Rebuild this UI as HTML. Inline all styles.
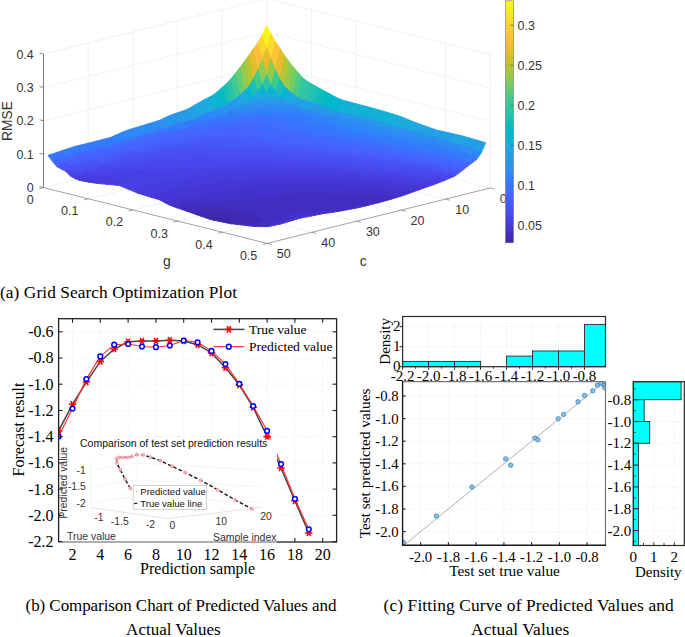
<!DOCTYPE html><html><head><meta charset="utf-8"><style>html,body{margin:0;padding:0;background:#fff;width:685px;height:637px;overflow:hidden}svg{display:block}.s{font-family:"Liberation Sans",sans-serif}.t{font-family:"Liberation Serif",serif}</style></head><body>
<svg width="685" height="637" viewBox="0 0 685 637">
<rect width="685" height="637" fill="#fff"/>
<line x1="43.5" y1="154.2" x2="266.6" y2="98.8" stroke="#e8e8e8" stroke-width="0.6"/>
<line x1="266.6" y1="98.8" x2="490.2" y2="154.6" stroke="#e8e8e8" stroke-width="0.6"/>
<line x1="43.5" y1="120.8" x2="266.6" y2="65.4" stroke="#e8e8e8" stroke-width="0.6"/>
<line x1="266.6" y1="65.4" x2="490.2" y2="121.2" stroke="#e8e8e8" stroke-width="0.6"/>
<line x1="43.5" y1="87.5" x2="266.6" y2="32.1" stroke="#e8e8e8" stroke-width="0.6"/>
<line x1="266.6" y1="32.1" x2="490.2" y2="87.9" stroke="#e8e8e8" stroke-width="0.6"/>
<line x1="43.5" y1="54.1" x2="266.6" y2="-1.3" stroke="#e8e8e8" stroke-width="0.6"/>
<line x1="266.6" y1="-1.3" x2="490.2" y2="54.5" stroke="#e8e8e8" stroke-width="0.6"/>
<line x1="88.1" y1="176.5" x2="88.1" y2="43.0" stroke="#e8e8e8" stroke-width="0.6"/>
<line x1="132.7" y1="165.4" x2="132.7" y2="31.9" stroke="#e8e8e8" stroke-width="0.6"/>
<line x1="177.4" y1="154.4" x2="177.4" y2="20.8" stroke="#e8e8e8" stroke-width="0.6"/>
<line x1="222.0" y1="143.3" x2="222.0" y2="9.8" stroke="#e8e8e8" stroke-width="0.6"/>
<line x1="266.6" y1="132.2" x2="266.6" y2="-1.3" stroke="#e8e8e8" stroke-width="0.6"/>
<line x1="490.2" y1="188.0" x2="490.2" y2="54.5" stroke="#e8e8e8" stroke-width="0.6"/>
<line x1="311.3" y1="143.4" x2="311.3" y2="9.8" stroke="#e8e8e8" stroke-width="0.6"/>
<line x1="356.0" y1="154.5" x2="356.0" y2="21.0" stroke="#e8e8e8" stroke-width="0.6"/>
<line x1="445.5" y1="176.8" x2="445.5" y2="43.3" stroke="#e8e8e8" stroke-width="0.6"/>
<line x1="88.1" y1="176.5" x2="311.7" y2="232.3" stroke="#e8e8e8" stroke-width="0.6"/>
<line x1="88.2" y1="198.8" x2="311.3" y2="143.4" stroke="#e8e8e8" stroke-width="0.6"/>
<line x1="132.7" y1="165.4" x2="356.3" y2="221.2" stroke="#e8e8e8" stroke-width="0.6"/>
<line x1="132.9" y1="209.9" x2="356.0" y2="154.5" stroke="#e8e8e8" stroke-width="0.6"/>
<line x1="177.4" y1="154.4" x2="401.0" y2="210.2" stroke="#e8e8e8" stroke-width="0.6"/>
<line x1="177.7" y1="221.1" x2="400.8" y2="165.7" stroke="#e8e8e8" stroke-width="0.6"/>
<line x1="222.0" y1="143.3" x2="445.6" y2="199.1" stroke="#e8e8e8" stroke-width="0.6"/>
<line x1="222.4" y1="232.2" x2="445.5" y2="176.8" stroke="#e8e8e8" stroke-width="0.6"/>
<line x1="43.5" y1="187.6" x2="266.6" y2="132.2" stroke="#e8e8e8" stroke-width="0.6"/>
<line x1="266.6" y1="132.2" x2="490.2" y2="188.0" stroke="#e8e8e8" stroke-width="0.6"/>
<path d="M266.6 25.9L271.1 34.1L266.6 47.8L262.1 35.1Z" fill="#f7f51b" stroke="#f7f51b" stroke-width="0.9" stroke-linejoin="round"/>
<path d="M262.1 35.1L266.6 47.8L262.2 59.5L257.7 42.7Z" fill="#fad62d" stroke="#fad62d" stroke-width="0.9" stroke-linejoin="round"/>
<path d="M271.1 34.1L275.6 41.7L271.1 59.3L266.6 47.8Z" fill="#f7dc2a" stroke="#f7dc2a" stroke-width="0.9" stroke-linejoin="round"/>
<path d="M257.7 42.7L262.2 59.5L257.7 70.2L253.2 49.1Z" fill="#febe3c" stroke="#febe3c" stroke-width="0.9" stroke-linejoin="round"/>
<path d="M275.6 41.7L280.0 48.5L275.6 70.1L271.1 59.3Z" fill="#fec338" stroke="#fec338" stroke-width="0.9" stroke-linejoin="round"/>
<path d="M253.2 49.1L257.7 70.2L253.2 79.3L248.8 55.4ZM266.6 47.8L271.1 59.3L266.6 74.8L262.2 59.5ZM280.0 48.5L284.5 55.4L280.0 79.5L275.6 70.1Z" fill="#e6bb2d" stroke="#e6bb2d" stroke-width="0.9" stroke-linejoin="round"/>
<path d="M248.8 55.4L253.2 79.3L248.8 86.5L244.3 61.6ZM284.5 55.4L289.0 61.7L284.5 86.7L280.0 79.5Z" fill="#b9c431" stroke="#b9c431" stroke-width="0.9" stroke-linejoin="round"/>
<path d="M244.3 61.6L248.8 86.5L244.3 91.2L239.8 67.8ZM262.2 59.5L266.6 74.8L262.2 85.5L257.7 70.2ZM271.1 59.3L275.6 70.1L271.1 85.5L266.6 74.8ZM289.0 61.7L293.4 67.0L289.0 90.8L284.5 86.7Z" fill="#8fcb4e" stroke="#8fcb4e" stroke-width="0.9" stroke-linejoin="round"/>
<path d="M239.8 67.8L244.3 91.2L239.8 94.9L235.4 73.3Z" fill="#64cd6f" stroke="#64cd6f" stroke-width="0.9" stroke-linejoin="round"/>
<path d="M293.4 67.0L297.9 72.4L293.5 94.2L289.0 90.8Z" fill="#72cd64" stroke="#72cd64" stroke-width="0.9" stroke-linejoin="round"/>
<path d="M235.4 73.3L239.8 94.9L235.4 99.0L230.9 78.9ZM257.7 70.2L262.2 85.5L257.7 91.4L253.2 79.3ZM275.6 70.1L280.0 79.5L275.6 91.4L271.1 85.5Z" fill="#3fca8e" stroke="#3fca8e" stroke-width="0.9" stroke-linejoin="round"/>
<path d="M297.9 72.4L302.4 77.6L297.9 97.8L293.5 94.2Z" fill="#4acb84" stroke="#4acb84" stroke-width="0.9" stroke-linejoin="round"/>
<path d="M230.9 78.9L235.4 99.0L230.9 101.7L226.5 83.5ZM266.6 74.8L271.1 85.5L266.6 92.6L262.2 85.5ZM306.9 81.1L311.3 83.7L306.9 100.5L302.4 99.7Z" fill="#2cc4a7" stroke="#2cc4a7" stroke-width="0.9" stroke-linejoin="round"/>
<path d="M302.4 77.6L306.9 81.1L302.4 99.7L297.9 97.8Z" fill="#31c69f" stroke="#31c69f" stroke-width="0.9" stroke-linejoin="round"/>
<path d="M226.5 83.5L230.9 101.7L226.5 103.7L222.0 87.6ZM253.2 79.3L257.7 91.4L253.2 96.9L248.8 86.5ZM280.0 79.5L284.5 86.7L280.0 97.0L275.6 91.4ZM315.8 86.3L320.3 88.8L315.8 103.8L311.3 102.2Z" fill="#19bfb6" stroke="#19bfb6" stroke-width="0.9" stroke-linejoin="round"/>
<path d="M222.0 87.6L226.5 103.7L222.0 106.5L217.5 91.7ZM324.7 91.2L329.2 93.6L324.8 106.7L320.3 105.2Z" fill="#02bac3" stroke="#02bac3" stroke-width="0.9" stroke-linejoin="round"/>
<path d="M311.3 83.7L315.8 86.3L311.3 102.2L306.9 100.5Z" fill="#24c1ae" stroke="#24c1ae" stroke-width="0.9" stroke-linejoin="round"/>
<path d="M217.5 91.7L222.0 106.5L217.5 108.8L213.1 95.1ZM248.8 86.5L253.2 96.9L248.8 100.2L244.3 91.2ZM262.2 85.5L266.6 92.6L262.2 98.4L257.7 91.4ZM271.1 85.5L275.6 91.4L271.1 98.4L266.6 92.6ZM284.5 86.7L289.0 90.8L284.5 99.9L280.0 97.0ZM338.2 98.4L342.6 100.0L338.2 112.5L333.7 110.2Z" fill="#08b5d0" stroke="#08b5d0" stroke-width="0.9" stroke-linejoin="round"/>
<path d="M213.1 95.1L217.5 108.8L213.1 110.5L208.6 97.4ZM342.6 100.0L347.1 101.3L342.6 113.0L338.2 112.5ZM347.1 101.3L351.6 102.5L347.1 113.7L342.6 113.0ZM351.6 102.5L356.1 103.7L351.6 114.5L347.1 113.7ZM356.1 103.7L360.5 104.9L356.1 115.3L351.6 114.5ZM360.5 104.9L365.0 106.1L360.5 116.7L356.1 115.3ZM365.0 106.1L369.5 107.3L365.0 117.9L360.5 116.7ZM369.5 107.3L373.9 108.5L369.5 119.1L365.0 117.9ZM373.9 108.5L378.4 109.7L373.9 120.1L369.5 119.1ZM378.4 109.7L382.9 111.0L378.4 121.3L373.9 120.1ZM382.9 111.0L387.4 112.4L382.9 122.5L378.4 121.3ZM387.4 112.4L391.8 113.7L387.4 123.8L382.9 122.5ZM391.8 113.7L396.3 115.1L391.8 125.0L387.4 123.8Z" fill="#12b1d6" stroke="#12b1d6" stroke-width="0.9" stroke-linejoin="round"/>
<path d="M320.3 88.8L324.7 91.2L320.3 105.2L315.8 103.8Z" fill="#0bbdbd" stroke="#0bbdbd" stroke-width="0.9" stroke-linejoin="round"/>
<path d="M208.6 97.4L213.1 110.5L208.6 112.1L204.1 99.7ZM244.3 91.2L248.8 100.2L244.3 103.5L239.8 94.9ZM289.0 90.8L293.5 94.2L289.0 102.7L284.5 99.9ZM396.3 115.1L400.8 116.6L396.3 126.4L391.8 125.0ZM400.8 116.6L405.2 118.4L400.8 127.8L396.3 126.4ZM405.2 118.4L409.7 120.2L405.3 129.2L400.8 127.8Z" fill="#18addb" stroke="#18addb" stroke-width="0.9" stroke-linejoin="round"/>
<path d="M204.1 99.7L208.6 112.1L204.2 113.8L199.7 102.2ZM199.7 102.2L204.2 113.8L199.7 116.3L195.2 104.8ZM257.7 91.4L262.2 98.4L257.7 102.1L253.2 96.9ZM275.6 91.4L280.0 97.0L275.6 102.2L271.1 98.4ZM293.5 94.2L297.9 97.8L293.5 104.9L289.0 102.7ZM409.7 120.2L414.2 122.0L409.7 130.3L405.3 129.2ZM414.2 122.0L418.7 123.7L414.2 131.5L409.7 130.3Z" fill="#1ca9df" stroke="#1ca9df" stroke-width="0.9" stroke-linejoin="round"/>
<path d="M329.2 93.6L333.7 96.0L329.2 108.0L324.8 106.7ZM333.7 96.0L338.2 98.4L333.7 110.2L329.2 108.0Z" fill="#01b8ca" stroke="#01b8ca" stroke-width="0.9" stroke-linejoin="round"/>
<path d="M195.2 104.8L199.7 116.3L195.2 119.2L190.8 107.4ZM239.8 94.9L244.3 103.5L239.9 106.1L235.4 99.0ZM266.6 92.6L271.1 98.4L266.7 103.0L262.2 98.4ZM418.7 123.7L423.1 125.3L418.7 132.6L414.2 131.5ZM423.1 125.3L427.6 126.9L423.1 134.0L418.7 132.6ZM427.6 126.9L432.1 128.5L427.6 135.6L423.1 134.0ZM454.4 134.1L458.9 135.1L454.4 143.0L450.0 141.9ZM458.9 135.1L463.4 136.2L458.9 144.2L454.4 143.0ZM463.4 136.2L467.9 137.5L463.4 145.4L458.9 144.2Z" fill="#20a5e3" stroke="#20a5e3" stroke-width="0.9" stroke-linejoin="round"/>
<path d="M190.8 107.4L195.2 119.2L190.8 120.4L186.3 109.7ZM297.9 97.8L302.4 99.7L297.9 106.0L293.5 104.9ZM302.4 99.7L306.9 100.5L302.4 107.2L297.9 106.0ZM306.9 100.5L311.3 102.2L306.9 110.1L302.4 107.2ZM311.3 102.2L315.8 103.8L311.3 110.6L306.9 110.1ZM432.1 128.5L436.5 130.1L432.1 137.1L427.6 135.6ZM436.5 130.1L441.0 131.1L436.6 138.3L432.1 137.1ZM441.0 131.1L445.5 132.1L441.0 139.5L436.6 138.3ZM445.5 132.1L450.0 133.1L445.5 140.7L441.0 139.5ZM450.0 133.1L454.4 134.1L450.0 141.9L445.5 140.7ZM467.9 137.5L472.3 138.8L467.9 146.7L463.4 145.4ZM472.3 138.8L476.8 140.1L472.3 148.2L467.9 146.7ZM476.8 140.1L481.3 141.4L476.8 150.0L472.3 148.2ZM481.3 141.4L485.7 142.7L481.3 152.8L476.8 150.0Z" fill="#23a0e5" stroke="#23a0e5" stroke-width="0.9" stroke-linejoin="round"/>
<path d="M186.3 109.7L190.8 120.4L186.3 121.6L181.8 111.3ZM181.8 111.3L186.3 121.6L181.8 122.7L177.4 112.8ZM235.4 99.0L239.9 106.1L235.4 108.0L230.9 101.7ZM253.2 96.9L257.7 102.1L253.3 105.0L248.8 100.2ZM280.0 97.0L284.5 99.9L280.1 104.7L275.6 102.2ZM315.8 103.8L320.3 105.2L315.8 111.4L311.3 110.6ZM320.3 105.2L324.8 106.7L320.3 112.6L315.8 111.4ZM324.8 106.7L329.2 108.0L324.8 114.5L320.3 112.6ZM329.2 108.0L333.7 110.2L329.2 116.0L324.8 114.5Z" fill="#259be8" stroke="#259be8" stroke-width="0.9" stroke-linejoin="round"/>
<path d="M177.4 112.8L181.8 122.7L177.4 123.8L172.9 114.3ZM172.9 114.3L177.4 123.8L172.9 125.7L168.4 116.1ZM168.4 116.1L172.9 125.7L168.5 127.5L164.0 118.2ZM230.9 101.7L235.4 108.0L230.9 110.1L226.5 103.7ZM226.5 103.7L230.9 110.1L226.5 113.9L222.0 106.5ZM248.8 100.2L253.3 105.0L248.8 107.2L244.3 103.5ZM262.2 98.4L266.7 103.0L262.2 105.5L257.7 102.1ZM271.1 98.4L275.6 102.2L271.1 105.6L266.7 103.0ZM284.5 99.9L289.0 102.7L284.5 106.5L280.1 104.7ZM333.7 110.2L338.2 112.5L333.7 116.8L329.2 116.0ZM342.6 113.0L347.1 113.7L342.7 118.4L338.2 117.5ZM347.1 113.7L351.6 114.5L347.1 119.4L342.7 118.4ZM351.6 114.5L356.1 115.3L351.6 120.4L347.1 119.4ZM356.1 115.3L360.5 116.7L356.1 121.2L351.6 120.4ZM360.5 116.7L365.0 117.9L360.5 122.0L356.1 121.2ZM365.0 117.9L369.5 119.1L365.0 122.8L360.5 122.0ZM369.5 119.1L373.9 120.1L369.5 123.9L365.0 122.8ZM373.9 120.1L378.4 121.3L374.0 125.1L369.5 123.9ZM378.4 121.3L382.9 122.5L378.4 126.5L374.0 125.1ZM382.9 122.5L387.4 123.8L382.9 127.8L378.4 126.5ZM387.4 123.8L391.8 125.0L387.4 129.1L382.9 127.8ZM391.8 125.0L396.3 126.4L391.8 130.4L387.4 129.1ZM396.3 126.4L400.8 127.8L396.3 131.9L391.8 130.4Z" fill="#2797eb" stroke="#2797eb" stroke-width="0.9" stroke-linejoin="round"/>
<path d="M164.0 118.2L168.5 127.5L164.0 129.4L159.5 120.3ZM222.0 106.5L226.5 113.9L222.0 115.1L217.5 108.8ZM244.3 103.5L248.8 107.2L244.3 111.5L239.9 106.1ZM257.7 102.1L262.2 105.5L257.7 109.5L253.3 105.0ZM275.6 102.2L280.1 104.7L275.6 109.2L271.1 105.6ZM289.0 102.7L293.5 104.9L289.0 110.3L284.5 106.5ZM338.2 112.5L342.6 113.0L338.2 117.5L333.7 116.8ZM400.8 127.8L405.3 129.2L400.8 133.3L396.3 131.9ZM405.3 129.2L409.7 130.3L405.3 134.6L400.8 133.3ZM409.7 130.3L414.2 131.5L409.7 135.8L405.3 134.6ZM414.2 131.5L418.7 132.6L414.2 137.0L409.7 135.8ZM418.7 132.6L423.1 134.0L418.7 138.5L414.2 137.0ZM423.1 134.0L427.6 135.6L423.1 140.0L418.7 138.5ZM427.6 135.6L432.1 137.1L427.6 141.5L423.1 140.0Z" fill="#2b91ef" stroke="#2b91ef" stroke-width="0.9" stroke-linejoin="round"/>
<path d="M159.5 120.3L164.0 129.4L159.5 130.6L155.1 121.7ZM155.1 121.7L159.5 130.6L155.1 131.8L150.6 123.1ZM150.6 123.1L155.1 131.8L150.6 133.0L146.1 124.4ZM146.1 124.4L150.6 133.0L146.1 134.2L141.7 125.8ZM141.7 125.8L146.1 134.2L141.7 135.4L137.2 127.2ZM137.2 127.2L141.7 135.4L137.2 136.6L132.8 128.5ZM217.5 108.8L222.0 115.1L217.5 116.3L213.1 110.5ZM213.1 110.5L217.5 116.3L213.1 117.8L208.6 112.1ZM239.9 106.1L244.3 111.5L239.9 112.7L235.4 108.0ZM253.3 105.0L257.7 109.5L253.3 111.6L248.8 107.2ZM266.7 103.0L271.1 105.6L266.7 110.5L262.2 105.5ZM280.1 104.7L284.5 106.5L280.1 110.9L275.6 109.2ZM293.5 104.9L297.9 106.0L293.5 110.9L289.0 110.3ZM297.9 106.0L302.4 107.2L297.9 111.2L293.5 110.9ZM302.4 107.2L306.9 110.1L302.4 112.9L297.9 111.2ZM311.3 110.6L315.8 111.4L311.4 115.1L306.9 114.2ZM315.8 111.4L320.3 112.6L315.8 116.1L311.4 115.1ZM320.3 112.6L324.8 114.5L320.3 117.1L315.8 116.1ZM342.7 118.4L347.1 119.4L342.7 121.8L338.2 120.8ZM347.1 119.4L351.6 120.4L347.1 122.9L342.7 121.8ZM351.6 120.4L356.1 121.2L351.6 123.8L347.1 122.9ZM356.1 121.2L360.5 122.0L356.1 124.7L351.6 123.8ZM360.5 122.0L365.0 122.8L360.6 125.7L356.1 124.7ZM365.0 122.8L369.5 123.9L365.0 126.8L360.6 125.7ZM369.5 123.9L374.0 125.1L369.5 128.1L365.0 126.8ZM374.0 125.1L378.4 126.5L374.0 129.4L369.5 128.1ZM378.4 126.5L382.9 127.8L378.4 130.8L374.0 129.4ZM382.9 127.8L387.4 129.1L382.9 132.1L378.4 130.8ZM387.4 129.1L391.8 130.4L387.4 133.5L382.9 132.1ZM391.8 130.4L396.3 131.9L391.9 134.9L387.4 133.5ZM396.3 131.9L400.8 133.3L396.3 136.4L391.9 134.9ZM432.1 137.1L436.6 138.3L432.1 142.8L427.6 141.5ZM436.6 138.3L441.0 139.5L436.6 144.1L432.1 142.8ZM441.0 139.5L445.5 140.7L441.0 145.4L436.6 144.1ZM445.5 140.7L450.0 141.9L445.5 146.7L441.0 145.4ZM450.0 141.9L454.4 143.0L450.0 148.0L445.5 146.7ZM454.4 143.0L458.9 144.2L454.5 149.3L450.0 148.0ZM458.9 144.2L463.4 145.4L458.9 150.7L454.5 149.3ZM463.4 145.4L467.9 146.7L463.4 152.2L458.9 150.7ZM467.9 146.7L472.3 148.2L467.9 154.0L463.4 152.2ZM472.3 148.2L476.8 150.0L472.3 156.2L467.9 154.0Z" fill="#2d8cf3" stroke="#2d8cf3" stroke-width="0.9" stroke-linejoin="round"/>
<path d="M164.0 129.4L168.5 132.2L164.0 133.5L159.5 130.6ZM159.5 130.6L164.0 133.5L159.5 134.8L155.1 131.8ZM155.1 131.8L159.5 134.8L155.1 136.1L150.6 133.0ZM150.6 133.0L155.1 136.1L150.6 137.3L146.1 134.2ZM146.1 134.2L150.6 137.3L146.2 138.6L141.7 135.4ZM141.7 135.4L146.2 138.6L141.7 139.9L137.2 136.6ZM137.2 136.6L141.7 139.9L137.2 141.1L132.8 137.8ZM132.8 137.8L137.2 141.1L132.8 142.4L128.3 139.1ZM128.3 139.1L132.8 142.4L128.3 143.6L123.8 140.3ZM123.8 140.3L128.3 143.6L123.8 144.8L119.4 141.5ZM119.4 141.5L123.8 144.8L119.4 146.1L114.9 142.7ZM114.9 142.7L119.4 146.1L114.9 147.3L110.5 143.9ZM110.5 143.9L114.9 147.3L110.5 148.5L106.0 145.1ZM106.0 145.1L110.5 148.5L106.0 149.8L101.5 146.3ZM204.2 121.9L208.6 123.7L204.2 125.0L199.7 123.2ZM199.7 123.2L204.2 125.0L199.7 126.4L195.2 124.5ZM195.2 124.5L199.7 126.4L195.2 127.7L190.8 125.8ZM190.8 125.8L195.2 127.7L190.8 129.1L186.3 127.1ZM186.3 127.1L190.8 129.1L186.3 130.4L181.9 128.4ZM181.9 128.4L186.3 130.4L181.9 131.7L177.4 129.7ZM226.5 118.3L231.0 120.1L226.5 121.5L222.0 119.7ZM222.0 119.7L226.5 121.5L222.0 122.8L217.6 121.0ZM217.6 121.0L222.0 122.8L217.6 124.2L213.1 122.3ZM213.1 122.3L217.6 124.2L213.1 125.6L208.6 123.7ZM208.6 123.7L213.1 125.6L208.6 127.0L204.2 125.0ZM204.2 125.0L208.6 127.0L204.2 128.4L199.7 126.4ZM244.3 116.0L248.8 117.9L244.4 119.3L239.9 117.4ZM239.9 117.4L244.4 119.3L239.9 120.7L235.4 118.7ZM235.4 118.7L239.9 120.7L235.4 122.1L231.0 120.1ZM231.0 120.1L235.4 122.1L231.0 123.6L226.5 121.5ZM226.5 121.5L231.0 123.6L226.5 125.0L222.0 122.8ZM222.0 122.8L226.5 125.0L222.0 126.5L217.6 124.2ZM253.3 116.4L257.7 117.8L253.3 119.3L248.8 117.9ZM248.8 117.9L253.3 119.3L248.8 120.7L244.4 119.3ZM244.4 119.3L248.8 120.7L244.4 122.2L239.9 120.7ZM239.9 120.7L244.4 122.2L239.9 123.7L235.4 122.1ZM262.2 116.3L266.7 117.5L262.2 119.1L257.7 117.8ZM257.7 117.8L262.2 119.1L257.8 120.6L253.3 119.3ZM253.3 119.3L257.8 120.6L253.3 122.1L248.8 120.7ZM248.8 120.7L253.3 122.1L248.8 123.7L244.4 122.2ZM271.1 115.9L275.6 117.0L271.2 118.7L266.7 117.5ZM266.7 117.5L271.2 118.7L266.7 120.2L262.2 119.1ZM262.2 119.1L266.7 120.2L262.2 121.8L257.8 120.6ZM257.8 120.6L262.2 121.8L257.8 123.4L253.3 122.1ZM271.2 118.7L275.6 119.7L271.2 121.3L266.7 120.2ZM266.7 120.2L271.2 121.3L266.7 123.0L262.2 121.8ZM262.2 121.8L266.7 123.0L262.2 124.5L257.8 123.4ZM275.6 119.7L280.1 120.6L275.6 122.3L271.2 121.3ZM271.2 121.3L275.6 122.3L271.2 123.9L266.7 123.0ZM266.7 123.0L271.2 123.9L266.7 125.6L262.2 124.5ZM280.1 120.6L284.6 121.5L280.1 123.2L275.6 122.3ZM275.6 122.3L280.1 123.2L275.6 124.9L271.2 123.9ZM271.2 123.9L275.6 124.9L271.2 126.6L266.7 125.6ZM284.6 121.5L289.0 122.4L284.6 124.2L280.1 123.2ZM280.1 123.2L284.6 124.2L280.1 125.9L275.6 124.9ZM275.6 124.9L280.1 125.9L275.7 127.7L271.2 126.6ZM284.6 124.2L289.1 125.3L284.6 127.1L280.1 125.9ZM280.1 125.9L284.6 127.1L280.1 128.9L275.7 127.7ZM289.1 125.3L293.5 126.5L289.1 128.3L284.6 127.1ZM284.6 127.1L289.1 128.3L284.6 130.2L280.1 128.9ZM293.5 126.5L298.0 127.6L293.5 129.5L289.1 128.3ZM289.1 128.3L293.5 129.5L289.1 131.4L284.6 130.2ZM298.0 127.6L302.5 128.7L298.0 130.7L293.5 129.5ZM293.5 129.5L298.0 130.7L293.5 132.6L289.1 131.4ZM302.5 128.7L306.9 130.0L302.5 132.0L298.0 130.7ZM298.0 130.7L302.5 132.0L298.0 134.0L293.5 132.6ZM306.9 130.0L311.4 131.3L306.9 133.4L302.5 132.0ZM311.4 131.3L315.9 132.7L311.4 134.9L306.9 133.4ZM320.3 130.5L324.8 131.9L320.4 134.1L315.9 132.7ZM315.9 132.7L320.4 134.1L315.9 136.2L311.4 134.9ZM324.8 131.9L329.3 133.2L324.8 135.5L320.4 134.1ZM320.4 134.1L324.8 135.5L320.4 137.4L315.9 136.2ZM329.3 133.2L333.8 134.4L329.3 136.7L324.8 135.5ZM333.8 134.4L338.2 135.6L333.8 137.8L329.3 136.7ZM338.2 135.6L342.7 136.9L338.2 139.0L333.8 137.8ZM342.7 136.9L347.2 138.2L342.7 140.3L338.2 139.0ZM347.2 138.2L351.6 139.6L347.2 141.8L342.7 140.3ZM351.6 139.6L356.1 141.1L351.7 143.3L347.2 141.8ZM360.6 138.6L365.1 140.0L360.6 142.5L356.1 141.1ZM365.1 140.0L369.5 141.4L365.1 143.9L360.6 142.5ZM369.5 141.4L374.0 142.8L369.5 145.3L365.1 143.9ZM374.0 142.8L378.5 144.2L374.0 146.8L369.5 145.3ZM387.4 142.9L391.9 144.3L387.4 147.1L382.9 145.7ZM391.9 144.3L396.3 145.7L391.9 148.5L387.4 147.1ZM396.3 145.7L400.8 147.0L396.4 149.9L391.9 148.5ZM400.8 147.0L405.3 148.6L400.8 151.5L396.4 149.9ZM405.3 148.6L409.8 150.1L405.3 153.0L400.8 151.5ZM418.7 148.5L423.2 149.9L418.7 152.9L414.2 151.5ZM423.2 149.9L427.6 151.3L423.2 154.4L418.7 152.9ZM427.6 151.3L432.1 152.7L427.7 155.8L423.2 154.4ZM432.1 152.7L436.6 154.1L432.1 157.3L427.7 155.8ZM436.6 154.1L441.1 155.5L436.6 158.8L432.1 157.3ZM458.9 156.5L463.4 158.4L458.9 162.1L454.5 160.3ZM463.4 158.4L467.9 160.4L463.4 164.1L458.9 162.1Z" fill="#3e6fff" stroke="#3e6fff" stroke-width="0.9" stroke-linejoin="round"/>
<path d="M132.8 128.5L137.2 136.6L132.8 137.8L128.3 129.9ZM128.3 129.9L132.8 137.8L128.3 139.1L123.8 131.5ZM123.8 131.5L128.3 139.1L123.8 140.3L119.4 133.5ZM208.6 112.1L213.1 117.8L208.6 120.0L204.2 113.8ZM204.2 113.8L208.6 120.0L204.2 121.9L199.7 116.3ZM235.4 108.0L239.9 112.7L235.4 113.9L230.9 110.1ZM248.8 107.2L253.3 111.6L248.8 113.1L244.3 111.5ZM262.2 105.5L266.7 110.5L262.2 111.8L257.7 109.5ZM271.1 105.6L275.6 109.2L271.1 111.4L266.7 110.5ZM284.5 106.5L289.0 110.3L284.5 112.0L280.1 110.9ZM306.9 110.1L311.3 110.6L306.9 114.2L302.4 112.9ZM324.8 114.5L329.2 116.0L324.8 118.0L320.3 117.1ZM329.2 116.0L333.7 116.8L329.2 118.9L324.8 118.0ZM333.7 116.8L338.2 117.5L333.7 119.7L329.2 118.9ZM329.2 118.9L333.7 119.7L329.3 122.2L324.8 121.2ZM338.2 117.5L342.7 118.4L338.2 120.8L333.7 119.7ZM333.7 119.7L338.2 120.8L333.7 123.3L329.3 122.2ZM338.2 120.8L342.7 121.8L338.2 124.4L333.7 123.3ZM342.7 121.8L347.1 122.9L342.7 125.5L338.2 124.4ZM347.1 122.9L351.6 123.8L347.1 126.5L342.7 125.5ZM351.6 123.8L356.1 124.7L351.6 127.5L347.1 126.5ZM356.1 124.7L360.6 125.7L356.1 128.5L351.6 127.5ZM360.6 125.7L365.0 126.8L360.6 129.7L356.1 128.5ZM365.0 126.8L369.5 128.1L365.0 131.1L360.6 129.7ZM369.5 128.1L374.0 129.4L369.5 132.5L365.0 131.1ZM374.0 129.4L378.4 130.8L374.0 133.9L369.5 132.5ZM378.4 130.8L382.9 132.1L378.4 135.3L374.0 133.9ZM382.9 132.1L387.4 133.5L382.9 136.7L378.4 135.3ZM400.8 133.3L405.3 134.6L400.8 137.7L396.3 136.4ZM405.3 134.6L409.7 135.8L405.3 139.0L400.8 137.7ZM409.7 135.8L414.2 137.0L409.7 140.3L405.3 139.0ZM414.2 137.0L418.7 138.5L414.2 141.8L409.7 140.3ZM418.7 138.5L423.1 140.0L418.7 143.4L414.2 141.8ZM423.1 140.0L427.6 141.5L423.2 144.9L418.7 143.4ZM476.8 150.0L481.3 152.8L476.8 159.3L472.3 156.2Z" fill="#2e87f7" stroke="#2e87f7" stroke-width="0.9" stroke-linejoin="round"/>
<path d="M119.4 133.5L123.8 140.3L119.4 141.5L114.9 135.5ZM114.9 135.5L119.4 141.5L114.9 142.7L110.4 137.5ZM199.7 116.3L204.2 121.9L199.7 123.2L195.2 119.2ZM230.9 110.1L235.4 113.9L230.9 116.4L226.5 113.9ZM275.6 109.2L280.1 110.9L275.6 113.6L271.1 111.4ZM289.0 110.3L293.5 110.9L289.0 114.3L284.5 112.0ZM293.5 110.9L297.9 111.2L293.5 114.9L289.0 114.3ZM297.9 111.2L302.4 112.9L298.0 115.5L293.5 114.9ZM302.4 112.9L306.9 114.2L302.4 116.3L298.0 115.5ZM306.9 114.2L311.4 115.1L306.9 117.3L302.4 116.3ZM311.4 115.1L315.8 116.1L311.4 118.3L306.9 117.3ZM315.8 116.1L320.3 117.1L315.8 119.2L311.4 118.3ZM311.4 118.3L315.8 119.2L311.4 121.5L306.9 120.4ZM320.3 117.1L324.8 118.0L320.3 120.2L315.8 119.2ZM315.8 119.2L320.3 120.2L315.9 122.5L311.4 121.5ZM324.8 118.0L329.2 118.9L324.8 121.2L320.3 120.2ZM320.3 120.2L324.8 121.2L320.3 123.5L315.9 122.5ZM324.8 121.2L329.3 122.2L324.8 124.5L320.3 123.5ZM329.3 122.2L333.7 123.3L329.3 125.7L324.8 124.5ZM333.7 123.3L338.2 124.4L333.7 126.9L329.3 125.7ZM338.2 124.4L342.7 125.5L338.2 128.1L333.7 126.9ZM342.7 125.5L347.1 126.5L342.7 129.2L338.2 128.1ZM347.1 126.5L351.6 127.5L347.2 130.3L342.7 129.2ZM351.6 127.5L356.1 128.5L351.6 131.4L347.2 130.3ZM356.1 128.5L360.6 129.7L356.1 132.6L351.6 131.4ZM360.6 129.7L365.0 131.1L360.6 134.1L356.1 132.6ZM365.0 131.1L369.5 132.5L365.0 135.6L360.6 134.1ZM369.5 132.5L374.0 133.9L369.5 137.0L365.0 135.6ZM374.0 133.9L378.4 135.3L374.0 138.4L369.5 137.0ZM387.4 133.5L391.9 134.9L387.4 138.2L382.9 136.7ZM391.9 134.9L396.3 136.4L391.9 139.6L387.4 138.2ZM396.3 136.4L400.8 137.7L396.3 141.0L391.9 139.6ZM400.8 137.7L405.3 139.0L400.8 142.4L396.3 141.0ZM405.3 139.0L409.7 140.3L405.3 143.8L400.8 142.4ZM409.7 140.3L414.2 141.8L409.8 145.4L405.3 143.8ZM427.6 141.5L432.1 142.8L427.6 146.2L423.2 144.9ZM432.1 142.8L436.6 144.1L432.1 147.6L427.6 146.2ZM436.6 144.1L441.0 145.4L436.6 149.0L432.1 147.6ZM441.0 145.4L445.5 146.7L441.0 150.4L436.6 149.0ZM445.5 146.7L450.0 148.0L445.5 151.8L441.0 150.4ZM450.0 148.0L454.5 149.3L450.0 153.3L445.5 151.8ZM454.5 149.3L458.9 150.7L454.5 154.8L450.0 153.3ZM458.9 150.7L463.4 152.2L458.9 156.5L454.5 154.8Z" fill="#2f81fa" stroke="#2f81fa" stroke-width="0.9" stroke-linejoin="round"/>
<path d="M110.4 137.5L114.9 142.7L110.5 143.9L106.0 138.7ZM106.0 138.7L110.5 143.9L106.0 145.1L101.5 139.8ZM101.5 139.8L106.0 145.1L101.5 146.3L97.1 140.9ZM97.1 140.9L101.5 146.3L97.1 147.5L92.6 142.1ZM92.6 142.1L97.1 147.5L92.6 148.7L88.1 143.2ZM88.1 143.2L92.6 148.7L88.1 150.0L83.7 144.3ZM83.7 144.3L88.1 150.0L83.7 151.2L79.2 145.4ZM79.2 145.4L83.7 151.2L79.2 152.5L74.7 146.5ZM74.7 146.5L79.2 152.5L74.8 153.8L70.3 148.0ZM70.3 148.0L74.8 153.8L70.3 155.2L65.8 149.5ZM65.8 149.5L70.3 155.2L65.8 156.6L61.4 150.9ZM195.2 119.2L199.7 123.2L195.2 124.5L190.8 120.4ZM190.8 120.4L195.2 124.5L190.8 125.8L186.3 121.6ZM186.3 121.6L190.8 125.8L186.3 127.1L181.8 122.7ZM181.8 122.7L186.3 127.1L181.9 128.4L177.4 123.8ZM177.4 123.8L181.9 128.4L177.4 129.7L172.9 125.7ZM226.5 113.9L230.9 116.4L226.5 118.3L222.0 115.1ZM222.0 115.1L226.5 118.3L222.0 119.7L217.5 116.3ZM217.5 116.3L222.0 119.7L217.6 121.0L213.1 117.8ZM244.3 111.5L248.8 113.1L244.3 116.0L239.9 112.7ZM239.9 112.7L244.3 116.0L239.9 117.4L235.4 113.9ZM235.4 113.9L239.9 117.4L235.4 118.7L230.9 116.4ZM257.7 109.5L262.2 111.8L257.7 114.4L253.3 111.6ZM253.3 111.6L257.7 114.4L253.3 116.4L248.8 113.1ZM248.8 113.1L253.3 116.4L248.8 117.9L244.3 116.0ZM266.7 110.5L271.1 111.4L266.7 114.4L262.2 111.8ZM262.2 111.8L266.7 114.4L262.2 116.3L257.7 114.4ZM271.1 111.4L275.6 113.6L271.1 115.9L266.7 114.4ZM280.1 110.9L284.5 112.0L280.1 115.2L275.6 113.6ZM284.5 112.0L289.0 114.3L284.5 116.1L280.1 115.2ZM289.0 114.3L293.5 114.9L289.0 116.8L284.5 116.1ZM293.5 114.9L298.0 115.5L293.5 117.5L289.0 116.8ZM298.0 115.5L302.4 116.3L298.0 118.4L293.5 117.5ZM293.5 117.5L298.0 118.4L293.5 120.4L289.0 119.5ZM302.4 116.3L306.9 117.3L302.4 119.4L298.0 118.4ZM298.0 118.4L302.4 119.4L298.0 121.5L293.5 120.4ZM306.9 117.3L311.4 118.3L306.9 120.4L302.4 119.4ZM302.4 119.4L306.9 120.4L302.4 122.6L298.0 121.5ZM306.9 120.4L311.4 121.5L306.9 123.6L302.4 122.6ZM311.4 121.5L315.9 122.5L311.4 124.6L306.9 123.6ZM315.9 122.5L320.3 123.5L315.9 125.8L311.4 124.6ZM320.3 123.5L324.8 124.5L320.3 126.9L315.9 125.8ZM324.8 124.5L329.3 125.7L324.8 128.2L320.3 126.9ZM329.3 125.7L333.7 126.9L329.3 129.4L324.8 128.2ZM333.7 126.9L338.2 128.1L333.8 130.7L329.3 129.4ZM338.2 128.1L342.7 129.2L338.2 131.9L333.8 130.7ZM342.7 129.2L347.2 130.3L342.7 133.0L338.2 131.9ZM347.2 130.3L351.6 131.4L347.2 134.2L342.7 133.0ZM351.6 131.4L356.1 132.6L351.6 135.5L347.2 134.2ZM356.1 132.6L360.6 134.1L356.1 137.0L351.6 135.5ZM360.6 134.1L365.0 135.6L360.6 138.6L356.1 137.0ZM378.4 135.3L382.9 136.7L378.5 139.9L374.0 138.4ZM382.9 136.7L387.4 138.2L382.9 141.4L378.5 139.9ZM387.4 138.2L391.9 139.6L387.4 142.9L382.9 141.4ZM391.9 139.6L396.3 141.0L391.9 144.3L387.4 142.9ZM396.3 141.0L400.8 142.4L396.3 145.7L391.9 144.3ZM414.2 141.8L418.7 143.4L414.2 146.9L409.8 145.4ZM418.7 143.4L423.2 144.9L418.7 148.5L414.2 146.9ZM423.2 144.9L427.6 146.2L423.2 149.9L418.7 148.5ZM427.6 146.2L432.1 147.6L427.6 151.3L423.2 149.9ZM432.1 147.6L436.6 149.0L432.1 152.7L427.6 151.3ZM463.4 152.2L467.9 154.0L463.4 158.4L458.9 156.5ZM467.9 154.0L472.3 156.2L467.9 160.4L463.4 158.4Z" fill="#327cfc" stroke="#327cfc" stroke-width="0.9" stroke-linejoin="round"/>
<path d="M101.5 146.3L106.0 149.8L101.5 151.0L97.1 147.5ZM97.1 147.5L101.5 151.0L97.1 152.3L92.6 148.7ZM92.6 148.7L97.1 152.3L92.6 153.6L88.1 150.0ZM88.1 150.0L92.6 153.6L88.2 155.0L83.7 151.2ZM83.7 151.2L88.2 155.0L83.7 156.4L79.2 152.5ZM79.2 152.5L83.7 156.4L79.2 157.8L74.8 153.8ZM74.8 153.8L79.2 157.8L74.8 159.2L70.3 155.2ZM70.3 155.2L74.8 159.2L70.3 160.8L65.8 156.6ZM65.8 156.6L70.3 160.8L65.8 162.4L61.4 158.0ZM177.4 129.7L181.9 131.7L177.4 133.1L172.9 131.0ZM172.9 131.0L177.4 133.1L172.9 134.4L168.5 132.2ZM168.5 132.2L172.9 134.4L168.5 135.7L164.0 133.5ZM164.0 133.5L168.5 135.7L164.0 137.0L159.5 134.8ZM159.5 134.8L164.0 137.0L159.6 138.3L155.1 136.1ZM155.1 136.1L159.6 138.3L155.1 139.6L150.6 137.3ZM150.6 137.3L155.1 139.6L150.6 140.9L146.2 138.6ZM146.2 138.6L150.6 140.9L146.2 142.1L141.7 139.9ZM141.7 139.9L146.2 142.1L141.7 143.4L137.2 141.1ZM137.2 141.1L141.7 143.4L137.2 144.7L132.8 142.4ZM199.7 126.4L204.2 128.4L199.7 129.9L195.2 127.7ZM195.2 127.7L199.7 129.9L195.3 131.2L190.8 129.1ZM190.8 129.1L195.3 131.2L190.8 132.6L186.3 130.4ZM186.3 130.4L190.8 132.6L186.3 133.9L181.9 131.7ZM181.9 131.7L186.3 133.9L181.9 135.3L177.4 133.1ZM177.4 133.1L181.9 135.3L177.4 136.6L172.9 134.4ZM172.9 134.4L177.4 136.6L172.9 138.0L168.5 135.7ZM217.6 124.2L222.0 126.5L217.6 127.9L213.1 125.6ZM213.1 125.6L217.6 127.9L213.1 129.3L208.6 127.0ZM208.6 127.0L213.1 129.3L208.7 130.8L204.2 128.4ZM204.2 128.4L208.7 130.8L204.2 132.2L199.7 129.9ZM199.7 129.9L204.2 132.2L199.7 133.7L195.3 131.2ZM235.4 122.1L239.9 123.7L235.4 125.2L231.0 123.6ZM231.0 123.6L235.4 125.2L231.0 126.7L226.5 125.0ZM226.5 125.0L231.0 126.7L226.5 128.2L222.0 126.5ZM222.0 126.5L226.5 128.2L222.0 129.6L217.6 127.9ZM244.4 122.2L248.8 123.7L244.4 125.2L239.9 123.7ZM239.9 123.7L244.4 125.2L239.9 126.7L235.4 125.2ZM235.4 125.2L239.9 126.7L235.4 128.2L231.0 126.7ZM231.0 126.7L235.4 128.2L231.0 129.7L226.5 128.2ZM253.3 122.1L257.8 123.4L253.3 125.0L248.8 123.7ZM248.8 123.7L253.3 125.0L248.8 126.5L244.4 125.2ZM244.4 125.2L248.8 126.5L244.4 128.0L239.9 126.7ZM239.9 126.7L244.4 128.0L239.9 129.6L235.4 128.2ZM257.8 123.4L262.2 124.5L257.8 126.1L253.3 125.0ZM253.3 125.0L257.8 126.1L253.3 127.7L248.8 126.5ZM248.8 126.5L253.3 127.7L248.9 129.3L244.4 128.0ZM262.2 124.5L266.7 125.6L262.2 127.2L257.8 126.1ZM257.8 126.1L262.2 127.2L257.8 128.9L253.3 127.7ZM253.3 127.7L257.8 128.9L253.3 130.5L248.9 129.3ZM266.7 125.6L271.2 126.6L266.7 128.3L262.2 127.2ZM262.2 127.2L266.7 128.3L262.3 130.0L257.8 128.9ZM257.8 128.9L262.3 130.0L257.8 131.7L253.3 130.5ZM271.2 126.6L275.7 127.7L271.2 129.4L266.7 128.3ZM266.7 128.3L271.2 129.4L266.7 131.2L262.3 130.0ZM262.3 130.0L266.7 131.2L262.3 133.0L257.8 131.7ZM275.7 127.7L280.1 128.9L275.7 130.7L271.2 129.4ZM271.2 129.4L275.7 130.7L271.2 132.5L266.7 131.2ZM266.7 131.2L271.2 132.5L266.7 134.4L262.3 133.0ZM280.1 128.9L284.6 130.2L280.1 132.0L275.7 130.7ZM275.7 130.7L280.1 132.0L275.7 133.9L271.2 132.5ZM284.6 130.2L289.1 131.4L284.6 133.3L280.1 132.0ZM280.1 132.0L284.6 133.3L280.1 135.1L275.7 133.9ZM289.1 131.4L293.5 132.6L289.1 134.5L284.6 133.3ZM284.6 133.3L289.1 134.5L284.6 136.2L280.1 135.1ZM293.5 132.6L298.0 134.0L293.6 135.8L289.1 134.5ZM289.1 134.5L293.6 135.8L289.1 137.5L284.6 136.2ZM302.5 132.0L306.9 133.4L302.5 135.3L298.0 134.0ZM298.0 134.0L302.5 135.3L298.0 137.1L293.6 135.8ZM306.9 133.4L311.4 134.9L307.0 136.7L302.5 135.3ZM302.5 135.3L307.0 136.7L302.5 138.5L298.0 137.1ZM311.4 134.9L315.9 136.2L311.4 138.0L307.0 136.7ZM307.0 136.7L311.4 138.0L307.0 139.9L302.5 138.5ZM315.9 136.2L320.4 137.4L315.9 139.3L311.4 138.0ZM324.8 135.5L329.3 136.7L324.8 138.6L320.4 137.4ZM320.4 137.4L324.8 138.6L320.4 140.6L315.9 139.3ZM329.3 136.7L333.8 137.8L329.3 139.8L324.8 138.6ZM324.8 138.6L329.3 139.8L324.8 141.8L320.4 140.6ZM333.8 137.8L338.2 139.0L333.8 141.1L329.3 139.8ZM329.3 139.8L333.8 141.1L329.3 143.1L324.8 141.8ZM338.2 139.0L342.7 140.3L338.3 142.4L333.8 141.1ZM333.8 141.1L338.3 142.4L333.8 144.5L329.3 143.1ZM342.7 140.3L347.2 141.8L342.7 143.9L338.3 142.4ZM338.3 142.4L342.7 143.9L338.3 146.1L333.8 144.5ZM347.2 141.8L351.7 143.3L347.2 145.5L342.7 143.9ZM356.1 141.1L360.6 142.5L356.1 144.8L351.7 143.3ZM351.7 143.3L356.1 144.8L351.7 147.0L347.2 145.5ZM360.6 142.5L365.1 143.9L360.6 146.2L356.1 144.8ZM365.1 143.9L369.5 145.3L365.1 147.7L360.6 146.2ZM369.5 145.3L374.0 146.8L369.5 149.2L365.1 147.7ZM378.5 144.2L382.9 145.7L378.5 148.3L374.0 146.8ZM374.0 146.8L378.5 148.3L374.0 150.7L369.5 149.2ZM382.9 145.7L387.4 147.1L383.0 149.7L378.5 148.3ZM387.4 147.1L391.9 148.5L387.4 151.2L383.0 149.7ZM391.9 148.5L396.4 149.9L391.9 152.6L387.4 151.2ZM396.4 149.9L400.8 151.5L396.4 154.2L391.9 152.6ZM409.8 150.1L414.2 151.5L409.8 154.5L405.3 153.0ZM414.2 151.5L418.7 152.9L414.2 155.9L409.8 154.5ZM418.7 152.9L423.2 154.4L418.7 157.4L414.2 155.9ZM423.2 154.4L427.7 155.8L423.2 158.9L418.7 157.4ZM427.7 155.8L432.1 157.3L427.7 160.5L423.2 158.9ZM441.1 155.5L445.5 157.0L441.1 160.4L436.6 158.8ZM445.5 157.0L450.0 158.6L445.5 162.0L441.1 160.4ZM450.0 158.6L454.5 160.3L450.0 163.8L445.5 162.0ZM454.5 160.3L458.9 162.1L454.5 165.6L450.0 163.8ZM467.9 160.4L472.4 162.7L467.9 166.1L463.4 164.1Z" fill="#4269fe" stroke="#4269fe" stroke-width="0.9" stroke-linejoin="round"/>
<path d="M88.2 155.0L92.6 157.8L88.2 159.2L83.7 156.4ZM83.7 156.4L88.2 159.2L83.7 160.8L79.2 157.8ZM79.2 157.8L83.7 160.8L79.2 162.3L74.8 159.2ZM74.8 159.2L79.2 162.3L74.8 164.0L70.3 160.8ZM70.3 160.8L74.8 164.0L70.3 165.6L65.8 162.4ZM128.3 147.2L132.8 149.9L128.3 151.2L123.9 148.5ZM123.9 148.5L128.3 151.2L123.9 152.5L119.4 149.7ZM119.4 149.7L123.9 152.5L119.4 153.8L114.9 151.0ZM114.9 151.0L119.4 153.8L114.9 155.1L110.5 152.3ZM110.5 152.3L114.9 155.1L110.5 156.5L106.0 153.6ZM106.0 153.6L110.5 156.5L106.0 157.8L101.5 155.0ZM101.5 155.0L106.0 157.8L101.6 159.2L97.1 156.4ZM97.1 156.4L101.6 159.2L97.1 160.6L92.6 157.8ZM164.0 140.7L168.5 143.5L164.0 144.9L159.6 142.0ZM159.6 142.0L164.0 144.9L159.6 146.2L155.1 143.3ZM155.1 143.3L159.6 146.2L155.1 147.6L150.6 144.6ZM150.6 144.6L155.1 147.6L150.6 149.0L146.2 145.9ZM146.2 145.9L150.6 149.0L146.2 150.3L141.7 147.3ZM141.7 147.3L146.2 150.3L141.7 151.6L137.3 148.6ZM137.3 148.6L141.7 151.6L137.3 152.9L132.8 149.9ZM195.3 135.1L199.7 137.1L195.3 138.5L190.8 136.5ZM190.8 136.5L195.3 138.5L190.8 140.0L186.3 137.9ZM186.3 137.9L190.8 140.0L186.4 141.4L181.9 139.3ZM181.9 139.3L186.4 141.4L181.9 142.9L177.4 140.7ZM177.4 140.7L181.9 142.9L177.4 144.3L173.0 142.1ZM173.0 142.1L177.4 144.3L173.0 145.8L168.5 143.5ZM208.7 134.1L213.1 135.9L208.7 137.4L204.2 135.6ZM204.2 135.6L208.7 137.4L204.2 138.9L199.7 137.1ZM199.7 137.1L204.2 138.9L199.8 140.4L195.3 138.5ZM195.3 138.5L199.8 140.4L195.3 141.9L190.8 140.0ZM217.6 134.3L222.1 135.9L217.6 137.5L213.1 135.9ZM213.1 135.9L217.6 137.5L213.1 139.1L208.7 137.4ZM208.7 137.4L213.1 139.1L208.7 140.7L204.2 138.9ZM226.5 134.3L231.0 135.8L226.5 137.5L222.1 135.9ZM222.1 135.9L226.5 137.5L222.1 139.1L217.6 137.5ZM217.6 137.5L222.1 139.1L217.6 140.6L213.1 139.1ZM235.5 134.2L239.9 135.6L235.5 137.2L231.0 135.8ZM231.0 135.8L235.5 137.2L231.0 138.8L226.5 137.5ZM226.5 137.5L231.0 138.8L226.6 140.3L222.1 139.1ZM239.9 135.6L244.4 136.8L239.9 138.4L235.5 137.2ZM235.5 137.2L239.9 138.4L235.5 140.0L231.0 138.8ZM231.0 138.8L235.5 140.0L231.0 141.5L226.6 140.3ZM248.9 135.2L253.3 136.4L248.9 138.0L244.4 136.8ZM244.4 136.8L248.9 138.0L244.4 139.5L239.9 138.4ZM239.9 138.4L244.4 139.5L240.0 141.2L235.5 140.0ZM253.3 136.4L257.8 137.6L253.4 139.2L248.9 138.0ZM248.9 138.0L253.4 139.2L248.9 140.8L244.4 139.5ZM244.4 139.5L248.9 140.8L244.4 142.5L240.0 141.2ZM257.8 137.6L262.3 138.8L257.8 140.5L253.4 139.2ZM253.4 139.2L257.8 140.5L253.4 142.1L248.9 140.8ZM248.9 140.8L253.4 142.1L248.9 143.8L244.4 142.5ZM262.3 138.8L266.8 140.0L262.3 141.7L257.8 140.5ZM257.8 140.5L262.3 141.7L257.8 143.4L253.4 142.1ZM253.4 142.1L257.8 143.4L253.4 145.1L248.9 143.8ZM266.8 140.0L271.2 141.3L266.8 142.9L262.3 141.7ZM262.3 141.7L266.8 142.9L262.3 144.6L257.8 143.4ZM275.7 139.6L280.2 141.0L275.7 142.7L271.2 141.3ZM271.2 141.3L275.7 142.7L271.2 144.4L266.8 142.9ZM266.8 142.9L271.2 144.4L266.8 146.2L262.3 144.6ZM280.2 141.0L284.6 142.4L280.2 144.2L275.7 142.7ZM275.7 142.7L280.2 144.2L275.7 146.0L271.2 144.4ZM284.6 142.4L289.1 144.0L284.6 145.8L280.2 144.2ZM280.2 144.2L284.6 145.8L280.2 147.6L275.7 146.0ZM293.6 142.1L298.0 143.6L293.6 145.5L289.1 144.0ZM289.1 144.0L293.6 145.5L289.1 147.4L284.6 145.8ZM298.0 143.6L302.5 145.0L298.1 146.9L293.6 145.5ZM293.6 145.5L298.1 146.9L293.6 148.8L289.1 147.4ZM307.0 143.1L311.4 144.5L307.0 146.4L302.5 145.0ZM302.5 145.0L307.0 146.4L302.5 148.4L298.1 146.9ZM311.4 144.5L315.9 145.8L311.5 147.8L307.0 146.4ZM307.0 146.4L311.5 147.8L307.0 149.8L302.5 148.4ZM315.9 145.8L320.4 147.2L315.9 149.2L311.5 147.8ZM324.9 145.2L329.3 146.6L324.9 148.6L320.4 147.2ZM320.4 147.2L324.9 148.6L320.4 150.7L315.9 149.2ZM329.3 146.6L333.8 148.2L329.3 150.3L324.9 148.6ZM324.9 148.6L329.3 150.3L324.9 152.4L320.4 150.7ZM333.8 148.2L338.3 149.9L333.8 152.0L329.3 150.3ZM342.7 147.7L347.2 149.2L342.7 151.4L338.3 149.9ZM338.3 149.9L342.7 151.4L338.3 153.6L333.8 152.0ZM347.2 149.2L351.7 150.7L347.2 153.0L342.7 151.4ZM351.7 150.7L356.1 152.3L351.7 154.5L347.2 153.0ZM360.6 150.0L365.1 151.5L360.6 153.8L356.1 152.3ZM356.1 152.3L360.6 153.8L356.2 156.1L351.7 154.5ZM365.1 151.5L369.6 153.1L365.1 155.4L360.6 153.8ZM369.6 153.1L374.0 154.6L369.6 157.0L365.1 155.4ZM378.5 152.2L383.0 153.7L378.5 156.1L374.0 154.6ZM383.0 153.7L387.4 155.1L383.0 157.6L378.5 156.1ZM387.4 155.1L391.9 156.8L387.4 159.3L383.0 157.6ZM396.4 154.2L400.8 155.8L396.4 158.4L391.9 156.8ZM400.8 155.8L405.3 157.3L400.9 159.9L396.4 158.4ZM405.3 157.3L409.8 158.8L405.3 161.4L400.9 159.9ZM409.8 158.8L414.3 160.3L409.8 163.0L405.3 161.4ZM423.2 158.9L427.7 160.5L423.2 163.5L418.7 161.9ZM427.7 160.5L432.1 162.0L427.7 165.0L423.2 163.5ZM432.1 162.0L436.6 163.6L432.1 166.7L427.7 165.0ZM445.5 162.0L450.0 163.8L445.6 167.1L441.1 165.3ZM450.0 163.8L454.5 165.6L450.0 169.0L445.6 167.1ZM454.5 165.6L459.0 167.6L454.5 171.0L450.0 169.0Z" fill="#465efb" stroke="#465efb" stroke-width="0.9" stroke-linejoin="round"/>
<path d="M61.4 150.9L65.8 156.6L61.4 158.0L56.9 152.4ZM56.9 152.4L61.4 158.0L56.9 159.6L52.4 153.9ZM52.4 153.9L56.9 159.6L52.4 161.4L48.0 155.3ZM172.9 125.7L177.4 129.7L172.9 131.0L168.5 127.5ZM168.5 127.5L172.9 131.0L168.5 132.2L164.0 129.4ZM213.1 117.8L217.6 121.0L213.1 122.3L208.6 120.0ZM208.6 120.0L213.1 122.3L208.6 123.7L204.2 121.9ZM230.9 116.4L235.4 118.7L231.0 120.1L226.5 118.3ZM257.7 114.4L262.2 116.3L257.7 117.8L253.3 116.4ZM266.7 114.4L271.1 115.9L266.7 117.5L262.2 116.3ZM275.6 113.6L280.1 115.2L275.6 117.0L271.1 115.9ZM280.1 115.2L284.5 116.1L280.1 117.9L275.6 117.0ZM275.6 117.0L280.1 117.9L275.6 119.7L271.2 118.7ZM284.5 116.1L289.0 116.8L284.6 118.7L280.1 117.9ZM280.1 117.9L284.6 118.7L280.1 120.6L275.6 119.7ZM289.0 116.8L293.5 117.5L289.0 119.5L284.6 118.7ZM284.6 118.7L289.0 119.5L284.6 121.5L280.1 120.6ZM289.0 119.5L293.5 120.4L289.0 122.4L284.6 121.5ZM293.5 120.4L298.0 121.5L293.5 123.5L289.0 122.4ZM289.0 122.4L293.5 123.5L289.1 125.3L284.6 124.2ZM298.0 121.5L302.4 122.6L298.0 124.6L293.5 123.5ZM293.5 123.5L298.0 124.6L293.5 126.5L289.1 125.3ZM302.4 122.6L306.9 123.6L302.5 125.7L298.0 124.6ZM298.0 124.6L302.5 125.7L298.0 127.6L293.5 126.5ZM306.9 123.6L311.4 124.6L306.9 126.8L302.5 125.7ZM302.5 125.7L306.9 126.8L302.5 128.7L298.0 127.6ZM311.4 124.6L315.9 125.8L311.4 128.0L306.9 126.8ZM306.9 126.8L311.4 128.0L306.9 130.0L302.5 128.7ZM315.9 125.8L320.3 126.9L315.9 129.2L311.4 128.0ZM311.4 128.0L315.9 129.2L311.4 131.3L306.9 130.0ZM320.3 126.9L324.8 128.2L320.3 130.5L315.9 129.2ZM315.9 129.2L320.3 130.5L315.9 132.7L311.4 131.3ZM324.8 128.2L329.3 129.4L324.8 131.9L320.3 130.5ZM329.3 129.4L333.8 130.7L329.3 133.2L324.8 131.9ZM333.8 130.7L338.2 131.9L333.8 134.4L329.3 133.2ZM338.2 131.9L342.7 133.0L338.2 135.6L333.8 134.4ZM342.7 133.0L347.2 134.2L342.7 136.9L338.2 135.6ZM347.2 134.2L351.6 135.5L347.2 138.2L342.7 136.9ZM351.6 135.5L356.1 137.0L351.6 139.6L347.2 138.2ZM356.1 137.0L360.6 138.6L356.1 141.1L351.6 139.6ZM365.0 135.6L369.5 137.0L365.1 140.0L360.6 138.6ZM369.5 137.0L374.0 138.4L369.5 141.4L365.1 140.0ZM374.0 138.4L378.5 139.9L374.0 142.8L369.5 141.4ZM378.5 139.9L382.9 141.4L378.5 144.2L374.0 142.8ZM382.9 141.4L387.4 142.9L382.9 145.7L378.5 144.2ZM400.8 142.4L405.3 143.8L400.8 147.0L396.3 145.7ZM405.3 143.8L409.8 145.4L405.3 148.6L400.8 147.0ZM409.8 145.4L414.2 146.9L409.8 150.1L405.3 148.6ZM414.2 146.9L418.7 148.5L414.2 151.5L409.8 150.1ZM436.6 149.0L441.0 150.4L436.6 154.1L432.1 152.7ZM441.0 150.4L445.5 151.8L441.1 155.5L436.6 154.1ZM445.5 151.8L450.0 153.3L445.5 157.0L441.1 155.5ZM450.0 153.3L454.5 154.8L450.0 158.6L445.5 157.0ZM454.5 154.8L458.9 156.5L454.5 160.3L450.0 158.6ZM472.3 156.2L476.8 159.3L472.4 162.7L467.9 160.4Z" fill="#3875fe" stroke="#3875fe" stroke-width="0.9" stroke-linejoin="round"/>
<path d="M61.4 158.0L65.8 162.4L61.4 164.2L56.9 159.6ZM56.9 159.6L61.4 164.2L56.9 166.7L52.4 161.4ZM132.8 142.4L137.2 144.7L132.8 146.0L128.3 143.6ZM128.3 143.6L132.8 146.0L128.3 147.2L123.8 144.8ZM123.8 144.8L128.3 147.2L123.9 148.5L119.4 146.1ZM119.4 146.1L123.9 148.5L119.4 149.7L114.9 147.3ZM114.9 147.3L119.4 149.7L114.9 151.0L110.5 148.5ZM110.5 148.5L114.9 151.0L110.5 152.3L106.0 149.8ZM106.0 149.8L110.5 152.3L106.0 153.6L101.5 151.0ZM101.5 151.0L106.0 153.6L101.5 155.0L97.1 152.3ZM97.1 152.3L101.5 155.0L97.1 156.4L92.6 153.6ZM92.6 153.6L97.1 156.4L92.6 157.8L88.2 155.0ZM168.5 135.7L172.9 138.0L168.5 139.3L164.0 137.0ZM164.0 137.0L168.5 139.3L164.0 140.7L159.6 138.3ZM159.6 138.3L164.0 140.7L159.6 142.0L155.1 139.6ZM155.1 139.6L159.6 142.0L155.1 143.3L150.6 140.9ZM150.6 140.9L155.1 143.3L150.6 144.6L146.2 142.1ZM146.2 142.1L150.6 144.6L146.2 145.9L141.7 143.4ZM141.7 143.4L146.2 145.9L141.7 147.3L137.2 144.7ZM137.2 144.7L141.7 147.3L137.3 148.6L132.8 146.0ZM132.8 146.0L137.3 148.6L132.8 149.9L128.3 147.2ZM195.3 131.2L199.7 133.7L195.3 135.1L190.8 132.6ZM190.8 132.6L195.3 135.1L190.8 136.5L186.3 133.9ZM186.3 133.9L190.8 136.5L186.3 137.9L181.9 135.3ZM181.9 135.3L186.3 137.9L181.9 139.3L177.4 136.6ZM177.4 136.6L181.9 139.3L177.4 140.7L172.9 138.0ZM172.9 138.0L177.4 140.7L173.0 142.1L168.5 139.3ZM168.5 139.3L173.0 142.1L168.5 143.5L164.0 140.7ZM217.6 127.9L222.0 129.6L217.6 131.1L213.1 129.3ZM213.1 129.3L217.6 131.1L213.1 132.6L208.7 130.8ZM208.7 130.8L213.1 132.6L208.7 134.1L204.2 132.2ZM204.2 132.2L208.7 134.1L204.2 135.6L199.7 133.7ZM199.7 133.7L204.2 135.6L199.7 137.1L195.3 135.1ZM226.5 128.2L231.0 129.7L226.5 131.2L222.0 129.6ZM222.0 129.6L226.5 131.2L222.1 132.8L217.6 131.1ZM217.6 131.1L222.1 132.8L217.6 134.3L213.1 132.6ZM213.1 132.6L217.6 134.3L213.1 135.9L208.7 134.1ZM235.4 128.2L239.9 129.6L235.5 131.2L231.0 129.7ZM231.0 129.7L235.5 131.2L231.0 132.7L226.5 131.2ZM226.5 131.2L231.0 132.7L226.5 134.3L222.1 132.8ZM222.1 132.8L226.5 134.3L222.1 135.9L217.6 134.3ZM244.4 128.0L248.9 129.3L244.4 130.9L239.9 129.6ZM239.9 129.6L244.4 130.9L239.9 132.6L235.5 131.2ZM235.5 131.2L239.9 132.6L235.5 134.2L231.0 132.7ZM231.0 132.7L235.5 134.2L231.0 135.8L226.5 134.3ZM248.9 129.3L253.3 130.5L248.9 132.2L244.4 130.9ZM244.4 130.9L248.9 132.2L244.4 133.9L239.9 132.6ZM239.9 132.6L244.4 133.9L239.9 135.6L235.5 134.2ZM253.3 130.5L257.8 131.7L253.3 133.4L248.9 132.2ZM248.9 132.2L253.3 133.4L248.9 135.2L244.4 133.9ZM244.4 133.9L248.9 135.2L244.4 136.8L239.9 135.6ZM257.8 131.7L262.3 133.0L257.8 134.8L253.3 133.4ZM253.3 133.4L257.8 134.8L253.3 136.4L248.9 135.2ZM262.3 133.0L266.7 134.4L262.3 136.0L257.8 134.8ZM257.8 134.8L262.3 136.0L257.8 137.6L253.3 136.4ZM271.2 132.5L275.7 133.9L271.2 135.6L266.7 134.4ZM266.7 134.4L271.2 135.6L266.8 137.2L262.3 136.0ZM262.3 136.0L266.8 137.2L262.3 138.8L257.8 137.6ZM275.7 133.9L280.1 135.1L275.7 136.7L271.2 135.6ZM271.2 135.6L275.7 136.7L271.2 138.4L266.8 137.2ZM266.8 137.2L271.2 138.4L266.8 140.0L262.3 138.8ZM280.1 135.1L284.6 136.2L280.2 137.9L275.7 136.7ZM275.7 136.7L280.2 137.9L275.7 139.6L271.2 138.4ZM271.2 138.4L275.7 139.6L271.2 141.3L266.8 140.0ZM284.6 136.2L289.1 137.5L284.6 139.2L280.2 137.9ZM280.2 137.9L284.6 139.2L280.2 141.0L275.7 139.6ZM293.6 135.8L298.0 137.1L293.6 138.8L289.1 137.5ZM289.1 137.5L293.6 138.8L289.1 140.6L284.6 139.2ZM284.6 139.2L289.1 140.6L284.6 142.4L280.2 141.0ZM298.0 137.1L302.5 138.5L298.0 140.3L293.6 138.8ZM293.6 138.8L298.0 140.3L293.6 142.1L289.1 140.6ZM289.1 140.6L293.6 142.1L289.1 144.0L284.6 142.4ZM302.5 138.5L307.0 139.9L302.5 141.7L298.0 140.3ZM298.0 140.3L302.5 141.7L298.0 143.6L293.6 142.1ZM311.4 138.0L315.9 139.3L311.4 141.2L307.0 139.9ZM307.0 139.9L311.4 141.2L307.0 143.1L302.5 141.7ZM302.5 141.7L307.0 143.1L302.5 145.0L298.0 143.6ZM315.9 139.3L320.4 140.6L315.9 142.6L311.4 141.2ZM311.4 141.2L315.9 142.6L311.4 144.5L307.0 143.1ZM320.4 140.6L324.8 141.8L320.4 143.8L315.9 142.6ZM315.9 142.6L320.4 143.8L315.9 145.8L311.4 144.5ZM324.8 141.8L329.3 143.1L324.9 145.2L320.4 143.8ZM320.4 143.8L324.9 145.2L320.4 147.2L315.9 145.8ZM329.3 143.1L333.8 144.5L329.3 146.6L324.9 145.2ZM333.8 144.5L338.3 146.1L333.8 148.2L329.3 146.6ZM342.7 143.9L347.2 145.5L342.7 147.7L338.3 146.1ZM338.3 146.1L342.7 147.7L338.3 149.9L333.8 148.2ZM347.2 145.5L351.7 147.0L347.2 149.2L342.7 147.7ZM356.1 144.8L360.6 146.2L356.1 148.5L351.7 147.0ZM351.7 147.0L356.1 148.5L351.7 150.7L347.2 149.2ZM360.6 146.2L365.1 147.7L360.6 150.0L356.1 148.5ZM356.1 148.5L360.6 150.0L356.1 152.3L351.7 150.7ZM365.1 147.7L369.5 149.2L365.1 151.5L360.6 150.0ZM369.5 149.2L374.0 150.7L369.6 153.1L365.1 151.5ZM378.5 148.3L383.0 149.7L378.5 152.2L374.0 150.7ZM374.0 150.7L378.5 152.2L374.0 154.6L369.6 153.1ZM383.0 149.7L387.4 151.2L383.0 153.7L378.5 152.2ZM387.4 151.2L391.9 152.6L387.4 155.1L383.0 153.7ZM391.9 152.6L396.4 154.2L391.9 156.8L387.4 155.1ZM400.8 151.5L405.3 153.0L400.8 155.8L396.4 154.2ZM405.3 153.0L409.8 154.5L405.3 157.3L400.8 155.8ZM409.8 154.5L414.2 155.9L409.8 158.8L405.3 157.3ZM414.2 155.9L418.7 157.4L414.3 160.3L409.8 158.8ZM418.7 157.4L423.2 158.9L418.7 161.9L414.3 160.3ZM432.1 157.3L436.6 158.8L432.1 162.0L427.7 160.5ZM436.6 158.8L441.1 160.4L436.6 163.6L432.1 162.0ZM441.1 160.4L445.5 162.0L441.1 165.3L436.6 163.6ZM458.9 162.1L463.4 164.1L459.0 167.6L454.5 165.6ZM463.4 164.1L467.9 166.1L463.4 169.6L459.0 167.6Z" fill="#4563fd" stroke="#4563fd" stroke-width="0.9" stroke-linejoin="round"/>
<path d="M65.8 162.4L70.3 165.6L65.8 167.4L61.4 164.2ZM61.4 164.2L65.8 167.4L61.4 169.0L56.9 166.7ZM92.6 157.8L97.1 160.6L92.6 162.0L88.2 159.2ZM88.2 159.2L92.6 162.0L88.2 163.6L83.7 160.8ZM83.7 160.8L88.2 163.6L83.7 165.1L79.2 162.3ZM79.2 162.3L83.7 165.1L79.2 166.8L74.8 164.0ZM132.8 149.9L137.3 152.9L132.8 154.1L128.3 151.2ZM128.3 151.2L132.8 154.1L128.3 155.4L123.9 152.5ZM123.9 152.5L128.3 155.4L123.9 156.6L119.4 153.8ZM119.4 153.8L123.9 156.6L119.4 157.9L114.9 155.1ZM114.9 155.1L119.4 157.9L115.0 159.2L110.5 156.5ZM110.5 156.5L115.0 159.2L110.5 160.6L106.0 157.8ZM106.0 157.8L110.5 160.6L106.0 162.0L101.6 159.2ZM101.6 159.2L106.0 162.0L101.6 163.4L97.1 160.6ZM168.5 143.5L173.0 145.8L168.5 147.2L164.0 144.9ZM164.0 144.9L168.5 147.2L164.0 148.5L159.6 146.2ZM159.6 146.2L164.0 148.5L159.6 149.8L155.1 147.6ZM155.1 147.6L159.6 149.8L155.1 151.1L150.6 149.0ZM150.6 149.0L155.1 151.1L150.7 152.4L146.2 150.3ZM146.2 150.3L150.7 152.4L146.2 153.6L141.7 151.6ZM190.8 140.0L195.3 141.9L190.8 143.4L186.4 141.4ZM186.4 141.4L190.8 143.4L186.4 144.8L181.9 142.9ZM181.9 142.9L186.4 144.8L181.9 146.1L177.4 144.3ZM177.4 144.3L181.9 146.1L177.4 147.5L173.0 145.8ZM173.0 145.8L177.4 147.5L173.0 148.9L168.5 147.2ZM204.2 138.9L208.7 140.7L204.2 142.1L199.8 140.4ZM199.8 140.4L204.2 142.1L199.8 143.5L195.3 141.9ZM195.3 141.9L199.8 143.5L195.3 144.9L190.8 143.4ZM190.8 143.4L195.3 144.9L190.8 146.3L186.4 144.8ZM186.4 144.8L190.8 146.3L186.4 147.7L181.9 146.1ZM213.1 139.1L217.6 140.6L213.2 142.0L208.7 140.7ZM208.7 140.7L213.2 142.0L208.7 143.5L204.2 142.1ZM204.2 142.1L208.7 143.5L204.2 144.9L199.8 143.5ZM199.8 143.5L204.2 144.9L199.8 146.3L195.3 144.9ZM222.1 139.1L226.6 140.3L222.1 141.8L217.6 140.6ZM217.6 140.6L222.1 141.8L217.6 143.3L213.2 142.0ZM213.2 142.0L217.6 143.3L213.2 144.8L208.7 143.5ZM208.7 143.5L213.2 144.8L208.7 146.3L204.2 144.9ZM226.6 140.3L231.0 141.5L226.6 143.0L222.1 141.8ZM222.1 141.8L226.6 143.0L222.1 144.6L217.6 143.3ZM217.6 143.3L222.1 144.6L217.6 146.1L213.2 144.8ZM213.2 144.8L217.6 146.1L213.2 147.6L208.7 146.3ZM235.5 140.0L240.0 141.2L235.5 142.7L231.0 141.5ZM231.0 141.5L235.5 142.7L231.0 144.3L226.6 143.0ZM226.6 143.0L231.0 144.3L226.6 145.8L222.1 144.6ZM222.1 144.6L226.6 145.8L222.1 147.4L217.6 146.1ZM240.0 141.2L244.4 142.5L240.0 144.1L235.5 142.7ZM235.5 142.7L240.0 144.1L235.5 145.7L231.0 144.3ZM231.0 144.3L235.5 145.7L231.0 147.3L226.6 145.8ZM226.6 145.8L231.0 147.3L226.6 148.8L222.1 147.4ZM244.4 142.5L248.9 143.8L244.4 145.4L240.0 144.1ZM240.0 144.1L244.4 145.4L240.0 147.0L235.5 145.7ZM235.5 145.7L240.0 147.0L235.5 148.7L231.0 147.3ZM248.9 143.8L253.4 145.1L248.9 146.8L244.4 145.4ZM244.4 145.4L248.9 146.8L244.5 148.4L240.0 147.0ZM240.0 147.0L244.5 148.4L240.0 150.1L235.5 148.7ZM257.8 143.4L262.3 144.6L257.8 146.4L253.4 145.1ZM253.4 145.1L257.8 146.4L253.4 148.1L248.9 146.8ZM248.9 146.8L253.4 148.1L248.9 149.8L244.5 148.4ZM262.3 144.6L266.8 146.2L262.3 148.0L257.8 146.4ZM257.8 146.4L262.3 148.0L257.9 149.7L253.4 148.1ZM253.4 148.1L257.9 149.7L253.4 151.5L248.9 149.8ZM271.2 144.4L275.7 146.0L271.3 147.8L266.8 146.2ZM266.8 146.2L271.3 147.8L266.8 149.6L262.3 148.0ZM262.3 148.0L266.8 149.6L262.3 151.4L257.9 149.7ZM275.7 146.0L280.2 147.6L275.7 149.4L271.3 147.8ZM271.3 147.8L275.7 149.4L271.3 151.3L266.8 149.6ZM284.6 145.8L289.1 147.4L284.7 149.2L280.2 147.6ZM280.2 147.6L284.7 149.2L280.2 151.1L275.7 149.4ZM289.1 147.4L293.6 148.8L289.1 150.8L284.7 149.2ZM284.7 149.2L289.1 150.8L284.7 152.7L280.2 151.1ZM298.1 146.9L302.5 148.4L298.1 150.3L293.6 148.8ZM293.6 148.8L298.1 150.3L293.6 152.3L289.1 150.8ZM302.5 148.4L307.0 149.8L302.5 151.8L298.1 150.3ZM298.1 150.3L302.5 151.8L298.1 153.7L293.6 152.3ZM311.5 147.8L315.9 149.2L311.5 151.2L307.0 149.8ZM307.0 149.8L311.5 151.2L307.0 153.3L302.5 151.8ZM315.9 149.2L320.4 150.7L315.9 152.8L311.5 151.2ZM311.5 151.2L315.9 152.8L311.5 154.6L307.0 153.3ZM320.4 150.7L324.9 152.4L320.4 154.5L315.9 152.8ZM329.3 150.3L333.8 152.0L329.3 154.2L324.9 152.4ZM324.9 152.4L329.3 154.2L324.9 156.1L320.4 154.5ZM333.8 152.0L338.3 153.6L333.8 155.7L329.3 154.2ZM342.7 151.4L347.2 153.0L342.8 155.2L338.3 153.6ZM338.3 153.6L342.8 155.2L338.3 157.2L333.8 155.7ZM347.2 153.0L351.7 154.5L347.2 156.7L342.8 155.2ZM351.7 154.5L356.2 156.1L351.7 158.2L347.2 156.7ZM360.6 153.8L365.1 155.4L360.6 157.7L356.2 156.1ZM365.1 155.4L369.6 157.0L365.1 159.2L360.6 157.7ZM374.0 154.6L378.5 156.1L374.0 158.5L369.6 157.0ZM369.6 157.0L374.0 158.5L369.6 160.7L365.1 159.2ZM378.5 156.1L383.0 157.6L378.5 160.1L374.0 158.5ZM383.0 157.6L387.4 159.3L383.0 161.7L378.5 160.1ZM391.9 156.8L396.4 158.4L391.9 160.9L387.4 159.3ZM387.4 159.3L391.9 160.9L387.5 163.2L383.0 161.7ZM396.4 158.4L400.9 159.9L396.4 162.5L391.9 160.9ZM400.9 159.9L405.3 161.4L400.9 164.0L396.4 162.5ZM405.3 161.4L409.8 163.0L405.3 165.5L400.9 164.0ZM414.3 160.3L418.7 161.9L414.3 164.6L409.8 163.0ZM418.7 161.9L423.2 163.5L418.7 166.2L414.3 164.6ZM423.2 163.5L427.7 165.0L423.2 167.8L418.7 166.2ZM436.6 163.6L441.1 165.3L436.6 168.4L432.1 166.7ZM441.1 165.3L445.6 167.1L441.1 170.2L436.6 168.4ZM445.6 167.1L450.0 169.0L445.6 172.1L441.1 170.2ZM459.0 167.6L463.4 169.6L459.0 173.1L454.5 171.0Z" fill="#4758f8" stroke="#4758f8" stroke-width="0.9" stroke-linejoin="round"/>
<path d="M74.8 164.0L79.2 166.8L74.8 168.4L70.3 165.6ZM70.3 165.6L74.8 168.4L70.3 170.1L65.8 167.4ZM65.8 167.4L70.3 170.1L65.9 171.5L61.4 169.0ZM97.1 160.6L101.6 163.4L97.1 164.9L92.6 162.0ZM92.6 162.0L97.1 164.9L92.6 166.5L88.2 163.6ZM88.2 163.6L92.6 166.5L88.2 168.1L83.7 165.1ZM83.7 165.1L88.2 168.1L83.7 169.9L79.2 166.8ZM141.7 151.6L146.2 153.6L141.7 154.9L137.3 152.9ZM137.3 152.9L141.7 154.9L137.3 156.2L132.8 154.1ZM132.8 154.1L137.3 156.2L132.8 157.5L128.3 155.4ZM128.3 155.4L132.8 157.5L128.3 158.7L123.9 156.6ZM123.9 156.6L128.3 158.7L123.9 160.1L119.4 157.9ZM119.4 157.9L123.9 160.1L119.4 161.4L115.0 159.2ZM115.0 159.2L119.4 161.4L115.0 162.8L110.5 160.6ZM110.5 160.6L115.0 162.8L110.5 164.2L106.0 162.0ZM168.5 147.2L173.0 148.9L168.5 150.2L164.0 148.5ZM164.0 148.5L168.5 150.2L164.1 151.5L159.6 149.8ZM159.6 149.8L164.1 151.5L159.6 152.8L155.1 151.1ZM155.1 151.1L159.6 152.8L155.1 154.1L150.7 152.4ZM150.7 152.4L155.1 154.1L150.7 155.4L146.2 153.6ZM146.2 153.6L150.7 155.4L146.2 156.7L141.7 154.9ZM141.7 154.9L146.2 156.7L141.7 158.0L137.3 156.2ZM137.3 156.2L141.7 158.0L137.3 159.3L132.8 157.5ZM132.8 157.5L137.3 159.3L132.8 160.7L128.3 158.7ZM181.9 146.1L186.4 147.7L181.9 149.1L177.4 147.5ZM177.4 147.5L181.9 149.1L177.5 150.5L173.0 148.9ZM173.0 148.9L177.5 150.5L173.0 151.8L168.5 150.2ZM168.5 150.2L173.0 151.8L168.5 153.1L164.1 151.5ZM164.1 151.5L168.5 153.1L164.1 154.5L159.6 152.8ZM159.6 152.8L164.1 154.5L159.6 155.8L155.1 154.1ZM155.1 154.1L159.6 155.8L155.1 157.2L150.7 155.4ZM195.3 144.9L199.8 146.3L195.3 147.8L190.8 146.3ZM190.8 146.3L195.3 147.8L190.8 149.2L186.4 147.7ZM186.4 147.7L190.8 149.2L186.4 150.6L181.9 149.1ZM181.9 149.1L186.4 150.6L181.9 152.0L177.5 150.5ZM177.5 150.5L181.9 152.0L177.5 153.4L173.0 151.8ZM173.0 151.8L177.5 153.4L173.0 154.8L168.5 153.1ZM204.2 144.9L208.7 146.3L204.2 147.7L199.8 146.3ZM199.8 146.3L204.2 147.7L199.8 149.2L195.3 147.8ZM195.3 147.8L199.8 149.2L195.3 150.6L190.8 149.2ZM190.8 149.2L195.3 150.6L190.9 152.1L186.4 150.6ZM186.4 150.6L190.9 152.1L186.4 153.5L181.9 152.0ZM208.7 146.3L213.2 147.6L208.7 149.1L204.2 147.7ZM204.2 147.7L208.7 149.1L204.3 150.6L199.8 149.2ZM199.8 149.2L204.3 150.6L199.8 152.0L195.3 150.6ZM195.3 150.6L199.8 152.0L195.3 153.5L190.9 152.1ZM217.6 146.1L222.1 147.4L217.6 148.9L213.2 147.6ZM213.2 147.6L217.6 148.9L213.2 150.5L208.7 149.1ZM208.7 149.1L213.2 150.5L208.7 152.0L204.3 150.6ZM204.3 150.6L208.7 152.0L204.3 153.5L199.8 152.0ZM222.1 147.4L226.6 148.8L222.1 150.4L217.6 148.9ZM217.6 148.9L222.1 150.4L217.7 151.9L213.2 150.5ZM213.2 150.5L217.7 151.9L213.2 153.5L208.7 152.0ZM231.0 147.3L235.5 148.7L231.1 150.3L226.6 148.8ZM226.6 148.8L231.1 150.3L226.6 151.9L222.1 150.4ZM222.1 150.4L226.6 151.9L222.1 153.4L217.7 151.9ZM217.7 151.9L222.1 153.4L217.7 155.0L213.2 153.5ZM235.5 148.7L240.0 150.1L235.5 151.7L231.1 150.3ZM231.1 150.3L235.5 151.7L231.1 153.3L226.6 151.9ZM226.6 151.9L231.1 153.3L226.6 154.9L222.1 153.4ZM244.5 148.4L248.9 149.8L244.5 151.5L240.0 150.1ZM240.0 150.1L244.5 151.5L240.0 153.1L235.5 151.7ZM235.5 151.7L240.0 153.1L235.5 154.7L231.1 153.3ZM248.9 149.8L253.4 151.5L248.9 153.2L244.5 151.5ZM244.5 151.5L248.9 153.2L244.5 154.7L240.0 153.1ZM257.9 149.7L262.3 151.4L257.9 153.2L253.4 151.5ZM253.4 151.5L257.9 153.2L253.4 154.7L248.9 153.2ZM266.8 149.6L271.3 151.3L266.8 153.1L262.3 151.4ZM262.3 151.4L266.8 153.1L262.3 154.7L257.9 153.2ZM275.7 149.4L280.2 151.1L275.7 153.0L271.3 151.3ZM271.3 151.3L275.7 153.0L271.3 154.6L266.8 153.1ZM280.2 151.1L284.7 152.7L280.2 154.4L275.7 153.0ZM275.7 153.0L280.2 154.4L275.7 156.0L271.3 154.6ZM289.1 150.8L293.6 152.3L289.1 154.0L284.7 152.7ZM284.7 152.7L289.1 154.0L284.7 155.8L280.2 154.4ZM293.6 152.3L298.1 153.7L293.6 155.4L289.1 154.0ZM289.1 154.0L293.6 155.4L289.1 157.1L284.7 155.8ZM302.5 151.8L307.0 153.3L302.5 155.0L298.1 153.7ZM298.1 153.7L302.5 155.0L298.1 156.7L293.6 155.4ZM293.6 155.4L298.1 156.7L293.6 158.5L289.1 157.1ZM307.0 153.3L311.5 154.6L307.0 156.4L302.5 155.0ZM302.5 155.0L307.0 156.4L302.6 158.1L298.1 156.7ZM315.9 152.8L320.4 154.5L316.0 156.2L311.5 154.6ZM311.5 154.6L316.0 156.2L311.5 158.0L307.0 156.4ZM307.0 156.4L311.5 158.0L307.0 159.8L302.6 158.1ZM320.4 154.5L324.9 156.1L320.4 157.9L316.0 156.2ZM316.0 156.2L320.4 157.9L316.0 159.7L311.5 158.0ZM329.3 154.2L333.8 155.7L329.4 157.6L324.9 156.1ZM324.9 156.1L329.4 157.6L324.9 159.4L320.4 157.9ZM333.8 155.7L338.3 157.2L333.8 159.0L329.4 157.6ZM329.4 157.6L333.8 159.0L329.4 160.9L324.9 159.4ZM342.8 155.2L347.2 156.7L342.8 158.6L338.3 157.2ZM338.3 157.2L342.8 158.6L338.3 160.5L333.8 159.0ZM347.2 156.7L351.7 158.2L347.2 160.1L342.8 158.6ZM342.8 158.6L347.2 160.1L342.8 162.0L338.3 160.5ZM356.2 156.1L360.6 157.7L356.2 159.7L351.7 158.2ZM351.7 158.2L356.2 159.7L351.7 161.6L347.2 160.1ZM360.6 157.7L365.1 159.2L360.6 161.1L356.2 159.7ZM356.2 159.7L360.6 161.1L356.2 163.1L351.7 161.6ZM365.1 159.2L369.6 160.7L365.1 162.6L360.6 161.1ZM374.0 158.5L378.5 160.1L374.0 162.1L369.6 160.7ZM369.6 160.7L374.0 162.1L369.6 164.1L365.1 162.6ZM378.5 160.1L383.0 161.7L378.5 163.7L374.0 162.1ZM383.0 161.7L387.5 163.2L383.0 165.2L378.5 163.7ZM391.9 160.9L396.4 162.5L391.9 164.7L387.5 163.2ZM387.5 163.2L391.9 164.7L387.5 166.7L383.0 165.2ZM396.4 162.5L400.9 164.0L396.4 166.1L391.9 164.7ZM400.9 164.0L405.3 165.5L400.9 167.6L396.4 166.1ZM409.8 163.0L414.3 164.6L409.8 167.0L405.3 165.5ZM414.3 164.6L418.7 166.2L414.3 168.5L409.8 167.0ZM418.7 166.2L423.2 167.8L418.7 170.0L414.3 168.5ZM427.7 165.0L432.1 166.7L427.7 169.4L423.2 167.8ZM432.1 166.7L436.6 168.4L432.2 171.0L427.7 169.4ZM436.6 168.4L441.1 170.2L436.6 172.7L432.2 171.0ZM450.0 169.0L454.5 171.0L450.0 174.1L445.6 172.1ZM454.5 171.0L459.0 173.1L454.5 176.3L450.0 174.1Z" fill="#4852f4" stroke="#4852f4" stroke-width="0.9" stroke-linejoin="round"/>
<path d="M79.2 166.8L83.7 169.9L79.3 171.6L74.8 168.4ZM74.8 168.4L79.3 171.6L74.8 173.6L70.3 170.1ZM106.0 162.0L110.5 164.2L106.0 165.7L101.6 163.4ZM101.6 163.4L106.0 165.7L101.6 167.3L97.1 164.9ZM97.1 164.9L101.6 167.3L97.1 168.9L92.6 166.5ZM92.6 166.5L97.1 168.9L92.7 170.6L88.2 168.1ZM128.3 158.7L132.8 160.7L128.4 162.0L123.9 160.1ZM123.9 160.1L128.4 162.0L123.9 163.4L119.4 161.4ZM119.4 161.4L123.9 163.4L119.4 164.8L115.0 162.8ZM115.0 162.8L119.4 164.8L115.0 166.2L110.5 164.2ZM110.5 164.2L115.0 166.2L110.5 167.7L106.0 165.7ZM150.7 155.4L155.1 157.2L150.7 158.5L146.2 156.7ZM146.2 156.7L150.7 158.5L146.2 159.8L141.7 158.0ZM141.7 158.0L146.2 159.8L141.8 161.1L137.3 159.3ZM137.3 159.3L141.8 161.1L137.3 162.5L132.8 160.7ZM132.8 160.7L137.3 162.5L132.8 163.8L128.4 162.0ZM128.4 162.0L132.8 163.8L128.4 165.2L123.9 163.4ZM123.9 163.4L128.4 165.2L123.9 166.7L119.4 164.8ZM168.5 153.1L173.0 154.8L168.5 156.1L164.1 154.5ZM164.1 154.5L168.5 156.1L164.1 157.5L159.6 155.8ZM159.6 155.8L164.1 157.5L159.6 158.9L155.1 157.2ZM155.1 157.2L159.6 158.9L155.2 160.2L150.7 158.5ZM150.7 158.5L155.2 160.2L150.7 161.6L146.2 159.8ZM146.2 159.8L150.7 161.6L146.2 162.9L141.8 161.1ZM141.8 161.1L146.2 162.9L141.8 164.2L137.3 162.5ZM181.9 152.0L186.4 153.5L181.9 154.9L177.5 153.4ZM177.5 153.4L181.9 154.9L177.5 156.3L173.0 154.8ZM173.0 154.8L177.5 156.3L173.0 157.7L168.5 156.1ZM168.5 156.1L173.0 157.7L168.5 159.1L164.1 157.5ZM164.1 157.5L168.5 159.1L164.1 160.5L159.6 158.9ZM159.6 158.9L164.1 160.5L159.6 161.9L155.2 160.2ZM190.9 152.1L195.3 153.5L190.9 155.0L186.4 153.5ZM186.4 153.5L190.9 155.0L186.4 156.4L181.9 154.9ZM181.9 154.9L186.4 156.4L181.9 157.9L177.5 156.3ZM177.5 156.3L181.9 157.9L177.5 159.3L173.0 157.7ZM173.0 157.7L177.5 159.3L173.0 160.7L168.5 159.1ZM199.8 152.0L204.3 153.5L199.8 155.0L195.3 153.5ZM195.3 153.5L199.8 155.0L195.3 156.5L190.9 155.0ZM190.9 155.0L195.3 156.5L190.9 158.0L186.4 156.4ZM186.4 156.4L190.9 158.0L186.4 159.4L181.9 157.9ZM181.9 157.9L186.4 159.4L182.0 160.7L177.5 159.3ZM208.7 152.0L213.2 153.5L208.7 155.0L204.3 153.5ZM204.3 153.5L208.7 155.0L204.3 156.6L199.8 155.0ZM199.8 155.0L204.3 156.6L199.8 158.0L195.3 156.5ZM195.3 156.5L199.8 158.0L195.3 159.3L190.9 158.0ZM190.9 158.0L195.3 159.3L190.9 160.7L186.4 159.4ZM213.2 153.5L217.7 155.0L213.2 156.5L208.7 155.0ZM208.7 155.0L213.2 156.5L208.7 157.9L204.3 156.6ZM204.3 156.6L208.7 157.9L204.3 159.3L199.8 158.0ZM222.1 153.4L226.6 154.9L222.1 156.3L217.7 155.0ZM217.7 155.0L222.1 156.3L217.7 157.8L213.2 156.5ZM213.2 156.5L217.7 157.8L213.2 159.2L208.7 157.9ZM208.7 157.9L213.2 159.2L208.8 160.5L204.3 159.3ZM231.1 153.3L235.5 154.7L231.1 156.1L226.6 154.9ZM226.6 154.9L231.1 156.1L226.6 157.6L222.1 156.3ZM222.1 156.3L226.6 157.6L222.2 159.0L217.7 157.8ZM217.7 157.8L222.2 159.0L217.7 160.4L213.2 159.2ZM240.0 153.1L244.5 154.7L240.0 156.2L235.5 154.7ZM235.5 154.7L240.0 156.2L235.5 157.6L231.1 156.1ZM231.1 156.1L235.5 157.6L231.1 159.1L226.6 157.6ZM226.6 157.6L231.1 159.1L226.6 160.5L222.2 159.0ZM222.2 159.0L226.6 160.5L222.2 162.0L217.7 160.4ZM248.9 153.2L253.4 154.7L248.9 156.2L244.5 154.7ZM244.5 154.7L248.9 156.2L244.5 157.7L240.0 156.2ZM240.0 156.2L244.5 157.7L240.0 159.2L235.5 157.6ZM235.5 157.6L240.0 159.2L235.6 160.7L231.1 159.1ZM231.1 159.1L235.6 160.7L231.1 162.1L226.6 160.5ZM257.9 153.2L262.3 154.7L257.9 156.2L253.4 154.7ZM253.4 154.7L257.9 156.2L253.4 157.8L248.9 156.2ZM248.9 156.2L253.4 157.8L249.0 159.3L244.5 157.7ZM244.5 157.7L249.0 159.3L244.5 160.8L240.0 159.2ZM266.8 153.1L271.3 154.6L266.8 156.2L262.3 154.7ZM262.3 154.7L266.8 156.2L262.3 157.8L257.9 156.2ZM257.9 156.2L262.3 157.8L257.9 159.4L253.4 157.8ZM253.4 157.8L257.9 159.4L253.4 160.9L249.0 159.3ZM271.3 154.6L275.7 156.0L271.3 157.6L266.8 156.2ZM266.8 156.2L271.3 157.6L266.8 159.2L262.3 157.8ZM262.3 157.8L266.8 159.2L262.4 160.8L257.9 159.4ZM280.2 154.4L284.7 155.8L280.2 157.4L275.7 156.0ZM275.7 156.0L280.2 157.4L275.8 159.1L271.3 157.6ZM271.3 157.6L275.8 159.1L271.3 160.7L266.8 159.2ZM284.7 155.8L289.1 157.1L284.7 158.8L280.2 157.4ZM280.2 157.4L284.7 158.8L280.2 160.4L275.8 159.1ZM275.8 159.1L280.2 160.4L275.8 162.1L271.3 160.7ZM289.1 157.1L293.6 158.5L289.2 160.2L284.7 158.8ZM284.7 158.8L289.2 160.2L284.7 161.9L280.2 160.4ZM298.1 156.7L302.6 158.1L298.1 159.9L293.6 158.5ZM293.6 158.5L298.1 159.9L293.6 161.7L289.2 160.2ZM289.2 160.2L293.6 161.7L289.2 163.3L284.7 161.9ZM302.6 158.1L307.0 159.8L302.6 161.6L298.1 159.9ZM298.1 159.9L302.6 161.6L298.1 163.4L293.6 161.7ZM311.5 158.0L316.0 159.7L311.5 161.4L307.0 159.8ZM307.0 159.8L311.5 161.4L307.0 163.3L302.6 161.6ZM320.4 157.9L324.9 159.4L320.4 161.2L316.0 159.7ZM316.0 159.7L320.4 161.2L316.0 163.0L311.5 161.4ZM324.9 159.4L329.4 160.9L324.9 162.7L320.4 161.2ZM320.4 161.2L324.9 162.7L320.4 164.5L316.0 163.0ZM333.8 159.0L338.3 160.5L333.8 162.4L329.4 160.9ZM329.4 160.9L333.8 162.4L329.4 164.2L324.9 162.7ZM338.3 160.5L342.8 162.0L338.3 163.9L333.8 162.4ZM333.8 162.4L338.3 163.9L333.9 165.8L329.4 164.2ZM347.2 160.1L351.7 161.6L347.2 163.5L342.8 162.0ZM342.8 162.0L347.2 163.5L342.8 165.4L338.3 163.9ZM351.7 161.6L356.2 163.1L351.7 165.0L347.2 163.5ZM347.2 163.5L351.7 165.0L347.3 166.9L342.8 165.4ZM360.6 161.1L365.1 162.6L360.7 164.6L356.2 163.1ZM356.2 163.1L360.7 164.6L356.2 166.5L351.7 165.0ZM365.1 162.6L369.6 164.1L365.1 166.1L360.7 164.6ZM360.7 164.6L365.1 166.1L360.7 168.1L356.2 166.5ZM374.0 162.1L378.5 163.7L374.1 165.7L369.6 164.1ZM369.6 164.1L374.1 165.7L369.6 167.7L365.1 166.1ZM378.5 163.7L383.0 165.2L378.5 167.2L374.1 165.7ZM374.1 165.7L378.5 167.2L374.1 169.2L369.6 167.7ZM383.0 165.2L387.5 166.7L383.0 168.7L378.5 167.2ZM391.9 164.7L396.4 166.1L391.9 168.1L387.5 166.7ZM387.5 166.7L391.9 168.1L387.5 170.1L383.0 168.7ZM396.4 166.1L400.9 167.6L396.4 169.6L391.9 168.1ZM391.9 168.1L396.4 169.6L391.9 171.7L387.5 170.1ZM405.3 165.5L409.8 167.0L405.3 169.1L400.9 167.6ZM400.9 167.6L405.3 169.1L400.9 171.2L396.4 169.6ZM409.8 167.0L414.3 168.5L409.8 170.6L405.3 169.1ZM405.3 169.1L409.8 170.6L405.4 172.7L400.9 171.2ZM414.3 168.5L418.7 170.0L414.3 172.1L409.8 170.6ZM423.2 167.8L427.7 169.4L423.2 171.6L418.7 170.0ZM418.7 170.0L423.2 171.6L418.8 173.7L414.3 172.1ZM427.7 169.4L432.2 171.0L427.7 173.2L423.2 171.6ZM432.2 171.0L436.6 172.7L432.2 174.8L427.7 173.2ZM441.1 170.2L445.6 172.1L441.1 174.4L436.6 172.7ZM445.6 172.1L450.0 174.1L445.6 176.2L441.1 174.4Z" fill="#484df0" stroke="#484df0" stroke-width="0.9" stroke-linejoin="round"/>
<path d="M70.3 170.1L74.8 173.6L70.3 175.9L65.9 171.5ZM88.2 168.1L92.7 170.6L88.2 172.3L83.7 169.9ZM83.7 169.9L88.2 172.3L83.7 174.1L79.3 171.6ZM79.3 171.6L83.7 174.1L79.3 176.2L74.8 173.6ZM106.0 165.7L110.5 167.7L106.0 169.3L101.6 167.3ZM101.6 167.3L106.0 169.3L101.6 170.9L97.1 168.9ZM97.1 168.9L101.6 170.9L97.1 172.6L92.7 170.6ZM92.7 170.6L97.1 172.6L92.7 174.4L88.2 172.3ZM119.4 164.8L123.9 166.7L119.4 168.1L115.0 166.2ZM115.0 166.2L119.4 168.1L115.0 169.6L110.5 167.7ZM110.5 167.7L115.0 169.6L110.5 171.2L106.0 169.3ZM106.0 169.3L110.5 171.2L106.1 172.8L101.6 170.9ZM137.3 162.5L141.8 164.2L137.3 165.6L132.8 163.8ZM132.8 163.8L137.3 165.6L132.8 167.0L128.4 165.2ZM128.4 165.2L132.8 167.0L128.4 168.4L123.9 166.7ZM123.9 166.7L128.4 168.4L123.9 169.7L119.4 168.1ZM119.4 168.1L123.9 169.7L119.5 171.1L115.0 169.6ZM155.2 160.2L159.6 161.9L155.2 163.2L150.7 161.6ZM150.7 161.6L155.2 163.2L150.7 164.5L146.2 162.9ZM146.2 162.9L150.7 164.5L146.2 165.8L141.8 164.2ZM141.8 164.2L146.2 165.8L141.8 167.0L137.3 165.6ZM137.3 165.6L141.8 167.0L137.3 168.3L132.8 167.0ZM132.8 167.0L137.3 168.3L132.9 169.6L128.4 168.4ZM128.4 168.4L132.9 169.6L128.4 171.0L123.9 169.7ZM168.5 159.1L173.0 160.7L168.6 162.0L164.1 160.5ZM164.1 160.5L168.6 162.0L164.1 163.3L159.6 161.9ZM159.6 161.9L164.1 163.3L159.6 164.5L155.2 163.2ZM155.2 163.2L159.6 164.5L155.2 165.8L150.7 164.5ZM150.7 164.5L155.2 165.8L150.7 167.0L146.2 165.8ZM146.2 165.8L150.7 167.0L146.2 168.3L141.8 167.0ZM141.8 167.0L146.2 168.3L141.8 169.6L137.3 168.3ZM137.3 168.3L141.8 169.6L137.3 170.9L132.9 169.6ZM177.5 159.3L182.0 160.7L177.5 162.0L173.0 160.7ZM173.0 160.7L177.5 162.0L173.0 163.3L168.6 162.0ZM168.6 162.0L173.0 163.3L168.6 164.5L164.1 163.3ZM164.1 163.3L168.6 164.5L164.1 165.8L159.6 164.5ZM159.6 164.5L164.1 165.8L159.6 167.0L155.2 165.8ZM155.2 165.8L159.6 167.0L155.2 168.3L150.7 167.0ZM150.7 167.0L155.2 168.3L150.7 169.5L146.2 168.3ZM146.2 168.3L150.7 169.5L146.3 170.8L141.8 169.6ZM186.4 159.4L190.9 160.7L186.4 162.0L182.0 160.7ZM182.0 160.7L186.4 162.0L182.0 163.3L177.5 162.0ZM177.5 162.0L182.0 163.3L177.5 164.6L173.0 163.3ZM173.0 163.3L177.5 164.6L173.0 165.8L168.6 164.5ZM168.6 164.5L173.0 165.8L168.6 167.1L164.1 165.8ZM164.1 165.8L168.6 167.1L164.1 168.3L159.6 167.0ZM159.6 167.0L164.1 168.3L159.7 169.6L155.2 168.3ZM155.2 168.3L159.7 169.6L155.2 170.9L150.7 169.5ZM199.8 158.0L204.3 159.3L199.8 160.6L195.3 159.3ZM195.3 159.3L199.8 160.6L195.4 161.9L190.9 160.7ZM190.9 160.7L195.4 161.9L190.9 163.3L186.4 162.0ZM186.4 162.0L190.9 163.3L186.4 164.6L182.0 163.3ZM182.0 163.3L186.4 164.6L182.0 165.9L177.5 164.6ZM177.5 164.6L182.0 165.9L177.5 167.1L173.0 165.8ZM173.0 165.8L177.5 167.1L173.0 168.4L168.6 167.1ZM168.6 167.1L173.0 168.4L168.6 169.7L164.1 168.3ZM164.1 168.3L168.6 169.7L164.1 170.9L159.7 169.6ZM204.3 159.3L208.8 160.5L204.3 161.9L199.8 160.6ZM199.8 160.6L204.3 161.9L199.8 163.2L195.4 161.9ZM195.4 161.9L199.8 163.2L195.4 164.6L190.9 163.3ZM190.9 163.3L195.4 164.6L190.9 165.9L186.4 164.6ZM186.4 164.6L190.9 165.9L186.4 167.2L182.0 165.9ZM182.0 165.9L186.4 167.2L182.0 168.5L177.5 167.1ZM177.5 167.1L182.0 168.5L177.5 169.8L173.0 168.4ZM173.0 168.4L177.5 169.8L173.1 171.0L168.6 169.7ZM213.2 159.2L217.7 160.4L213.2 161.8L208.8 160.5ZM208.8 160.5L213.2 161.8L208.8 163.1L204.3 161.9ZM204.3 161.9L208.8 163.1L204.3 164.5L199.8 163.2ZM199.8 163.2L204.3 164.5L199.8 165.9L195.4 164.6ZM195.4 164.6L199.8 165.9L195.4 167.2L190.9 165.9ZM190.9 165.9L195.4 167.2L190.9 168.5L186.4 167.2ZM186.4 167.2L190.9 168.5L186.5 169.8L182.0 168.5ZM217.7 160.4L222.2 162.0L217.7 163.4L213.2 161.8ZM213.2 161.8L217.7 163.4L213.2 164.8L208.8 163.1ZM208.8 163.1L213.2 164.8L208.8 166.1L204.3 164.5ZM204.3 164.5L208.8 166.1L204.3 167.5L199.8 165.9ZM199.8 165.9L204.3 167.5L199.8 168.9L195.4 167.2ZM195.4 167.2L199.8 168.9L195.4 170.2L190.9 168.5ZM226.6 160.5L231.1 162.1L226.6 163.6L222.2 162.0ZM222.2 162.0L226.6 163.6L222.2 165.0L217.7 163.4ZM217.7 163.4L222.2 165.0L217.7 166.5L213.2 164.8ZM213.2 164.8L217.7 166.5L213.2 167.8L208.8 166.1ZM208.8 166.1L213.2 167.8L208.8 169.2L204.3 167.5ZM240.0 159.2L244.5 160.8L240.0 162.3L235.6 160.7ZM235.6 160.7L240.0 162.3L235.6 163.8L231.1 162.1ZM231.1 162.1L235.6 163.8L231.1 165.3L226.6 163.6ZM226.6 163.6L231.1 165.3L226.6 166.8L222.2 165.0ZM222.2 165.0L226.6 166.8L222.2 168.2L217.7 166.5ZM249.0 159.3L253.4 160.9L249.0 162.4L244.5 160.8ZM244.5 160.8L249.0 162.4L244.5 164.0L240.0 162.3ZM240.0 162.3L244.5 164.0L240.0 165.5L235.6 163.8ZM235.6 163.8L240.0 165.5L235.6 167.0L231.1 165.3ZM257.9 159.4L262.4 160.8L257.9 162.4L253.4 160.9ZM253.4 160.9L257.9 162.4L253.4 163.9L249.0 162.4ZM249.0 162.4L253.4 163.9L249.0 165.5L244.5 164.0ZM244.5 164.0L249.0 165.5L244.5 167.0L240.0 165.5ZM266.8 159.2L271.3 160.7L266.8 162.3L262.4 160.8ZM262.4 160.8L266.8 162.3L262.4 163.9L257.9 162.4ZM257.9 162.4L262.4 163.9L257.9 165.4L253.4 163.9ZM253.4 163.9L257.9 165.4L253.4 167.0L249.0 165.5ZM271.3 160.7L275.8 162.1L271.3 163.7L266.8 162.3ZM266.8 162.3L271.3 163.7L266.8 165.3L262.4 163.9ZM262.4 163.9L266.8 165.3L262.4 166.9L257.9 165.4ZM280.2 160.4L284.7 161.9L280.2 163.5L275.8 162.1ZM275.8 162.1L280.2 163.5L275.8 165.2L271.3 163.7ZM271.3 163.7L275.8 165.2L271.3 166.8L266.8 165.3ZM284.7 161.9L289.2 163.3L284.7 165.0L280.2 163.5ZM280.2 163.5L284.7 165.0L280.2 166.7L275.8 165.2ZM275.8 165.2L280.2 166.7L275.8 168.4L271.3 166.8ZM293.6 161.7L298.1 163.4L293.6 165.1L289.2 163.3ZM289.2 163.3L293.6 165.1L289.2 166.8L284.7 165.0ZM284.7 165.0L289.2 166.8L284.7 168.5L280.2 166.7ZM302.6 161.6L307.0 163.3L302.6 165.1L298.1 163.4ZM298.1 163.4L302.6 165.1L298.1 166.8L293.6 165.1ZM293.6 165.1L298.1 166.8L293.7 168.6L289.2 166.8ZM311.5 161.4L316.0 163.0L311.5 164.9L307.0 163.3ZM307.0 163.3L311.5 164.9L307.0 166.7L302.6 165.1ZM302.6 165.1L307.0 166.7L302.6 168.5L298.1 166.8ZM316.0 163.0L320.4 164.5L316.0 166.4L311.5 164.9ZM311.5 164.9L316.0 166.4L311.5 168.3L307.0 166.7ZM324.9 162.7L329.4 164.2L324.9 166.1L320.4 164.5ZM320.4 164.5L324.9 166.1L320.5 168.0L316.0 166.4ZM329.4 164.2L333.9 165.8L329.4 167.6L324.9 166.1ZM324.9 166.1L329.4 167.6L324.9 169.6L320.5 168.0ZM338.3 163.9L342.8 165.4L338.3 167.3L333.9 165.8ZM333.9 165.8L338.3 167.3L333.9 169.2L329.4 167.6ZM342.8 165.4L347.3 166.9L342.8 168.9L338.3 167.3ZM338.3 167.3L342.8 168.9L338.3 170.8L333.9 169.2ZM351.7 165.0L356.2 166.5L351.7 168.5L347.3 166.9ZM347.3 166.9L351.7 168.5L347.3 170.4L342.8 168.9ZM356.2 166.5L360.7 168.1L356.2 170.0L351.7 168.5ZM351.7 168.5L356.2 170.0L351.7 172.0L347.3 170.4ZM365.1 166.1L369.6 167.7L365.1 169.7L360.7 168.1ZM360.7 168.1L365.1 169.7L360.7 171.6L356.2 170.0ZM369.6 167.7L374.1 169.2L369.6 171.2L365.1 169.7ZM365.1 169.7L369.6 171.2L365.1 173.2L360.7 171.6ZM378.5 167.2L383.0 168.7L378.5 170.7L374.1 169.2ZM374.1 169.2L378.5 170.7L374.1 172.7L369.6 171.2ZM383.0 168.7L387.5 170.1L383.0 172.2L378.5 170.7ZM378.5 170.7L383.0 172.2L378.6 174.2L374.1 172.7ZM387.5 170.1L391.9 171.7L387.5 173.7L383.0 172.2ZM396.4 169.6L400.9 171.2L396.4 173.2L391.9 171.7ZM391.9 171.7L396.4 173.2L392.0 175.3L387.5 173.7ZM400.9 171.2L405.4 172.7L400.9 174.7L396.4 173.2ZM409.8 170.6L414.3 172.1L409.8 174.2L405.4 172.7ZM405.4 172.7L409.8 174.2L405.4 176.2L400.9 174.7ZM414.3 172.1L418.8 173.7L414.3 175.7L409.8 174.2ZM409.8 174.2L414.3 175.7L409.8 177.7L405.4 176.2ZM423.2 171.6L427.7 173.2L423.2 175.3L418.8 173.7ZM418.8 173.7L423.2 175.3L418.8 177.3L414.3 175.7ZM427.7 173.2L432.2 174.8L427.7 176.9L423.2 175.3ZM423.2 175.3L427.7 176.9L423.2 178.9L418.8 177.3ZM436.6 172.7L441.1 174.4L436.6 176.5L432.2 174.8ZM432.2 174.8L436.6 176.5L432.2 178.5L427.7 176.9ZM441.1 174.4L445.6 176.2L441.1 178.2L436.6 176.5ZM450.0 174.1L454.5 176.3L450.0 178.1L445.6 176.2ZM445.6 176.2L450.0 178.1L445.6 180.0L441.1 178.2Z" fill="#4747eb" stroke="#4747eb" stroke-width="0.9" stroke-linejoin="round"/>
<path d="M74.8 173.6L79.3 176.2L74.8 178.6L70.3 175.9ZM88.2 172.3L92.7 174.4L88.2 176.2L83.7 174.1ZM83.7 174.1L88.2 176.2L83.7 178.2L79.3 176.2ZM101.6 170.9L106.1 172.8L101.6 174.4L97.1 172.6ZM97.1 172.6L101.6 174.4L97.1 176.0L92.7 174.4ZM92.7 174.4L97.1 176.0L92.7 177.6L88.2 176.2ZM115.0 169.6L119.5 171.1L115.0 172.6L110.5 171.2ZM110.5 171.2L115.0 172.6L110.5 174.1L106.1 172.8ZM106.1 172.8L110.5 174.1L106.1 175.6L101.6 174.4ZM101.6 174.4L106.1 175.6L101.6 177.2L97.1 176.0ZM123.9 169.7L128.4 171.0L123.9 172.4L119.5 171.1ZM119.5 171.1L123.9 172.4L119.5 173.8L115.0 172.6ZM115.0 172.6L119.5 173.8L115.0 175.3L110.5 174.1ZM110.5 174.1L115.0 175.3L110.5 176.8L106.1 175.6ZM132.9 169.6L137.3 170.9L132.9 172.2L128.4 171.0ZM128.4 171.0L132.9 172.2L128.4 173.6L123.9 172.4ZM123.9 172.4L128.4 173.6L123.9 175.0L119.5 173.8ZM119.5 173.8L123.9 175.0L119.5 176.5L115.0 175.3ZM115.0 175.3L119.5 176.5L115.0 177.9L110.5 176.8ZM141.8 169.6L146.3 170.8L141.8 172.1L137.3 170.9ZM137.3 170.9L141.8 172.1L137.3 173.5L132.9 172.2ZM132.9 172.2L137.3 173.5L132.9 174.8L128.4 173.6ZM128.4 173.6L132.9 174.8L128.4 176.2L123.9 175.0ZM123.9 175.0L128.4 176.2L123.9 177.6L119.5 176.5ZM119.5 176.5L123.9 177.6L119.5 179.0L115.0 177.9ZM150.7 169.5L155.2 170.9L150.7 172.1L146.3 170.8ZM146.3 170.8L150.7 172.1L146.3 173.5L141.8 172.1ZM141.8 172.1L146.3 173.5L141.8 174.8L137.3 173.5ZM137.3 173.5L141.8 174.8L137.3 176.1L132.9 174.8ZM132.9 174.8L137.3 176.1L132.9 177.5L128.4 176.2ZM128.4 176.2L132.9 177.5L128.4 178.8L123.9 177.6ZM123.9 177.6L128.4 178.8L124.0 180.1L119.5 179.0ZM159.7 169.6L164.1 170.9L159.7 172.2L155.2 170.9ZM155.2 170.9L159.7 172.2L155.2 173.5L150.7 172.1ZM150.7 172.1L155.2 173.5L150.7 174.8L146.3 173.5ZM146.3 173.5L150.7 174.8L146.3 176.1L141.8 174.8ZM141.8 174.8L146.3 176.1L141.8 177.3L137.3 176.1ZM137.3 176.1L141.8 177.3L137.4 178.5L132.9 177.5ZM132.9 177.5L137.4 178.5L132.9 179.7L128.4 178.8ZM128.4 178.8L132.9 179.7L128.4 180.9L124.0 180.1ZM110.6 183.3L115.0 183.8L110.6 184.6L106.1 184.2ZM168.6 169.7L173.1 171.0L168.6 172.3L164.1 170.9ZM164.1 170.9L168.6 172.3L164.1 173.6L159.7 172.2ZM159.7 172.2L164.1 173.6L159.7 174.7L155.2 173.5ZM155.2 173.5L159.7 174.7L155.2 175.9L150.7 174.8ZM150.7 174.8L155.2 175.9L150.7 177.1L146.3 176.1ZM146.3 176.1L150.7 177.1L146.3 178.3L141.8 177.3ZM141.8 177.3L146.3 178.3L141.8 179.5L137.4 178.5ZM137.4 178.5L141.8 179.5L137.4 180.7L132.9 179.7ZM132.9 179.7L137.4 180.7L132.9 181.8L128.4 180.9ZM128.4 180.9L132.9 181.8L128.4 182.9L124.0 182.0ZM124.0 182.0L128.4 182.9L124.0 183.8L119.5 183.0ZM119.5 183.0L124.0 183.8L119.5 184.5L115.0 183.8ZM115.0 183.8L119.5 184.5L115.1 185.1L110.6 184.6ZM182.0 168.5L186.5 169.8L182.0 171.1L177.5 169.8ZM177.5 169.8L182.0 171.1L177.5 172.3L173.1 171.0ZM173.1 171.0L177.5 172.3L173.1 173.5L168.6 172.3ZM168.6 172.3L173.1 173.5L168.6 174.6L164.1 173.6ZM164.1 173.6L168.6 174.6L164.1 175.8L159.7 174.7ZM159.7 174.7L164.1 175.8L159.7 177.0L155.2 175.9ZM155.2 175.9L159.7 177.0L155.2 178.2L150.7 177.1ZM150.7 177.1L155.2 178.2L150.8 179.3L146.3 178.3ZM146.3 178.3L150.8 179.3L146.3 180.6L141.8 179.5ZM141.8 179.5L146.3 180.6L141.8 181.7L137.4 180.7ZM137.4 180.7L141.8 181.7L137.4 182.8L132.9 181.8ZM132.9 181.8L137.4 182.8L132.9 183.9L128.4 182.9ZM128.4 182.9L132.9 183.9L128.4 184.7L124.0 183.8ZM124.0 183.8L128.4 184.7L124.0 185.3L119.5 184.5ZM119.5 184.5L124.0 185.3L119.5 185.5L115.1 185.1ZM190.9 168.5L195.4 170.2L190.9 171.5L186.5 169.8ZM186.5 169.8L190.9 171.5L186.5 172.6L182.0 171.1ZM182.0 171.1L186.5 172.6L182.0 173.8L177.5 172.3ZM177.5 172.3L182.0 173.8L177.5 174.9L173.1 173.5ZM173.1 173.5L177.5 174.9L173.1 176.1L168.6 174.6ZM168.6 174.6L173.1 176.1L168.6 177.2L164.1 175.8ZM164.1 175.8L168.6 177.2L164.2 178.4L159.7 177.0ZM159.7 177.0L164.2 178.4L159.7 179.6L155.2 178.2ZM155.2 178.2L159.7 179.6L155.2 180.8L150.8 179.3ZM150.8 179.3L155.2 180.8L150.8 182.0L146.3 180.6ZM146.3 180.6L150.8 182.0L146.3 183.2L141.8 181.7ZM141.8 181.7L146.3 183.2L141.8 184.3L137.4 182.8ZM137.4 182.8L141.8 184.3L137.4 185.3L132.9 183.9ZM132.9 183.9L137.4 185.3L132.9 186.2L128.4 184.7ZM128.4 184.7L132.9 186.2L128.5 186.9L124.0 185.3ZM124.0 185.3L128.5 186.9L124.0 187.4L119.5 185.5ZM204.3 167.5L208.8 169.2L204.3 170.6L199.8 168.9ZM199.8 168.9L204.3 170.6L199.9 171.8L195.4 170.2ZM195.4 170.2L199.9 171.8L195.4 173.0L190.9 171.5ZM190.9 171.5L195.4 173.0L190.9 174.2L186.5 172.6ZM186.5 172.6L190.9 174.2L186.5 175.3L182.0 173.8ZM182.0 173.8L186.5 175.3L182.0 176.5L177.5 174.9ZM177.5 174.9L182.0 176.5L177.5 177.6L173.1 176.1ZM173.1 176.1L177.5 177.6L173.1 178.8L168.6 177.2ZM168.6 177.2L173.1 178.8L168.6 180.0L164.2 178.4ZM164.2 178.4L168.6 180.0L164.2 181.2L159.7 179.6ZM159.7 179.6L164.2 181.2L159.7 182.4L155.2 180.8ZM155.2 180.8L159.7 182.4L155.2 183.6L150.8 182.0ZM150.8 182.0L155.2 183.6L150.8 184.8L146.3 183.2ZM146.3 183.2L150.8 184.8L146.3 186.0L141.8 184.3ZM141.8 184.3L146.3 186.0L141.9 187.0L137.4 185.3ZM137.4 185.3L141.9 187.0L137.4 187.9L132.9 186.2ZM132.9 186.2L137.4 187.9L132.9 188.6L128.5 186.9ZM128.5 186.9L132.9 188.6L128.5 189.3L124.0 187.4ZM217.7 166.5L222.2 168.2L217.7 169.6L213.2 167.8ZM213.2 167.8L217.7 169.6L213.3 170.9L208.8 169.2ZM208.8 169.2L213.3 170.9L208.8 172.1L204.3 170.6ZM204.3 170.6L208.8 172.1L204.3 173.3L199.9 171.8ZM199.9 171.8L204.3 173.3L199.9 174.5L195.4 173.0ZM195.4 173.0L199.9 174.5L195.4 175.7L190.9 174.2ZM190.9 174.2L195.4 175.7L190.9 176.9L186.5 175.3ZM186.5 175.3L190.9 176.9L186.5 178.0L182.0 176.5ZM182.0 176.5L186.5 178.0L182.0 179.2L177.5 177.6ZM177.5 177.6L182.0 179.2L177.6 180.4L173.1 178.8ZM173.1 178.8L177.6 180.4L173.1 181.6L168.6 180.0ZM168.6 180.0L173.1 181.6L168.6 182.8L164.2 181.2ZM132.9 188.6L137.4 190.3L132.9 191.1L128.5 189.3ZM231.1 165.3L235.6 167.0L231.1 168.5L226.6 166.8ZM226.6 166.8L231.1 168.5L226.7 169.9L222.2 168.2ZM222.2 168.2L226.7 169.9L222.2 171.1L217.7 169.6ZM217.7 169.6L222.2 171.1L217.7 172.4L213.3 170.9ZM213.3 170.9L217.7 172.4L213.3 173.7L208.8 172.1ZM208.8 172.1L213.3 173.7L208.8 174.9L204.3 173.3ZM204.3 173.3L208.8 174.9L204.3 176.1L199.9 174.5ZM240.0 165.5L244.5 167.0L240.0 168.5L235.6 167.0ZM235.6 167.0L240.0 168.5L235.6 169.9L231.1 168.5ZM231.1 168.5L235.6 169.9L231.1 171.2L226.7 169.9ZM226.7 169.9L231.1 171.2L226.7 172.5L222.2 171.1ZM222.2 171.1L226.7 172.5L222.2 173.8L217.7 172.4ZM249.0 165.5L253.4 167.0L249.0 168.6L244.5 167.0ZM244.5 167.0L249.0 168.6L244.5 170.0L240.0 168.5ZM240.0 168.5L244.5 170.0L240.1 171.3L235.6 169.9ZM235.6 169.9L240.1 171.3L235.6 172.6L231.1 171.2ZM257.9 165.4L262.4 166.9L257.9 168.5L253.4 167.0ZM253.4 167.0L257.9 168.5L253.5 169.9L249.0 168.6ZM249.0 168.6L253.5 169.9L249.0 171.3L244.5 170.0ZM244.5 170.0L249.0 171.3L244.5 172.6L240.1 171.3ZM266.8 165.3L271.3 166.8L266.8 168.4L262.4 166.9ZM262.4 166.9L266.8 168.4L262.4 169.8L257.9 168.5ZM257.9 168.5L262.4 169.8L257.9 171.2L253.5 169.9ZM253.5 169.9L257.9 171.2L253.5 172.6L249.0 171.3ZM271.3 166.8L275.8 168.4L271.3 169.8L266.8 168.4ZM266.8 168.4L271.3 169.8L266.9 171.2L262.4 169.8ZM262.4 169.8L266.9 171.2L262.4 172.6L257.9 171.2ZM280.2 166.7L284.7 168.5L280.3 170.0L275.8 168.4ZM275.8 168.4L280.3 170.0L275.8 171.4L271.3 169.8ZM271.3 169.8L275.8 171.4L271.3 172.9L266.9 171.2ZM289.2 166.8L293.7 168.6L289.2 170.1L284.7 168.5ZM284.7 168.5L289.2 170.1L284.7 171.6L280.3 170.0ZM280.3 170.0L284.7 171.6L280.3 173.1L275.8 171.4ZM298.1 166.8L302.6 168.5L298.1 170.1L293.7 168.6ZM293.7 168.6L298.1 170.1L293.7 171.6L289.2 170.1ZM307.0 166.7L311.5 168.3L307.1 170.0L302.6 168.5ZM302.6 168.5L307.1 170.0L302.6 171.5L298.1 170.1ZM298.1 170.1L302.6 171.5L298.1 173.1L293.7 171.6ZM316.0 166.4L320.5 168.0L316.0 169.8L311.5 168.3ZM311.5 168.3L316.0 169.8L311.5 171.4L307.1 170.0ZM307.1 170.0L311.5 171.4L307.1 173.0L302.6 171.5ZM320.5 168.0L324.9 169.6L320.5 171.3L316.0 169.8ZM316.0 169.8L320.5 171.3L316.0 172.9L311.5 171.4ZM329.4 167.6L333.9 169.2L329.4 171.1L324.9 169.6ZM324.9 169.6L329.4 171.1L324.9 172.8L320.5 171.3ZM333.9 169.2L338.3 170.8L333.9 172.6L329.4 171.1ZM329.4 171.1L333.9 172.6L329.4 174.2L324.9 172.8ZM342.8 168.9L347.3 170.4L342.8 172.3L338.3 170.8ZM338.3 170.8L342.8 172.3L338.3 174.0L333.9 172.6ZM347.3 170.4L351.7 172.0L347.3 173.7L342.8 172.3ZM342.8 172.3L347.3 173.7L342.8 175.4L338.3 174.0ZM356.2 170.0L360.7 171.6L356.2 173.6L351.7 172.0ZM351.7 172.0L356.2 173.6L351.7 175.2L347.3 173.7ZM360.7 171.6L365.1 173.2L360.7 175.0L356.2 173.6ZM369.6 171.2L374.1 172.7L369.6 174.7L365.1 173.2ZM365.1 173.2L369.6 174.7L365.2 176.4L360.7 175.0ZM374.1 172.7L378.6 174.2L374.1 176.1L369.6 174.7ZM383.0 172.2L387.5 173.7L383.0 175.7L378.6 174.2ZM378.6 174.2L383.0 175.7L378.6 177.5L374.1 176.1ZM387.5 173.7L392.0 175.3L387.5 177.3L383.0 175.7ZM383.0 175.7L387.5 177.3L383.0 178.9L378.6 177.5ZM396.4 173.2L400.9 174.7L396.4 176.8L392.0 175.3ZM392.0 175.3L396.4 176.8L392.0 178.6L387.5 177.3ZM400.9 174.7L405.4 176.2L400.9 178.3L396.4 176.8ZM396.4 176.8L400.9 178.3L396.4 180.0L392.0 178.6ZM405.4 176.2L409.8 177.7L405.4 179.8L400.9 178.3ZM414.3 175.7L418.8 177.3L414.3 179.3L409.8 177.7ZM409.8 177.7L414.3 179.3L409.8 181.2L405.4 179.8ZM418.8 177.3L423.2 178.9L418.8 180.9L414.3 179.3ZM427.7 176.9L432.2 178.5L427.7 180.5L423.2 178.9ZM423.2 178.9L427.7 180.5L423.2 182.4L418.8 180.9ZM436.6 176.5L441.1 178.2L436.6 180.1L432.2 178.5ZM432.2 178.5L436.6 180.1L432.2 182.0L427.7 180.5ZM441.1 178.2L445.6 180.0L441.1 181.8L436.6 180.1ZM436.6 180.1L441.1 181.8L436.7 183.6L432.2 182.0Z" fill="#4741e5" stroke="#4741e5" stroke-width="0.9" stroke-linejoin="round"/>
<path d="M79.3 176.2L83.7 178.2L79.3 180.3L74.8 178.6ZM88.2 176.2L92.7 177.6L88.2 179.4L83.7 178.2ZM83.7 178.2L88.2 179.4L83.7 181.2L79.3 180.3ZM97.1 176.0L101.6 177.2L97.1 178.7L92.7 177.6ZM92.7 177.6L97.1 178.7L92.7 180.4L88.2 179.4ZM106.1 175.6L110.5 176.8L106.1 178.3L101.6 177.2ZM101.6 177.2L106.1 178.3L101.6 179.7L97.1 178.7ZM97.1 178.7L101.6 179.7L97.2 181.2L92.7 180.4ZM92.7 180.4L97.2 181.2L92.7 182.7L88.2 182.1ZM110.5 176.8L115.0 177.9L110.6 179.3L106.1 178.3ZM106.1 178.3L110.6 179.3L106.1 180.7L101.6 179.7ZM101.6 179.7L106.1 180.7L101.6 182.0L97.2 181.2ZM97.2 181.2L101.6 182.0L97.2 183.4L92.7 182.7ZM115.0 177.9L119.5 179.0L115.0 180.4L110.6 179.3ZM110.6 179.3L115.0 180.4L110.6 181.6L106.1 180.7ZM106.1 180.7L110.6 181.6L106.1 182.7L101.6 182.0ZM101.6 182.0L106.1 182.7L101.6 183.8L97.2 183.4ZM119.5 179.0L124.0 180.1L119.5 181.2L115.0 180.4ZM115.0 180.4L119.5 181.2L115.0 182.3L110.6 181.6ZM110.6 181.6L115.0 182.3L110.6 183.3L106.1 182.7ZM106.1 182.7L110.6 183.3L106.1 184.2L101.6 183.8ZM124.0 180.1L128.4 180.9L124.0 182.0L119.5 181.2ZM119.5 181.2L124.0 182.0L119.5 183.0L115.0 182.3ZM115.0 182.3L119.5 183.0L115.0 183.8L110.6 183.3ZM164.2 181.2L168.6 182.8L164.2 184.0L159.7 182.4ZM159.7 182.4L164.2 184.0L159.7 185.3L155.2 183.6ZM155.2 183.6L159.7 185.3L155.2 186.5L150.8 184.8ZM150.8 184.8L155.2 186.5L150.8 187.5L146.3 186.0ZM146.3 186.0L150.8 187.5L146.3 188.6L141.9 187.0ZM141.9 187.0L146.3 188.6L141.9 189.4L137.4 187.9ZM137.4 187.9L141.9 189.4L137.4 190.3L132.9 188.6ZM199.9 174.5L204.3 176.1L199.9 177.3L195.4 175.7ZM195.4 175.7L199.9 177.3L195.4 178.4L190.9 176.9ZM190.9 176.9L195.4 178.4L191.0 179.6L186.5 178.0ZM186.5 178.0L191.0 179.6L186.5 180.8L182.0 179.2ZM182.0 179.2L186.5 180.8L182.0 182.0L177.6 180.4ZM177.6 180.4L182.0 182.0L177.6 183.2L173.1 181.6ZM173.1 181.6L177.6 183.2L173.1 184.4L168.6 182.8ZM168.6 182.8L173.1 184.4L168.6 185.7L164.2 184.0ZM164.2 184.0L168.6 185.7L164.2 186.8L159.7 185.3ZM159.7 185.3L164.2 186.8L159.7 187.9L155.2 186.5ZM155.2 186.5L159.7 187.9L155.3 189.0L150.8 187.5ZM150.8 187.5L155.3 189.0L150.8 190.1L146.3 188.6ZM146.3 188.6L150.8 190.1L146.3 191.0L141.9 189.4ZM141.9 189.4L146.3 191.0L141.9 192.0L137.4 190.3ZM137.4 190.3L141.9 192.0L137.4 193.0L132.9 191.1ZM217.7 172.4L222.2 173.8L217.7 175.1L213.3 173.7ZM213.3 173.7L217.7 175.1L213.3 176.3L208.8 174.9ZM208.8 174.9L213.3 176.3L208.8 177.5L204.3 176.1ZM204.3 176.1L208.8 177.5L204.4 178.7L199.9 177.3ZM199.9 177.3L204.4 178.7L199.9 179.9L195.4 178.4ZM195.4 178.4L199.9 179.9L195.4 181.1L191.0 179.6ZM191.0 179.6L195.4 181.1L191.0 182.3L186.5 180.8ZM186.5 180.8L191.0 182.3L186.5 183.5L182.0 182.0ZM182.0 182.0L186.5 183.5L182.0 184.7L177.6 183.2ZM177.6 183.2L182.0 184.7L177.6 185.8L173.1 184.4ZM173.1 184.4L177.6 185.8L173.1 187.0L168.6 185.7ZM168.6 185.7L173.1 187.0L168.7 188.1L164.2 186.8ZM164.2 186.8L168.7 188.1L164.2 189.3L159.7 187.9ZM159.7 187.9L164.2 189.3L159.7 190.4L155.3 189.0ZM155.3 189.0L159.7 190.4L155.3 191.5L150.8 190.1ZM150.8 190.1L155.3 191.5L150.8 192.4L146.3 191.0ZM146.3 191.0L150.8 192.4L146.3 193.4L141.9 192.0ZM141.9 192.0L146.3 193.4L141.9 194.4L137.4 193.0ZM231.1 171.2L235.6 172.6L231.1 173.9L226.7 172.5ZM226.7 172.5L231.1 173.9L226.7 175.2L222.2 173.8ZM222.2 173.8L226.7 175.2L222.2 176.5L217.7 175.1ZM217.7 175.1L222.2 176.5L217.7 177.7L213.3 176.3ZM213.3 176.3L217.7 177.7L213.3 178.9L208.8 177.5ZM208.8 177.5L213.3 178.9L208.8 180.1L204.4 178.7ZM204.4 178.7L208.8 180.1L204.4 181.3L199.9 179.9ZM199.9 179.9L204.4 181.3L199.9 182.5L195.4 181.1ZM195.4 181.1L199.9 182.5L195.4 183.8L191.0 182.3ZM191.0 182.3L195.4 183.8L191.0 184.9L186.5 183.5ZM186.5 183.5L191.0 184.9L186.5 186.0L182.0 184.7ZM182.0 184.7L186.5 186.0L182.1 187.1L177.6 185.8ZM177.6 185.8L182.1 187.1L177.6 188.3L173.1 187.0ZM173.1 187.0L177.6 188.3L173.1 189.5L168.7 188.1ZM168.7 188.1L173.1 189.5L168.7 190.6L164.2 189.3ZM164.2 189.3L168.7 190.6L164.2 191.8L159.7 190.4ZM159.7 190.4L164.2 191.8L159.7 192.9L155.3 191.5ZM155.3 191.5L159.7 192.9L155.3 193.9L150.8 192.4ZM150.8 192.4L155.3 193.9L150.8 194.8L146.3 193.4ZM146.3 193.4L150.8 194.8L146.4 195.8L141.9 194.4ZM240.1 171.3L244.5 172.6L240.1 174.0L235.6 172.6ZM235.6 172.6L240.1 174.0L235.6 175.3L231.1 173.9ZM231.1 173.9L235.6 175.3L231.1 176.6L226.7 175.2ZM226.7 175.2L231.1 176.6L226.7 177.9L222.2 176.5ZM222.2 176.5L226.7 177.9L222.2 179.1L217.7 177.7ZM217.7 177.7L222.2 179.1L217.8 180.4L213.3 178.9ZM213.3 178.9L217.8 180.4L213.3 181.6L208.8 180.1ZM208.8 180.1L213.3 181.6L208.8 182.8L204.4 181.3ZM204.4 181.3L208.8 182.8L204.4 183.9L199.9 182.5ZM199.9 182.5L204.4 183.9L199.9 185.1L195.4 183.8ZM195.4 183.8L199.9 185.1L195.4 186.2L191.0 184.9ZM191.0 184.9L195.4 186.2L191.0 187.3L186.5 186.0ZM186.5 186.0L191.0 187.3L186.5 188.5L182.1 187.1ZM182.1 187.1L186.5 188.5L182.1 189.6L177.6 188.3ZM150.8 194.8L155.3 196.3L150.8 197.2L146.4 195.8ZM249.0 171.3L253.5 172.6L249.0 174.0L244.5 172.6ZM244.5 172.6L249.0 174.0L244.5 175.3L240.1 174.0ZM240.1 174.0L244.5 175.3L240.1 176.7L235.6 175.3ZM235.6 175.3L240.1 176.7L235.6 178.0L231.1 176.6ZM231.1 176.6L235.6 178.0L231.2 179.3L226.7 177.9ZM226.7 177.9L231.2 179.3L226.7 180.6L222.2 179.1ZM222.2 179.1L226.7 180.6L222.2 181.8L217.8 180.4ZM217.8 180.4L222.2 181.8L217.8 183.0L213.3 181.6ZM213.3 181.6L217.8 183.0L213.3 184.1L208.8 182.8ZM257.9 171.2L262.4 172.6L257.9 174.0L253.5 172.6ZM253.5 172.6L257.9 174.0L253.5 175.4L249.0 174.0ZM249.0 174.0L253.5 175.4L249.0 176.8L244.5 175.3ZM244.5 175.3L249.0 176.8L244.6 178.1L240.1 176.7ZM240.1 176.7L244.6 178.1L240.1 179.4L235.6 178.0ZM235.6 178.0L240.1 179.4L235.6 180.7L231.2 179.3ZM231.2 179.3L235.6 180.7L231.2 182.0L226.7 180.6ZM266.9 171.2L271.3 172.9L266.9 174.3L262.4 172.6ZM262.4 172.6L266.9 174.3L262.4 175.7L257.9 174.0ZM257.9 174.0L262.4 175.7L257.9 177.1L253.5 175.4ZM253.5 175.4L257.9 177.1L253.5 178.5L249.0 176.8ZM249.0 176.8L253.5 178.5L249.0 179.8L244.6 178.1ZM244.6 178.1L249.0 179.8L244.6 181.1L240.1 179.4ZM240.1 179.4L244.6 181.1L240.1 182.5L235.6 180.7ZM275.8 171.4L280.3 173.1L275.8 174.5L271.3 172.9ZM271.3 172.9L275.8 174.5L271.3 176.0L266.9 174.3ZM266.9 174.3L271.3 176.0L266.9 177.4L262.4 175.7ZM262.4 175.7L266.9 177.4L262.4 178.8L257.9 177.1ZM257.9 177.1L262.4 178.8L258.0 180.2L253.5 178.5ZM289.2 170.1L293.7 171.6L289.2 173.1L284.7 171.6ZM284.7 171.6L289.2 173.1L284.7 174.6L280.3 173.1ZM280.3 173.1L284.7 174.6L280.3 176.1L275.8 174.5ZM275.8 174.5L280.3 176.1L275.8 177.5L271.3 176.0ZM271.3 176.0L275.8 177.5L271.4 178.9L266.9 177.4ZM293.7 171.6L298.1 173.1L293.7 174.6L289.2 173.1ZM289.2 173.1L293.7 174.6L289.2 176.0L284.7 174.6ZM284.7 174.6L289.2 176.0L284.7 177.5L280.3 176.1ZM280.3 176.1L284.7 177.5L280.3 179.0L275.8 177.5ZM302.6 171.5L307.1 173.0L302.6 174.5L298.1 173.1ZM298.1 173.1L302.6 174.5L298.1 176.0L293.7 174.6ZM293.7 174.6L298.1 176.0L293.7 177.5L289.2 176.0ZM289.2 176.0L293.7 177.5L289.2 179.0L284.7 177.5ZM311.5 171.4L316.0 172.9L311.5 174.4L307.1 173.0ZM307.1 173.0L311.5 174.4L307.1 176.0L302.6 174.5ZM302.6 174.5L307.1 176.0L302.6 177.5L298.1 176.0ZM298.1 176.0L302.6 177.5L298.2 179.0L293.7 177.5ZM320.5 171.3L324.9 172.8L320.5 174.3L316.0 172.9ZM316.0 172.9L320.5 174.3L316.0 175.9L311.5 174.4ZM311.5 174.4L316.0 175.9L311.6 177.4L307.1 176.0ZM307.1 176.0L311.6 177.4L307.1 179.0L302.6 177.5ZM324.9 172.8L329.4 174.2L324.9 175.8L320.5 174.3ZM320.5 174.3L324.9 175.8L320.5 177.4L316.0 175.9ZM316.0 175.9L320.5 177.4L316.0 178.9L311.6 177.4ZM333.9 172.6L338.3 174.0L333.9 175.6L329.4 174.2ZM329.4 174.2L333.9 175.6L329.4 177.2L324.9 175.8ZM324.9 175.8L329.4 177.2L325.0 178.8L320.5 177.4ZM338.3 174.0L342.8 175.4L338.4 177.1L333.9 175.6ZM333.9 175.6L338.4 177.1L333.9 178.7L329.4 177.2ZM329.4 177.2L333.9 178.7L329.4 180.3L325.0 178.8ZM347.3 173.7L351.7 175.2L347.3 176.9L342.8 175.4ZM342.8 175.4L347.3 176.9L342.8 178.6L338.4 177.1ZM338.4 177.1L342.8 178.6L338.4 180.2L333.9 178.7ZM356.2 173.6L360.7 175.0L356.2 176.7L351.7 175.2ZM351.7 175.2L356.2 176.7L351.8 178.4L347.3 176.9ZM347.3 176.9L351.8 178.4L347.3 180.1L342.8 178.6ZM360.7 175.0L365.2 176.4L360.7 178.1L356.2 176.7ZM356.2 176.7L360.7 178.1L356.2 179.8L351.8 178.4ZM351.8 178.4L356.2 179.8L351.8 181.5L347.3 180.1ZM369.6 174.7L374.1 176.1L369.6 177.8L365.2 176.4ZM365.2 176.4L369.6 177.8L365.2 179.4L360.7 178.1ZM360.7 178.1L365.2 179.4L360.7 181.1L356.2 179.8ZM374.1 176.1L378.6 177.5L374.1 179.2L369.6 177.8ZM369.6 177.8L374.1 179.2L369.6 180.8L365.2 179.4ZM365.2 179.4L369.6 180.8L365.2 182.6L360.7 181.1ZM378.6 177.5L383.0 178.9L378.6 180.6L374.1 179.2ZM374.1 179.2L378.6 180.6L374.1 182.3L369.6 180.8ZM387.5 177.3L392.0 178.6L387.5 180.3L383.0 178.9ZM383.0 178.9L387.5 180.3L383.0 182.0L378.6 180.6ZM378.6 180.6L383.0 182.0L378.6 183.7L374.1 182.3ZM392.0 178.6L396.4 180.0L392.0 181.7L387.5 180.3ZM387.5 180.3L392.0 181.7L387.5 183.4L383.0 182.0ZM400.9 178.3L405.4 179.8L400.9 181.4L396.4 180.0ZM396.4 180.0L400.9 181.4L396.4 183.1L392.0 181.7ZM392.0 181.7L396.4 183.1L392.0 184.8L387.5 183.4ZM405.4 179.8L409.8 181.2L405.4 182.9L400.9 181.4ZM400.9 181.4L405.4 182.9L400.9 184.5L396.4 183.1ZM414.3 179.3L418.8 180.9L414.3 182.6L409.8 181.2ZM409.8 181.2L414.3 182.6L409.9 184.3L405.4 182.9ZM405.4 182.9L409.9 184.3L405.4 185.9L400.9 184.5ZM418.8 180.9L423.2 182.4L418.8 184.0L414.3 182.6ZM414.3 182.6L418.8 184.0L414.3 185.6L409.9 184.3ZM427.7 180.5L432.2 182.0L427.7 183.8L423.2 182.4ZM423.2 182.4L427.7 183.8L423.3 185.4L418.8 184.0ZM418.8 184.0L423.3 185.4L418.8 187.0L414.3 185.6ZM432.2 182.0L436.7 183.6L432.2 185.2L427.7 183.8ZM427.7 183.8L432.2 185.2L427.7 186.7L423.3 185.4Z" fill="#463cde" stroke="#463cde" stroke-width="0.9" stroke-linejoin="round"/>
<path d="M88.2 179.4L92.7 180.4L88.2 182.1L83.7 181.2ZM177.6 188.3L182.1 189.6L177.6 190.8L173.1 189.5ZM173.1 189.5L177.6 190.8L173.1 192.0L168.7 190.6ZM168.7 190.6L173.1 192.0L168.7 193.2L164.2 191.8ZM164.2 191.8L168.7 193.2L164.2 194.3L159.7 192.9ZM159.7 192.9L164.2 194.3L159.8 195.3L155.3 193.9ZM155.3 193.9L159.8 195.3L155.3 196.3L150.8 194.8ZM208.8 182.8L213.3 184.1L208.8 185.2L204.4 183.9ZM204.4 183.9L208.8 185.2L204.4 186.4L199.9 185.1ZM199.9 185.1L204.4 186.4L199.9 187.5L195.4 186.2ZM195.4 186.2L199.9 187.5L195.5 188.6L191.0 187.3ZM191.0 187.3L195.5 188.6L191.0 189.8L186.5 188.5ZM186.5 188.5L191.0 189.8L186.5 191.0L182.1 189.6ZM182.1 189.6L186.5 191.0L182.1 192.3L177.6 190.8ZM177.6 190.8L182.1 192.3L177.6 193.5L173.1 192.0ZM173.1 192.0L177.6 193.5L173.1 194.7L168.7 193.2ZM168.7 193.2L173.1 194.7L168.7 195.8L164.2 194.3ZM164.2 194.3L168.7 195.8L164.2 196.8L159.8 195.3ZM159.8 195.3L164.2 196.8L159.8 197.8L155.3 196.3ZM155.3 196.3L159.8 197.8L155.3 198.5L150.8 197.2ZM226.7 180.6L231.2 182.0L226.7 183.2L222.2 181.8ZM222.2 181.8L226.7 183.2L222.2 184.4L217.8 183.0ZM217.8 183.0L222.2 184.4L217.8 185.5L213.3 184.1ZM213.3 184.1L217.8 185.5L213.3 186.6L208.8 185.2ZM208.8 185.2L213.3 186.6L208.9 187.7L204.4 186.4ZM204.4 186.4L208.9 187.7L204.4 188.8L199.9 187.5ZM199.9 187.5L204.4 188.8L199.9 190.0L195.5 188.6ZM195.5 188.6L199.9 190.0L195.5 191.2L191.0 189.8ZM191.0 189.8L195.5 191.2L191.0 192.4L186.5 191.0ZM186.5 191.0L191.0 192.4L186.5 193.7L182.1 192.3ZM182.1 192.3L186.5 193.7L182.1 195.0L177.6 193.5ZM177.6 193.5L182.1 195.0L177.6 196.2L173.1 194.7ZM173.1 194.7L177.6 196.2L173.2 197.4L168.7 195.8ZM168.7 195.8L173.2 197.4L168.7 198.4L164.2 196.8ZM164.2 196.8L168.7 198.4L164.2 199.3L159.8 197.8ZM159.8 197.8L164.2 199.3L159.8 199.9L155.3 198.5ZM235.6 180.7L240.1 182.5L235.6 183.7L231.2 182.0ZM231.2 182.0L235.6 183.7L231.2 184.8L226.7 183.2ZM226.7 183.2L231.2 184.8L226.7 185.9L222.2 184.4ZM222.2 184.4L226.7 185.9L222.2 187.1L217.8 185.5ZM217.8 185.5L222.2 187.1L217.8 188.2L213.3 186.6ZM213.3 186.6L217.8 188.2L213.3 189.3L208.9 187.7ZM208.9 187.7L213.3 189.3L208.9 190.5L204.4 188.8ZM204.4 188.8L208.9 190.5L204.4 191.7L199.9 190.0ZM199.9 190.0L204.4 191.7L199.9 192.9L195.5 191.2ZM195.5 191.2L199.9 192.9L195.5 194.2L191.0 192.4ZM191.0 192.4L195.5 194.2L191.0 195.5L186.5 193.7ZM186.5 193.7L191.0 195.5L186.6 196.7L182.1 195.0ZM182.1 195.0L186.6 196.7L182.1 198.0L177.6 196.2ZM177.6 196.2L182.1 198.0L177.6 199.2L173.2 197.4ZM173.2 197.4L177.6 199.2L173.2 200.2L168.7 198.4ZM168.7 198.4L173.2 200.2L168.7 201.3L164.2 199.3ZM164.2 199.3L168.7 201.3L164.2 202.3L159.8 199.9ZM253.5 178.5L258.0 180.2L253.5 181.5L249.0 179.8ZM249.0 179.8L253.5 181.5L249.0 182.9L244.6 181.1ZM244.6 181.1L249.0 182.9L244.6 184.1L240.1 182.5ZM240.1 182.5L244.6 184.1L240.1 185.3L235.6 183.7ZM235.6 183.7L240.1 185.3L235.6 186.4L231.2 184.8ZM231.2 184.8L235.6 186.4L231.2 187.5L226.7 185.9ZM226.7 185.9L231.2 187.5L226.7 188.7L222.2 187.1ZM222.2 187.1L226.7 188.7L222.3 189.8L217.8 188.2ZM217.8 188.2L222.3 189.8L217.8 191.0L213.3 189.3ZM213.3 189.3L217.8 191.0L213.3 192.1L208.9 190.5ZM208.9 190.5L213.3 192.1L208.9 193.4L204.4 191.7ZM204.4 191.7L208.9 193.4L204.4 194.6L199.9 192.9ZM199.9 192.9L204.4 194.6L200.0 195.9L195.5 194.2ZM195.5 194.2L200.0 195.9L195.5 197.2L191.0 195.5ZM266.9 177.4L271.4 178.9L266.9 180.4L262.4 178.8ZM262.4 178.8L266.9 180.4L262.4 181.7L258.0 180.2ZM258.0 180.2L262.4 181.7L258.0 183.1L253.5 181.5ZM253.5 181.5L258.0 183.1L253.5 184.3L249.0 182.9ZM249.0 182.9L253.5 184.3L249.0 185.5L244.6 184.1ZM244.6 184.1L249.0 185.5L244.6 186.7L240.1 185.3ZM240.1 185.3L244.6 186.7L240.1 187.9L235.6 186.4ZM235.6 186.4L240.1 187.9L235.7 189.0L231.2 187.5ZM231.2 187.5L235.7 189.0L231.2 190.1L226.7 188.7ZM226.7 188.7L231.2 190.1L226.7 191.3L222.3 189.8ZM222.3 189.8L226.7 191.3L222.3 192.5L217.8 191.0ZM217.8 191.0L222.3 192.5L217.8 193.6L213.3 192.1ZM275.8 177.5L280.3 179.0L275.8 180.4L271.4 178.9ZM271.4 178.9L275.8 180.4L271.4 181.9L266.9 180.4ZM266.9 180.4L271.4 181.9L266.9 183.3L262.4 181.7ZM262.4 181.7L266.9 183.3L262.4 184.5L258.0 183.1ZM258.0 183.1L262.4 184.5L258.0 185.7L253.5 184.3ZM253.5 184.3L258.0 185.7L253.5 186.9L249.0 185.5ZM284.7 177.5L289.2 179.0L284.8 180.5L280.3 179.0ZM280.3 179.0L284.8 180.5L280.3 181.9L275.8 180.4ZM275.8 180.4L280.3 181.9L275.8 183.4L271.4 181.9ZM271.4 181.9L275.8 183.4L271.4 184.6L266.9 183.3ZM266.9 183.3L271.4 184.6L266.9 185.8L262.4 184.5ZM293.7 177.5L298.2 179.0L293.7 180.5L289.2 179.0ZM289.2 179.0L293.7 180.5L289.2 182.0L284.8 180.5ZM284.8 180.5L289.2 182.0L284.8 183.4L280.3 181.9ZM280.3 181.9L284.8 183.4L280.3 184.7L275.8 183.4ZM302.6 177.5L307.1 179.0L302.6 180.5L298.2 179.0ZM298.2 179.0L302.6 180.5L298.2 182.0L293.7 180.5ZM293.7 180.5L298.2 182.0L293.7 183.5L289.2 182.0ZM289.2 182.0L293.7 183.5L289.2 184.8L284.8 183.4ZM311.6 177.4L316.0 178.9L311.6 180.5L307.1 179.0ZM307.1 179.0L311.6 180.5L307.1 182.0L302.6 180.5ZM302.6 180.5L307.1 182.0L302.6 183.5L298.2 182.0ZM298.2 182.0L302.6 183.5L298.2 184.9L293.7 183.5ZM320.5 177.4L325.0 178.8L320.5 180.4L316.0 178.9ZM316.0 178.9L320.5 180.4L316.0 181.9L311.6 180.5ZM311.6 180.5L316.0 181.9L311.6 183.5L307.1 182.0ZM307.1 182.0L311.6 183.5L307.1 184.9L302.6 183.5ZM325.0 178.8L329.4 180.3L325.0 181.9L320.5 180.4ZM320.5 180.4L325.0 181.9L320.5 183.4L316.0 181.9ZM316.0 181.9L320.5 183.4L316.0 184.9L311.6 183.5ZM333.9 178.7L338.4 180.2L333.9 181.8L329.4 180.3ZM329.4 180.3L333.9 181.8L329.4 183.4L325.0 181.9ZM325.0 181.9L329.4 183.4L325.0 185.0L320.5 183.4ZM342.8 178.6L347.3 180.1L342.8 181.7L338.4 180.2ZM338.4 180.2L342.8 181.7L338.4 183.3L333.9 181.8ZM333.9 181.8L338.4 183.3L333.9 184.9L329.4 183.4ZM347.3 180.1L351.8 181.5L347.3 183.1L342.8 181.7ZM342.8 181.7L347.3 183.1L342.8 184.7L338.4 183.3ZM338.4 183.3L342.8 184.7L338.4 186.2L333.9 184.9ZM356.2 179.8L360.7 181.1L356.2 182.8L351.8 181.5ZM351.8 181.5L356.2 182.8L351.8 184.4L347.3 183.1ZM347.3 183.1L351.8 184.4L347.3 186.0L342.8 184.7ZM360.7 181.1L365.2 182.6L360.7 184.3L356.2 182.8ZM356.2 182.8L360.7 184.3L356.2 185.9L351.8 184.4ZM351.8 184.4L356.2 185.9L351.8 187.5L347.3 186.0ZM369.6 180.8L374.1 182.3L369.6 184.0L365.2 182.6ZM365.2 182.6L369.6 184.0L365.2 185.7L360.7 184.3ZM360.7 184.3L365.2 185.7L360.7 187.3L356.2 185.9ZM374.1 182.3L378.6 183.7L374.1 185.4L369.6 184.0ZM369.6 184.0L374.1 185.4L369.7 187.1L365.2 185.7ZM383.0 182.0L387.5 183.4L383.1 185.0L378.6 183.7ZM378.6 183.7L383.1 185.0L378.6 186.8L374.1 185.4ZM374.1 185.4L378.6 186.8L374.1 188.5L369.7 187.1ZM387.5 183.4L392.0 184.8L387.5 186.4L383.1 185.0ZM383.1 185.0L387.5 186.4L383.1 188.2L378.6 186.8ZM396.4 183.1L400.9 184.5L396.5 186.2L392.0 184.8ZM392.0 184.8L396.5 186.2L392.0 187.8L387.5 186.4ZM387.5 186.4L392.0 187.8L387.5 189.6L383.1 188.2ZM400.9 184.5L405.4 185.9L400.9 187.6L396.5 186.2ZM396.5 186.2L400.9 187.6L396.5 189.2L392.0 187.8ZM409.9 184.3L414.3 185.6L409.9 187.2L405.4 185.9ZM405.4 185.9L409.9 187.2L405.4 188.9L400.9 187.6ZM400.9 187.6L405.4 188.9L400.9 190.6L396.5 189.2ZM414.3 185.6L418.8 187.0L414.3 188.6L409.9 187.2ZM409.9 187.2L414.3 188.6L409.9 190.2L405.4 188.9ZM405.4 188.9L409.9 190.2L405.4 191.9L400.9 190.6ZM423.3 185.4L427.7 186.7L423.3 188.3L418.8 187.0ZM418.8 187.0L423.3 188.3L418.8 189.9L414.3 188.6ZM414.3 188.6L418.8 189.9L414.3 191.5L409.9 190.2ZM311.7 214.4L316.2 215.0L311.7 215.9L307.2 215.4ZM307.2 215.4L311.7 215.9L307.3 216.7L302.8 216.5ZM302.8 216.5L307.3 216.7L302.8 217.6L298.3 217.4ZM298.3 217.4L302.8 217.6L298.3 218.7L293.9 218.5ZM293.9 218.5L298.3 218.7L293.9 220.1L289.4 219.8ZM289.4 219.8L293.9 220.1L289.4 221.4L284.9 221.0ZM284.9 221.0L289.4 221.4L284.9 222.7L280.5 222.3Z" fill="#4537d5" stroke="#4537d5" stroke-width="0.9" stroke-linejoin="round"/>
<path d="M191.0 195.5L195.5 197.2L191.0 198.5L186.6 196.7ZM186.6 196.7L191.0 198.5L186.6 199.7L182.1 198.0ZM182.1 198.0L186.6 199.7L182.1 201.0L177.6 199.2ZM177.6 199.2L182.1 201.0L177.6 202.2L173.2 200.2ZM173.2 200.2L177.6 202.2L173.2 203.4L168.7 201.3ZM168.7 201.3L173.2 203.4L168.7 204.7L164.2 202.3ZM213.3 192.1L217.8 193.6L213.3 194.9L208.9 193.4ZM208.9 193.4L213.3 194.9L208.9 196.2L204.4 194.6ZM204.4 194.6L208.9 196.2L204.4 197.4L200.0 195.9ZM200.0 195.9L204.4 197.4L200.0 198.7L195.5 197.2ZM195.5 197.2L200.0 198.7L195.5 200.0L191.0 198.5ZM191.0 198.5L195.5 200.0L191.0 201.3L186.6 199.7ZM186.6 199.7L191.0 201.3L186.6 202.6L182.1 201.0ZM182.1 201.0L186.6 202.6L182.1 203.9L177.6 202.2ZM177.6 202.2L182.1 203.9L177.7 205.2L173.2 203.4ZM173.2 203.4L177.7 205.2L173.2 206.5L168.7 204.7ZM249.0 185.5L253.5 186.9L249.1 188.1L244.6 186.7ZM244.6 186.7L249.1 188.1L244.6 189.2L240.1 187.9ZM240.1 187.9L244.6 189.2L240.1 190.4L235.7 189.0ZM235.7 189.0L240.1 190.4L235.7 191.5L231.2 190.1ZM231.2 190.1L235.7 191.5L231.2 192.7L226.7 191.3ZM226.7 191.3L231.2 192.7L226.7 193.9L222.3 192.5ZM222.3 192.5L226.7 193.9L222.3 195.1L217.8 193.6ZM217.8 193.6L222.3 195.1L217.8 196.3L213.3 194.9ZM213.3 194.9L217.8 196.3L213.4 197.5L208.9 196.2ZM208.9 196.2L213.4 197.5L208.9 198.8L204.4 197.4ZM204.4 197.4L208.9 198.8L204.4 200.2L200.0 198.7ZM200.0 198.7L204.4 200.2L200.0 201.5L195.5 200.0ZM195.5 200.0L200.0 201.5L195.5 202.8L191.0 201.3ZM191.0 201.3L195.5 202.8L191.0 204.2L186.6 202.6ZM262.4 184.5L266.9 185.8L262.4 187.0L258.0 185.7ZM258.0 185.7L262.4 187.0L258.0 188.2L253.5 186.9ZM253.5 186.9L258.0 188.2L253.5 189.4L249.1 188.1ZM249.1 188.1L253.5 189.4L249.1 190.6L244.6 189.2ZM244.6 189.2L249.1 190.6L244.6 191.8L240.1 190.4ZM240.1 190.4L244.6 191.8L240.1 192.9L235.7 191.5ZM235.7 191.5L240.1 192.9L235.7 194.1L231.2 192.7ZM231.2 192.7L235.7 194.1L231.2 195.3L226.7 193.9ZM226.7 193.9L231.2 195.3L226.8 196.5L222.3 195.1ZM222.3 195.1L226.8 196.5L222.3 197.7L217.8 196.3ZM217.8 196.3L222.3 197.7L217.8 198.9L213.4 197.5ZM213.4 197.5L217.8 198.9L213.4 200.2L208.9 198.8ZM208.9 198.8L213.4 200.2L208.9 201.6L204.4 200.2ZM204.4 200.2L208.9 201.6L204.4 202.9L200.0 201.5ZM275.8 183.4L280.3 184.7L275.8 186.0L271.4 184.6ZM271.4 184.6L275.8 186.0L271.4 187.2L266.9 185.8ZM266.9 185.8L271.4 187.2L266.9 188.4L262.4 187.0ZM262.4 187.0L266.9 188.4L262.5 189.6L258.0 188.2ZM258.0 188.2L262.5 189.6L258.0 190.8L253.5 189.4ZM253.5 189.4L258.0 190.8L253.5 192.0L249.1 190.6ZM249.1 190.6L253.5 192.0L249.1 193.1L244.6 191.8ZM244.6 191.8L249.1 193.1L244.6 194.3L240.1 192.9ZM240.1 192.9L244.6 194.3L240.1 195.5L235.7 194.1ZM235.7 194.1L240.1 195.5L235.7 196.7L231.2 195.3ZM231.2 195.3L235.7 196.7L231.2 197.8L226.8 196.5ZM226.8 196.5L231.2 197.8L226.8 199.0L222.3 197.7ZM222.3 197.7L226.8 199.0L222.3 200.3L217.8 198.9ZM217.8 198.9L222.3 200.3L217.8 201.6L213.4 200.2ZM213.4 200.2L217.8 201.6L213.4 203.0L208.9 201.6ZM284.8 183.4L289.2 184.8L284.8 186.1L280.3 184.7ZM280.3 184.7L284.8 186.1L280.3 187.3L275.8 186.0ZM275.8 186.0L280.3 187.3L275.9 188.5L271.4 187.2ZM271.4 187.2L275.9 188.5L271.4 189.8L266.9 188.4ZM266.9 188.4L271.4 189.8L266.9 191.0L262.5 189.6ZM262.5 189.6L266.9 191.0L262.5 192.2L258.0 190.8ZM258.0 190.8L262.5 192.2L258.0 193.4L253.5 192.0ZM253.5 192.0L258.0 193.4L253.5 194.5L249.1 193.1ZM249.1 193.1L253.5 194.5L249.1 195.7L244.6 194.3ZM244.6 194.3L249.1 195.7L244.6 196.8L240.1 195.5ZM240.1 195.5L244.6 196.8L240.2 198.0L235.7 196.7ZM235.7 196.7L240.2 198.0L235.7 199.2L231.2 197.8ZM231.2 197.8L235.7 199.2L231.2 200.4L226.8 199.0ZM226.8 199.0L231.2 200.4L226.8 201.7L222.3 200.3ZM222.3 200.3L226.8 201.7L222.3 203.0L217.8 201.6ZM293.7 183.5L298.2 184.9L293.7 186.2L289.2 184.8ZM289.2 184.8L293.7 186.2L289.2 187.5L284.8 186.1ZM284.8 186.1L289.2 187.5L284.8 188.7L280.3 187.3ZM280.3 187.3L284.8 188.7L280.3 189.9L275.9 188.5ZM275.9 188.5L280.3 189.9L275.9 191.1L271.4 189.8ZM271.4 189.8L275.9 191.1L271.4 192.4L266.9 191.0ZM266.9 191.0L271.4 192.4L266.9 193.6L262.5 192.2ZM262.5 192.2L266.9 193.6L262.5 194.7L258.0 193.4ZM258.0 193.4L262.5 194.7L258.0 195.9L253.5 194.5ZM253.5 194.5L258.0 195.9L253.6 197.0L249.1 195.7ZM249.1 195.7L253.6 197.0L249.1 198.1L244.6 196.8ZM244.6 196.8L249.1 198.1L244.6 199.3L240.2 198.0ZM240.2 198.0L244.6 199.3L240.2 200.5L235.7 199.2ZM235.7 199.2L240.2 200.5L235.7 201.7L231.2 200.4ZM302.6 183.5L307.1 184.9L302.6 186.2L298.2 184.9ZM298.2 184.9L302.6 186.2L298.2 187.5L293.7 186.2ZM293.7 186.2L298.2 187.5L293.7 188.8L289.2 187.5ZM289.2 187.5L293.7 188.8L289.3 190.0L284.8 188.7ZM284.8 188.7L289.3 190.0L284.8 191.3L280.3 189.9ZM280.3 189.9L284.8 191.3L280.3 192.5L275.9 191.1ZM275.9 191.1L280.3 192.5L275.9 193.7L271.4 192.4ZM271.4 192.4L275.9 193.7L271.4 194.9L266.9 193.6ZM266.9 193.6L271.4 194.9L266.9 196.1L262.5 194.7ZM262.5 194.7L266.9 196.1L262.5 197.2L258.0 195.9ZM258.0 195.9L262.5 197.2L258.0 198.3L253.6 197.0ZM253.6 197.0L258.0 198.3L253.6 199.4L249.1 198.1ZM249.1 198.1L253.6 199.4L249.1 200.6L244.6 199.3ZM311.6 183.5L316.0 184.9L311.6 186.3L307.1 184.9ZM307.1 184.9L311.6 186.3L307.1 187.6L302.6 186.2ZM302.6 186.2L307.1 187.6L302.7 188.9L298.2 187.5ZM298.2 187.5L302.7 188.9L298.2 190.2L293.7 188.8ZM293.7 188.8L298.2 190.2L293.7 191.4L289.3 190.0ZM289.3 190.0L293.7 191.4L289.3 192.6L284.8 191.3ZM284.8 191.3L289.3 192.6L284.8 193.9L280.3 192.5ZM280.3 192.5L284.8 193.9L280.3 195.1L275.9 193.7ZM275.9 193.7L280.3 195.1L275.9 196.3L271.4 194.9ZM320.5 183.4L325.0 185.0L320.5 186.3L316.0 184.9ZM316.0 184.9L320.5 186.3L316.1 187.7L311.6 186.3ZM311.6 186.3L316.1 187.7L311.6 189.0L307.1 187.6ZM307.1 187.6L311.6 189.0L307.1 190.3L302.7 188.9ZM302.7 188.9L307.1 190.3L302.7 191.6L298.2 190.2ZM298.2 190.2L302.7 191.6L298.2 192.8L293.7 191.4ZM293.7 191.4L298.2 192.8L293.7 194.0L289.3 192.6ZM289.3 192.6L293.7 194.0L289.3 195.2L284.8 193.9ZM329.4 183.4L333.9 184.9L329.4 186.4L325.0 185.0ZM325.0 185.0L329.4 186.4L325.0 187.7L320.5 186.3ZM320.5 186.3L325.0 187.7L320.5 189.0L316.1 187.7ZM316.1 187.7L320.5 189.0L316.1 190.3L311.6 189.0ZM311.6 189.0L316.1 190.3L311.6 191.6L307.1 190.3ZM307.1 190.3L311.6 191.6L307.1 192.9L302.7 191.6ZM333.9 184.9L338.4 186.2L333.9 187.6L329.4 186.4ZM329.4 186.4L333.9 187.6L329.5 188.9L325.0 187.7ZM325.0 187.7L329.5 188.9L325.0 190.2L320.5 189.0ZM320.5 189.0L325.0 190.2L320.5 191.5L316.1 190.3ZM316.1 190.3L320.5 191.5L316.1 192.8L311.6 191.6ZM342.8 184.7L347.3 186.0L342.9 187.5L338.4 186.2ZM338.4 186.2L342.9 187.5L338.4 188.9L333.9 187.6ZM333.9 187.6L338.4 188.9L333.9 190.2L329.5 188.9ZM329.5 188.9L333.9 190.2L329.5 191.5L325.0 190.2ZM325.0 190.2L329.5 191.5L325.0 192.8L320.5 191.5ZM320.5 191.5L325.0 192.8L320.5 194.1L316.1 192.8ZM347.3 186.0L351.8 187.5L347.3 188.8L342.9 187.5ZM342.9 187.5L347.3 188.8L342.9 190.2L338.4 188.9ZM338.4 188.9L342.9 190.2L338.4 191.5L333.9 190.2ZM333.9 190.2L338.4 191.5L333.9 192.8L329.5 191.5ZM329.5 191.5L333.9 192.8L329.5 194.1L325.0 192.8ZM356.2 185.9L360.7 187.3L356.3 188.8L351.8 187.5ZM351.8 187.5L356.3 188.8L351.8 190.2L347.3 188.8ZM347.3 188.8L351.8 190.2L347.3 191.5L342.9 190.2ZM342.9 190.2L347.3 191.5L342.9 192.8L338.4 191.5ZM338.4 191.5L342.9 192.8L338.4 194.1L333.9 192.8ZM365.2 185.7L369.7 187.1L365.2 188.7L360.7 187.3ZM360.7 187.3L365.2 188.7L360.7 190.0L356.3 188.8ZM356.3 188.8L360.7 190.0L356.3 191.4L351.8 190.2ZM351.8 190.2L356.3 191.4L351.8 192.7L347.3 191.5ZM347.3 191.5L351.8 192.7L347.3 194.0L342.9 192.8ZM369.7 187.1L374.1 188.5L369.7 189.9L365.2 188.7ZM365.2 188.7L369.7 189.9L365.2 191.3L360.7 190.0ZM360.7 190.0L365.2 191.3L360.7 192.7L356.3 191.4ZM356.3 191.4L360.7 192.7L356.3 194.0L351.8 192.7ZM378.6 186.8L383.1 188.2L378.6 189.8L374.1 188.5ZM374.1 188.5L378.6 189.8L374.1 191.2L369.7 189.9ZM369.7 189.9L374.1 191.2L369.7 192.6L365.2 191.3ZM365.2 191.3L369.7 192.6L365.2 193.9L360.7 192.7ZM360.7 192.7L365.2 193.9L360.8 195.3L356.3 194.0ZM383.1 188.2L387.5 189.6L383.1 191.1L378.6 189.8ZM378.6 189.8L383.1 191.1L378.6 192.5L374.1 191.2ZM374.1 191.2L378.6 192.5L374.1 193.9L369.7 192.6ZM369.7 192.6L374.1 193.9L369.7 195.2L365.2 193.9ZM298.3 210.4L302.8 211.3L298.3 212.3L293.8 211.5ZM293.8 211.5L298.3 212.3L293.8 213.4L289.4 212.6ZM289.4 212.6L293.8 213.4L289.4 214.6L284.9 213.8ZM392.0 187.8L396.5 189.2L392.0 191.0L387.5 189.6ZM387.5 189.6L392.0 191.0L387.5 192.4L383.1 191.1ZM383.1 191.1L387.5 192.4L383.1 193.8L378.6 192.5ZM378.6 192.5L383.1 193.8L378.6 195.2L374.1 193.9ZM307.2 210.3L311.7 211.2L307.2 212.1L302.8 211.3ZM302.8 211.3L307.2 212.1L302.8 213.1L298.3 212.3ZM298.3 212.3L302.8 213.1L298.3 214.2L293.8 213.4ZM293.8 213.4L298.3 214.2L293.8 215.4L289.4 214.6ZM289.4 214.6L293.8 215.4L289.4 216.6L284.9 215.8ZM284.9 215.8L289.4 216.6L284.9 217.8L280.4 217.2ZM396.5 189.2L400.9 190.6L396.5 192.2L392.0 191.0ZM392.0 191.0L396.5 192.2L392.0 193.7L387.5 192.4ZM387.5 192.4L392.0 193.7L387.6 195.0L383.1 193.8ZM383.1 193.8L387.6 195.0L383.1 196.4L378.6 195.2ZM316.2 210.3L320.6 211.2L316.2 212.0L311.7 211.2ZM311.7 211.2L316.2 212.0L311.7 212.8L307.2 212.1ZM307.2 212.1L311.7 212.8L307.2 213.8L302.8 213.1ZM302.8 213.1L307.2 213.8L302.8 214.8L298.3 214.2ZM298.3 214.2L302.8 214.8L298.3 216.0L293.8 215.4ZM293.8 215.4L298.3 216.0L293.9 217.1L289.4 216.6ZM289.4 216.6L293.9 217.1L289.4 218.2L284.9 217.8ZM284.9 217.8L289.4 218.2L284.9 219.4L280.5 219.0ZM280.5 219.0L284.9 219.4L280.5 220.6L276.0 220.3ZM276.0 220.3L280.5 220.6L276.0 221.9L271.5 221.5ZM271.5 221.5L276.0 221.9L271.5 223.1L267.1 222.8ZM400.9 190.6L405.4 191.9L400.9 193.5L396.5 192.2ZM396.5 192.2L400.9 193.5L396.5 194.9L392.0 193.7ZM392.0 193.7L396.5 194.9L392.0 196.3L387.6 195.0ZM325.1 210.3L329.6 211.2L325.1 211.9L320.6 211.2ZM320.6 211.2L325.1 211.9L320.6 212.7L316.2 212.0ZM316.2 212.0L320.6 212.7L316.2 213.5L311.7 212.8ZM311.7 212.8L316.2 213.5L311.7 214.4L307.2 213.8ZM307.2 213.8L311.7 214.4L307.2 215.4L302.8 214.8ZM302.8 214.8L307.2 215.4L302.8 216.5L298.3 216.0ZM298.3 216.0L302.8 216.5L298.3 217.4L293.9 217.1ZM293.9 217.1L298.3 217.4L293.9 218.5L289.4 218.2ZM289.4 218.2L293.9 218.5L289.4 219.8L284.9 219.4ZM284.9 219.4L289.4 219.8L284.9 221.0L280.5 220.6ZM280.5 220.6L284.9 221.0L280.5 222.3L276.0 221.9ZM276.0 221.9L280.5 222.3L276.0 223.5L271.5 223.1ZM271.5 223.1L276.0 223.5L271.6 224.6L267.1 224.2ZM267.1 224.2L271.6 224.6L267.1 225.6L262.6 225.3ZM262.6 225.3L267.1 225.6L262.6 226.6L258.2 226.5ZM409.9 190.2L414.3 191.5L409.9 193.1L405.4 191.9ZM405.4 191.9L409.9 193.1L405.4 194.7L400.9 193.5ZM400.9 193.5L405.4 194.7L401.0 196.2L396.5 194.9ZM396.5 194.9L401.0 196.2L396.5 197.6L392.0 196.3ZM334.0 210.4L338.5 211.4L334.0 212.1L329.6 211.2ZM329.6 211.2L334.0 212.1L329.6 212.7L325.1 211.9ZM325.1 211.9L329.6 212.7L325.1 213.4L320.6 212.7ZM320.6 212.7L325.1 213.4L320.6 214.1L316.2 213.5ZM316.2 213.5L320.6 214.1L316.2 215.0L311.7 214.4ZM280.5 222.3L284.9 222.7L280.5 224.0L276.0 223.5ZM276.0 223.5L280.5 224.0L276.0 224.9L271.6 224.6ZM271.6 224.6L276.0 224.9L271.6 225.8L267.1 225.6ZM267.1 225.6L271.6 225.8L267.1 226.7L262.6 226.6Z" fill="#4332cb" stroke="#4332cb" stroke-width="0.9" stroke-linejoin="round"/>
<path d="M186.6 202.6L191.0 204.2L186.6 205.5L182.1 203.9ZM182.1 203.9L186.6 205.5L182.1 206.8L177.7 205.2ZM177.7 205.2L182.1 206.8L177.7 208.1L173.2 206.5ZM200.0 201.5L204.4 202.9L200.0 204.3L195.5 202.8ZM195.5 202.8L200.0 204.3L195.5 205.7L191.0 204.2ZM191.0 204.2L195.5 205.7L191.1 207.0L186.6 205.5ZM186.6 205.5L191.1 207.0L186.6 208.3L182.1 206.8ZM182.1 206.8L186.6 208.3L182.1 209.6L177.7 208.1ZM208.9 201.6L213.4 203.0L208.9 204.4L204.4 202.9ZM204.4 202.9L208.9 204.4L204.5 205.8L200.0 204.3ZM200.0 204.3L204.5 205.8L200.0 207.2L195.5 205.7ZM195.5 205.7L200.0 207.2L195.5 208.5L191.1 207.0ZM191.1 207.0L195.5 208.5L191.1 209.9L186.6 208.3ZM186.6 208.3L191.1 209.9L186.6 211.2L182.1 209.6ZM217.8 201.6L222.3 203.0L217.8 204.4L213.4 203.0ZM213.4 203.0L217.8 204.4L213.4 205.8L208.9 204.4ZM208.9 204.4L213.4 205.8L208.9 207.3L204.5 205.8ZM204.5 205.8L208.9 207.3L204.5 208.7L200.0 207.2ZM200.0 207.2L204.5 208.7L200.0 210.1L195.5 208.5ZM195.5 208.5L200.0 210.1L195.5 211.4L191.1 209.9ZM231.2 200.4L235.7 201.7L231.2 203.0L226.8 201.7ZM226.8 201.7L231.2 203.0L226.8 204.4L222.3 203.0ZM222.3 203.0L226.8 204.4L222.3 205.8L217.8 204.4ZM217.8 204.4L222.3 205.8L217.9 207.3L213.4 205.8ZM213.4 205.8L217.9 207.3L213.4 208.7L208.9 207.3ZM208.9 207.3L213.4 208.7L208.9 210.2L204.5 208.7ZM244.6 199.3L249.1 200.6L244.6 201.8L240.2 200.5ZM240.2 200.5L244.6 201.8L240.2 203.1L235.7 201.7ZM235.7 201.7L240.2 203.1L235.7 204.4L231.2 203.0ZM231.2 203.0L235.7 204.4L231.3 205.7L226.8 204.4ZM226.8 204.4L231.3 205.7L226.8 207.2L222.3 205.8ZM222.3 205.8L226.8 207.2L222.3 208.7L217.9 207.3ZM217.9 207.3L222.3 208.7L217.9 210.1L213.4 208.7ZM271.4 194.9L275.9 196.3L271.4 197.4L266.9 196.1ZM266.9 196.1L271.4 197.4L267.0 198.5L262.5 197.2ZM262.5 197.2L267.0 198.5L262.5 199.6L258.0 198.3ZM258.0 198.3L262.5 199.6L258.0 200.7L253.6 199.4ZM253.6 199.4L258.0 200.7L253.6 201.9L249.1 200.6ZM249.1 200.6L253.6 201.9L249.1 203.1L244.6 201.8ZM244.6 201.8L249.1 203.1L244.6 204.4L240.2 203.1ZM240.2 203.1L244.6 204.4L240.2 205.7L235.7 204.4ZM235.7 204.4L240.2 205.7L235.7 207.1L231.3 205.7ZM231.3 205.7L235.7 207.1L231.3 208.5L226.8 207.2ZM226.8 207.2L231.3 208.5L226.8 210.0L222.3 208.7ZM284.8 193.9L289.3 195.2L284.8 196.5L280.3 195.1ZM280.3 195.1L284.8 196.5L280.4 197.6L275.9 196.3ZM275.9 196.3L280.4 197.6L275.9 198.7L271.4 197.4ZM271.4 197.4L275.9 198.7L271.4 199.8L267.0 198.5ZM267.0 198.5L271.4 199.8L267.0 200.9L262.5 199.6ZM262.5 199.6L267.0 200.9L262.5 202.0L258.0 200.7ZM258.0 200.7L262.5 202.0L258.0 203.2L253.6 201.9ZM253.6 201.9L258.0 203.2L253.6 204.4L249.1 203.1ZM249.1 203.1L253.6 204.4L249.1 205.7L244.6 204.4ZM244.6 204.4L249.1 205.7L244.7 207.0L240.2 205.7ZM240.2 205.7L244.7 207.0L240.2 208.4L235.7 207.1ZM235.7 207.1L240.2 208.4L235.7 209.9L231.3 208.5ZM231.3 208.5L235.7 209.9L231.3 211.3L226.8 210.0ZM302.7 191.6L307.1 192.9L302.7 194.1L298.2 192.8ZM298.2 192.8L302.7 194.1L298.2 195.3L293.7 194.0ZM293.7 194.0L298.2 195.3L293.8 196.5L289.3 195.2ZM289.3 195.2L293.8 196.5L289.3 197.7L284.8 196.5ZM284.8 196.5L289.3 197.7L284.8 198.8L280.4 197.6ZM280.4 197.6L284.8 198.8L280.4 199.9L275.9 198.7ZM275.9 198.7L280.4 199.9L275.9 201.0L271.4 199.8ZM271.4 199.8L275.9 201.0L271.4 202.1L267.0 200.9ZM267.0 200.9L271.4 202.1L267.0 203.2L262.5 202.0ZM262.5 202.0L267.0 203.2L262.5 204.4L258.0 203.2ZM258.0 203.2L262.5 204.4L258.1 205.6L253.6 204.4ZM253.6 204.4L258.1 205.6L253.6 206.9L249.1 205.7ZM249.1 205.7L253.6 206.9L249.1 208.2L244.7 207.0ZM244.7 207.0L249.1 208.2L244.7 209.6L240.2 208.4ZM240.2 208.4L244.7 209.6L240.2 211.0L235.7 209.9ZM311.6 191.6L316.1 192.8L311.6 194.1L307.1 192.9ZM307.1 192.9L311.6 194.1L307.1 195.3L302.7 194.1ZM302.7 194.1L307.1 195.3L302.7 196.5L298.2 195.3ZM298.2 195.3L302.7 196.5L298.2 197.7L293.8 196.5ZM293.8 196.5L298.2 197.7L293.8 198.8L289.3 197.7ZM289.3 197.7L293.8 198.8L289.3 199.9L284.8 198.8ZM284.8 198.8L289.3 199.9L284.8 201.0L280.4 199.9ZM280.4 199.9L284.8 201.0L280.4 202.1L275.9 201.0ZM275.9 201.0L280.4 202.1L275.9 203.2L271.4 202.1ZM271.4 202.1L275.9 203.2L271.5 204.3L267.0 203.2ZM267.0 203.2L271.5 204.3L267.0 205.5L262.5 204.4ZM262.5 204.4L267.0 205.5L262.5 206.7L258.1 205.6ZM258.1 205.6L262.5 206.7L258.1 208.0L253.6 206.9ZM253.6 206.9L258.1 208.0L253.6 209.3L249.1 208.2ZM249.1 208.2L253.6 209.3L249.1 210.6L244.7 209.6ZM244.7 209.6L249.1 210.6L244.7 212.1L240.2 211.0ZM316.1 192.8L320.5 194.1L316.1 195.3L311.6 194.1ZM311.6 194.1L316.1 195.3L311.6 196.5L307.1 195.3ZM307.1 195.3L311.6 196.5L307.2 197.7L302.7 196.5ZM302.7 196.5L307.2 197.7L302.7 198.8L298.2 197.7ZM298.2 197.7L302.7 198.8L298.2 199.9L293.8 198.8ZM293.8 198.8L298.2 199.9L293.8 201.0L289.3 199.9ZM289.3 199.9L293.8 201.0L289.3 202.1L284.8 201.0ZM284.8 201.0L289.3 202.1L284.8 203.2L280.4 202.1ZM280.4 202.1L284.8 203.2L280.4 204.3L275.9 203.2ZM275.9 203.2L280.4 204.3L275.9 205.4L271.5 204.3ZM271.5 204.3L275.9 205.4L271.5 206.6L267.0 205.5ZM267.0 205.5L271.5 206.6L267.0 207.8L262.5 206.7ZM262.5 206.7L267.0 207.8L262.5 209.0L258.1 208.0ZM258.1 208.0L262.5 209.0L258.1 210.3L253.6 209.3ZM253.6 209.3L258.1 210.3L253.6 211.7L249.1 210.6ZM249.1 210.6L253.6 211.7L249.2 213.1L244.7 212.1ZM325.0 192.8L329.5 194.1L325.0 195.3L320.5 194.1ZM320.5 194.1L325.0 195.3L320.6 196.6L316.1 195.3ZM316.1 195.3L320.6 196.6L316.1 197.8L311.6 196.5ZM311.6 196.5L316.1 197.8L311.6 198.9L307.2 197.7ZM307.2 197.7L311.6 198.9L307.2 200.0L302.7 198.8ZM302.7 198.8L307.2 200.0L302.7 201.1L298.2 199.9ZM298.2 199.9L302.7 201.1L298.2 202.2L293.8 201.0ZM293.8 201.0L298.2 202.2L293.8 203.3L289.3 202.1ZM289.3 202.1L293.8 203.3L289.3 204.3L284.8 203.2ZM284.8 203.2L289.3 204.3L284.9 205.4L280.4 204.3ZM280.4 204.3L284.9 205.4L280.4 206.5L275.9 205.4ZM275.9 205.4L280.4 206.5L275.9 207.7L271.5 206.6ZM271.5 206.6L275.9 207.7L271.5 208.8L267.0 207.8ZM267.0 207.8L271.5 208.8L267.0 210.1L262.5 209.0ZM262.5 209.0L267.0 210.1L262.5 211.4L258.1 210.3ZM258.1 210.3L262.5 211.4L258.1 212.7L253.6 211.7ZM253.6 211.7L258.1 212.7L253.6 214.2L249.2 213.1ZM333.9 192.8L338.4 194.1L333.9 195.4L329.5 194.1ZM329.5 194.1L333.9 195.4L329.5 196.7L325.0 195.3ZM325.0 195.3L329.5 196.7L325.0 197.9L320.6 196.6ZM320.6 196.6L325.0 197.9L320.6 199.0L316.1 197.8ZM316.1 197.8L320.6 199.0L316.1 200.1L311.6 198.9ZM311.6 198.9L316.1 200.1L311.6 201.2L307.2 200.0ZM307.2 200.0L311.6 201.2L307.2 202.3L302.7 201.1ZM302.7 201.1L307.2 202.3L302.7 203.4L298.2 202.2ZM298.2 202.2L302.7 203.4L298.3 204.4L293.8 203.3ZM293.8 203.3L298.3 204.4L293.8 205.5L289.3 204.3ZM289.3 204.3L293.8 205.5L289.3 206.5L284.9 205.4ZM284.9 205.4L289.3 206.5L284.9 207.6L280.4 206.5ZM280.4 206.5L284.9 207.6L280.4 208.7L275.9 207.7ZM275.9 207.7L280.4 208.7L275.9 209.9L271.5 208.8ZM271.5 208.8L275.9 209.9L271.5 211.1L267.0 210.1ZM267.0 210.1L271.5 211.1L267.0 212.4L262.5 211.4ZM262.5 211.4L267.0 212.4L262.6 213.8L258.1 212.7ZM258.1 212.7L262.6 213.8L258.1 215.2L253.6 214.2ZM253.6 214.2L258.1 215.2L253.6 216.7L249.2 215.7ZM342.9 192.8L347.3 194.0L342.9 195.3L338.4 194.1ZM338.4 194.1L342.9 195.3L338.4 196.6L333.9 195.4ZM333.9 195.4L338.4 196.6L334.0 197.9L329.5 196.7ZM329.5 196.7L334.0 197.9L329.5 199.1L325.0 197.9ZM325.0 197.9L329.5 199.1L325.0 200.1L320.6 199.0ZM320.6 199.0L325.0 200.1L320.6 201.2L316.1 200.1ZM316.1 200.1L320.6 201.2L316.1 202.3L311.6 201.2ZM311.6 201.2L316.1 202.3L311.6 203.4L307.2 202.3ZM307.2 202.3L311.6 203.4L307.2 204.4L302.7 203.4ZM302.7 203.4L307.2 204.4L302.7 205.5L298.3 204.4ZM298.3 204.4L302.7 205.5L298.3 206.5L293.8 205.5ZM293.8 205.5L298.3 206.5L293.8 207.5L289.3 206.5ZM289.3 206.5L293.8 207.5L289.3 208.6L284.9 207.6ZM284.9 207.6L289.3 208.6L284.9 209.7L280.4 208.7ZM280.4 208.7L284.9 209.7L280.4 210.8L275.9 209.9ZM275.9 209.9L280.4 210.8L276.0 212.0L271.5 211.1ZM271.5 211.1L276.0 212.0L271.5 213.3L267.0 212.4ZM267.0 212.4L271.5 213.3L267.0 214.7L262.6 213.8ZM262.6 213.8L267.0 214.7L262.6 216.1L258.1 215.2ZM258.1 215.2L262.6 216.1L258.1 217.6L253.6 216.7ZM351.8 192.7L356.3 194.0L351.8 195.3L347.3 194.0ZM347.3 194.0L351.8 195.3L347.4 196.6L342.9 195.3ZM342.9 195.3L347.4 196.6L342.9 197.8L338.4 196.6ZM338.4 196.6L342.9 197.8L338.4 199.1L334.0 197.9ZM334.0 197.9L338.4 199.1L334.0 200.2L329.5 199.1ZM329.5 199.1L334.0 200.2L329.5 201.3L325.0 200.1ZM325.0 200.1L329.5 201.3L325.0 202.3L320.6 201.2ZM320.6 201.2L325.0 202.3L320.6 203.4L316.1 202.3ZM316.1 202.3L320.6 203.4L316.1 204.5L311.6 203.4ZM311.6 203.4L316.1 204.5L311.7 205.5L307.2 204.4ZM307.2 204.4L311.7 205.5L307.2 206.5L302.7 205.5ZM302.7 205.5L307.2 206.5L302.7 207.5L298.3 206.5ZM298.3 206.5L302.7 207.5L298.3 208.5L293.8 207.5ZM293.8 207.5L298.3 208.5L293.8 209.5L289.3 208.6ZM289.3 208.6L293.8 209.5L289.3 210.6L284.9 209.7ZM284.9 209.7L289.3 210.6L284.9 211.7L280.4 210.8ZM280.4 210.8L284.9 211.7L280.4 212.9L276.0 212.0ZM276.0 212.0L280.4 212.9L276.0 214.2L271.5 213.3ZM271.5 213.3L276.0 214.2L271.5 215.5L267.0 214.7ZM267.0 214.7L271.5 215.5L267.0 217.0L262.6 216.1ZM262.6 216.1L267.0 217.0L262.6 218.5L258.1 217.6ZM356.3 194.0L360.8 195.3L356.3 196.5L351.8 195.3ZM351.8 195.3L356.3 196.5L351.8 197.8L347.4 196.6ZM347.4 196.6L351.8 197.8L347.4 199.1L342.9 197.8ZM342.9 197.8L347.4 199.1L342.9 200.2L338.4 199.1ZM338.4 199.1L342.9 200.2L338.4 201.3L334.0 200.2ZM334.0 200.2L338.4 201.3L334.0 202.4L329.5 201.3ZM329.5 201.3L334.0 202.4L329.5 203.4L325.0 202.3ZM325.0 202.3L329.5 203.4L325.1 204.5L320.6 203.4ZM320.6 203.4L325.1 204.5L320.6 205.5L316.1 204.5ZM316.1 204.5L320.6 205.5L316.1 206.5L311.7 205.5ZM311.7 205.5L316.1 206.5L311.7 207.5L307.2 206.5ZM307.2 206.5L311.7 207.5L307.2 208.5L302.7 207.5ZM302.7 207.5L307.2 208.5L302.7 209.4L298.3 208.5ZM298.3 208.5L302.7 209.4L298.3 210.4L293.8 209.5ZM293.8 209.5L298.3 210.4L293.8 211.5L289.3 210.6ZM289.3 210.6L293.8 211.5L289.4 212.6L284.9 211.7ZM284.9 211.7L289.4 212.6L284.9 213.8L280.4 212.9ZM280.4 212.9L284.9 213.8L280.4 215.0L276.0 214.2ZM276.0 214.2L280.4 215.0L276.0 216.4L271.5 215.5ZM271.5 215.5L276.0 216.4L271.5 217.8L267.0 217.0ZM267.0 217.0L271.5 217.8L267.1 219.2L262.6 218.5ZM262.6 218.5L267.1 219.2L262.6 220.4L258.1 219.8ZM365.2 193.9L369.7 195.2L365.2 196.5L360.8 195.3ZM360.8 195.3L365.2 196.5L360.8 197.8L356.3 196.5ZM356.3 196.5L360.8 197.8L356.3 199.1L351.8 197.8ZM351.8 197.8L356.3 199.1L351.8 200.3L347.4 199.1ZM347.4 199.1L351.8 200.3L347.4 201.4L342.9 200.2ZM342.9 200.2L347.4 201.4L342.9 202.5L338.4 201.3ZM338.4 201.3L342.9 202.5L338.5 203.5L334.0 202.4ZM334.0 202.4L338.5 203.5L334.0 204.6L329.5 203.4ZM329.5 203.4L334.0 204.6L329.5 205.6L325.1 204.5ZM325.1 204.5L329.5 205.6L325.1 206.6L320.6 205.5ZM320.6 205.5L325.1 206.6L320.6 207.6L316.1 206.5ZM316.1 206.5L320.6 207.6L316.1 208.5L311.7 207.5ZM311.7 207.5L316.1 208.5L311.7 209.4L307.2 208.5ZM307.2 208.5L311.7 209.4L307.2 210.3L302.7 209.4ZM302.7 209.4L307.2 210.3L302.8 211.3L298.3 210.4ZM284.9 213.8L289.4 214.6L284.9 215.8L280.4 215.0ZM280.4 215.0L284.9 215.8L280.4 217.2L276.0 216.4ZM276.0 216.4L280.4 217.2L276.0 218.5L271.5 217.8ZM271.5 217.8L276.0 218.5L271.5 219.7L267.1 219.2ZM267.1 219.2L271.5 219.7L267.1 221.0L262.6 220.4ZM262.6 220.4L267.1 221.0L262.6 222.2L258.1 221.7ZM258.1 221.7L262.6 222.2L258.1 223.4L253.7 222.9ZM253.7 222.9L258.1 223.4L253.7 224.6L249.2 224.1ZM249.2 224.1L253.7 224.6L249.2 225.9L244.7 225.3ZM374.1 193.9L378.6 195.2L374.2 196.5L369.7 195.2ZM369.7 195.2L374.2 196.5L369.7 197.8L365.2 196.5ZM365.2 196.5L369.7 197.8L365.2 199.1L360.8 197.8ZM360.8 197.8L365.2 199.1L360.8 200.3L356.3 199.1ZM356.3 199.1L360.8 200.3L356.3 201.5L351.8 200.3ZM351.8 200.3L356.3 201.5L351.8 202.6L347.4 201.4ZM347.4 201.4L351.8 202.6L347.4 203.7L342.9 202.5ZM342.9 202.5L347.4 203.7L342.9 204.7L338.5 203.5ZM338.5 203.5L342.9 204.7L338.5 205.7L334.0 204.6ZM334.0 204.6L338.5 205.7L334.0 206.7L329.5 205.6ZM329.5 205.6L334.0 206.7L329.5 207.7L325.1 206.6ZM325.1 206.6L329.5 207.7L325.1 208.6L320.6 207.6ZM320.6 207.6L325.1 208.6L320.6 209.5L316.1 208.5ZM316.1 208.5L320.6 209.5L316.2 210.3L311.7 209.4ZM311.7 209.4L316.2 210.3L311.7 211.2L307.2 210.3ZM280.4 217.2L284.9 217.8L280.5 219.0L276.0 218.5ZM276.0 218.5L280.5 219.0L276.0 220.3L271.5 219.7ZM271.5 219.7L276.0 220.3L271.5 221.5L267.1 221.0ZM267.1 221.0L271.5 221.5L267.1 222.8L262.6 222.2ZM262.6 222.2L267.1 222.8L262.6 223.9L258.1 223.4ZM258.1 223.4L262.6 223.9L258.1 225.1L253.7 224.6ZM253.7 224.6L258.1 225.1L253.7 226.4L249.2 225.9ZM378.6 195.2L383.1 196.4L378.6 197.7L374.2 196.5ZM374.2 196.5L378.6 197.7L374.2 199.0L369.7 197.8ZM369.7 197.8L374.2 199.0L369.7 200.3L365.2 199.1ZM365.2 199.1L369.7 200.3L365.2 201.5L360.8 200.3ZM360.8 200.3L365.2 201.5L360.8 202.6L356.3 201.5ZM356.3 201.5L360.8 202.6L356.3 203.7L351.8 202.6ZM351.8 202.6L356.3 203.7L351.9 204.8L347.4 203.7ZM347.4 203.7L351.9 204.8L347.4 205.8L342.9 204.7ZM342.9 204.7L347.4 205.8L342.9 206.7L338.5 205.7ZM338.5 205.7L342.9 206.7L338.5 207.7L334.0 206.7ZM334.0 206.7L338.5 207.7L334.0 208.6L329.5 207.7ZM329.5 207.7L334.0 208.6L329.5 209.5L325.1 208.6ZM325.1 208.6L329.5 209.5L325.1 210.3L320.6 209.5ZM320.6 209.5L325.1 210.3L320.6 211.2L316.2 210.3ZM267.1 222.8L271.5 223.1L267.1 224.2L262.6 223.9ZM262.6 223.9L267.1 224.2L262.6 225.3L258.1 225.1ZM258.1 225.1L262.6 225.3L258.2 226.5L253.7 226.4ZM387.6 195.0L392.0 196.3L387.6 197.6L383.1 196.4ZM383.1 196.4L387.6 197.6L383.1 199.0L378.6 197.7ZM378.6 197.7L383.1 199.0L378.6 200.3L374.2 199.0ZM374.2 199.0L378.6 200.3L374.2 201.5L369.7 200.3ZM369.7 200.3L374.2 201.5L369.7 202.6L365.2 201.5ZM365.2 201.5L369.7 202.6L365.3 203.7L360.8 202.6ZM360.8 202.6L365.3 203.7L360.8 204.8L356.3 203.7ZM356.3 203.7L360.8 204.8L356.3 205.9L351.9 204.8ZM351.9 204.8L356.3 205.9L351.9 206.9L347.4 205.8ZM347.4 205.8L351.9 206.9L347.4 207.8L342.9 206.7ZM342.9 206.7L347.4 207.8L342.9 208.7L338.5 207.7ZM338.5 207.7L342.9 208.7L338.5 209.6L334.0 208.6ZM334.0 208.6L338.5 209.6L334.0 210.4L329.5 209.5ZM329.5 209.5L334.0 210.4L329.6 211.2L325.1 210.3ZM392.0 196.3L396.5 197.6L392.0 198.9L387.6 197.6ZM387.6 197.6L392.0 198.9L387.6 200.2L383.1 199.0ZM383.1 199.0L387.6 200.2L383.1 201.5L378.6 200.3ZM378.6 200.3L383.1 201.5L378.6 202.7L374.2 201.5ZM374.2 201.5L378.6 202.7L374.2 203.8L369.7 202.6ZM369.7 202.6L374.2 203.8L369.7 204.9L365.3 203.7ZM365.3 203.7L369.7 204.9L365.3 206.0L360.8 204.8ZM360.8 204.8L365.3 206.0L360.8 207.1L356.3 205.9ZM356.3 205.9L360.8 207.1L356.3 208.0L351.9 206.9ZM351.9 206.9L356.3 208.0L351.9 208.9L347.4 207.8ZM347.4 207.8L351.9 208.9L347.4 209.7L342.9 208.7ZM342.9 208.7L347.4 209.7L343.0 210.6L338.5 209.6ZM338.5 209.6L343.0 210.6L338.5 211.4L334.0 210.4Z" fill="#422ec0" stroke="#422ec0" stroke-width="0.9" stroke-linejoin="round"/>
<path d="M191.1 209.9L195.5 211.4L191.1 212.7L186.6 211.2ZM204.5 208.7L208.9 210.2L204.5 211.5L200.0 210.1ZM200.0 210.1L204.5 211.5L200.0 212.9L195.5 211.4ZM195.5 211.4L200.0 212.9L195.5 214.3L191.1 212.7ZM213.4 208.7L217.9 210.1L213.4 211.6L208.9 210.2ZM208.9 210.2L213.4 211.6L208.9 213.0L204.5 211.5ZM204.5 211.5L208.9 213.0L204.5 214.4L200.0 212.9ZM200.0 212.9L204.5 214.4L200.0 215.9L195.5 214.3ZM222.3 208.7L226.8 210.0L222.3 211.5L217.9 210.1ZM217.9 210.1L222.3 211.5L217.9 213.0L213.4 211.6ZM213.4 211.6L217.9 213.0L213.4 214.4L208.9 213.0ZM208.9 213.0L213.4 214.4L209.0 215.9L204.5 214.4ZM204.5 214.4L209.0 215.9L204.5 217.4L200.0 215.9ZM226.8 210.0L231.3 211.3L226.8 212.8L222.3 211.5ZM222.3 211.5L226.8 212.8L222.3 214.4L217.9 213.0ZM217.9 213.0L222.3 214.4L217.9 215.8L213.4 214.4ZM213.4 214.4L217.9 215.8L213.4 217.3L209.0 215.9ZM235.7 209.9L240.2 211.0L235.7 212.5L231.3 211.3ZM231.3 211.3L235.7 212.5L231.3 214.0L226.8 212.8ZM226.8 212.8L231.3 214.0L226.8 215.6L222.3 214.4ZM222.3 214.4L226.8 215.6L222.4 217.0L217.9 215.8ZM240.2 211.0L244.7 212.1L240.2 213.6L235.7 212.5ZM235.7 212.5L240.2 213.6L235.8 215.1L231.3 214.0ZM231.3 214.0L235.8 215.1L231.3 216.6L226.8 215.6ZM226.8 215.6L231.3 216.6L226.8 218.1L222.4 217.0ZM244.7 212.1L249.2 213.1L244.7 214.6L240.2 213.6ZM240.2 213.6L244.7 214.6L240.2 216.1L235.8 215.1ZM235.8 215.1L240.2 216.1L235.8 217.6L231.3 216.6ZM231.3 216.6L235.8 217.6L231.3 219.1L226.8 218.1ZM249.2 213.1L253.6 214.2L249.2 215.7L244.7 214.6ZM244.7 214.6L249.2 215.7L244.7 217.2L240.2 216.1ZM240.2 216.1L244.7 217.2L240.2 218.7L235.8 217.6ZM235.8 217.6L240.2 218.7L235.8 220.2L231.3 219.1ZM231.3 219.1L235.8 220.2L231.3 221.6L226.8 220.6ZM249.2 215.7L253.6 216.7L249.2 218.2L244.7 217.2ZM244.7 217.2L249.2 218.2L244.7 219.8L240.2 218.7ZM240.2 218.7L244.7 219.8L240.2 221.1L235.8 220.2ZM235.8 220.2L240.2 221.1L235.8 222.4L231.3 221.6ZM253.6 216.7L258.1 217.6L253.6 219.1L249.2 218.2ZM249.2 218.2L253.6 219.1L249.2 220.5L244.7 219.8ZM244.7 219.8L249.2 220.5L244.7 221.8L240.2 221.1ZM240.2 221.1L244.7 221.8L240.3 223.0L235.8 222.4ZM235.8 222.4L240.3 223.0L235.8 224.3L231.3 223.8ZM258.1 217.6L262.6 218.5L258.1 219.8L253.6 219.1ZM253.6 219.1L258.1 219.8L253.7 221.1L249.2 220.5ZM249.2 220.5L253.7 221.1L249.2 222.3L244.7 221.8ZM244.7 221.8L249.2 222.3L244.7 223.6L240.3 223.0ZM240.3 223.0L244.7 223.6L240.3 224.8L235.8 224.3ZM258.1 219.8L262.6 220.4L258.1 221.7L253.7 221.1ZM253.7 221.1L258.1 221.7L253.7 222.9L249.2 222.3ZM249.2 222.3L253.7 222.9L249.2 224.1L244.7 223.6ZM244.7 223.6L249.2 224.1L244.7 225.3L240.3 224.8Z" fill="#402ab4" stroke="#402ab4" stroke-width="0.9" stroke-linejoin="round"/>
<path d="M209.0 215.9L213.4 217.3L209.0 219.0L204.5 217.4ZM217.9 215.8L222.4 217.0L217.9 218.6L213.4 217.3ZM213.4 217.3L217.9 218.6L213.4 220.2L209.0 219.0ZM222.4 217.0L226.8 218.1L222.4 219.6L217.9 218.6ZM217.9 218.6L222.4 219.6L217.9 221.1L213.4 220.2ZM226.8 218.1L231.3 219.1L226.8 220.6L222.4 219.6ZM222.4 219.6L226.8 220.6L222.4 222.0L217.9 221.1ZM226.8 220.6L231.3 221.6L226.9 222.9L222.4 222.0ZM231.3 221.6L235.8 222.4L231.3 223.8L226.9 222.9Z" fill="#3e26a8" stroke="#3e26a8" stroke-width="0.9" stroke-linejoin="round"/>
<line x1="43.5" y1="187.6" x2="267.1" y2="243.4" stroke="#8a8a8a" stroke-width="0.8"/>
<line x1="267.1" y1="243.4" x2="490.2" y2="188.0" stroke="#8a8a8a" stroke-width="0.8"/>
<line x1="43.5" y1="187.6" x2="43.5" y2="54.1" stroke="#6a6a6a" stroke-width="0.9"/>
<line x1="39.5" y1="186.6" x2="43.5" y2="187.6" stroke="#6a6a6a" stroke-width="0.8"/>
<line x1="39.5" y1="153.2" x2="43.5" y2="154.2" stroke="#6a6a6a" stroke-width="0.8"/>
<line x1="39.5" y1="119.8" x2="43.5" y2="120.8" stroke="#6a6a6a" stroke-width="0.8"/>
<line x1="39.5" y1="86.5" x2="43.5" y2="87.5" stroke="#6a6a6a" stroke-width="0.8"/>
<line x1="39.5" y1="53.1" x2="43.5" y2="54.1" stroke="#6a6a6a" stroke-width="0.8"/>
<line x1="43.5" y1="187.6" x2="39.1" y2="188.7" stroke="#8a8a8a" stroke-width="0.8"/>
<line x1="88.2" y1="198.8" x2="83.8" y2="199.9" stroke="#8a8a8a" stroke-width="0.8"/>
<line x1="132.9" y1="209.9" x2="128.5" y2="211.0" stroke="#8a8a8a" stroke-width="0.8"/>
<line x1="177.7" y1="221.1" x2="173.3" y2="222.2" stroke="#8a8a8a" stroke-width="0.8"/>
<line x1="222.4" y1="232.2" x2="218.0" y2="233.3" stroke="#8a8a8a" stroke-width="0.8"/>
<line x1="267.1" y1="243.4" x2="262.7" y2="244.5" stroke="#8a8a8a" stroke-width="0.8"/>
<line x1="267.1" y1="243.4" x2="271.5" y2="244.5" stroke="#8a8a8a" stroke-width="0.8"/>
<line x1="311.7" y1="232.3" x2="316.1" y2="233.4" stroke="#8a8a8a" stroke-width="0.8"/>
<line x1="356.3" y1="221.2" x2="360.7" y2="222.3" stroke="#8a8a8a" stroke-width="0.8"/>
<line x1="401.0" y1="210.2" x2="405.4" y2="211.3" stroke="#8a8a8a" stroke-width="0.8"/>
<line x1="445.6" y1="199.1" x2="450.0" y2="200.2" stroke="#8a8a8a" stroke-width="0.8"/>
<line x1="490.2" y1="188.0" x2="494.6" y2="189.1" stroke="#8a8a8a" stroke-width="0.8"/>
<text x="33.8" y="192.1" font-size="12.5" class="s" text-anchor="end" fill="#363636">0</text>
<text x="33.8" y="158.7" font-size="12.5" class="s" text-anchor="end" fill="#363636">0.1</text>
<text x="33.8" y="125.3" font-size="12.5" class="s" text-anchor="end" fill="#363636">0.2</text>
<text x="33.8" y="92.0" font-size="12.5" class="s" text-anchor="end" fill="#363636">0.3</text>
<text x="33.8" y="58.6" font-size="12.5" class="s" text-anchor="end" fill="#363636">0.4</text>
<text x="33.7" y="204.1" font-size="12.5" class="s" text-anchor="end" fill="#363636">0</text>
<text x="78.4" y="215.3" font-size="12.5" class="s" text-anchor="end" fill="#363636">0.1</text>
<text x="123.1" y="226.4" font-size="12.5" class="s" text-anchor="end" fill="#363636">0.2</text>
<text x="167.9" y="237.6" font-size="12.5" class="s" text-anchor="end" fill="#363636">0.3</text>
<text x="212.6" y="248.7" font-size="12.5" class="s" text-anchor="end" fill="#363636">0.4</text>
<text x="257.3" y="259.9" font-size="12.5" class="s" text-anchor="end" fill="#363636">0.5</text>
<text x="276.7" y="258.4" font-size="12.5" class="s" text-anchor="start" fill="#363636">50</text>
<text x="321.3" y="247.3" font-size="12.5" class="s" text-anchor="start" fill="#363636">40</text>
<text x="365.9" y="236.2" font-size="12.5" class="s" text-anchor="start" fill="#363636">30</text>
<text x="410.6" y="225.2" font-size="12.5" class="s" text-anchor="start" fill="#363636">20</text>
<text x="455.2" y="214.1" font-size="12.5" class="s" text-anchor="start" fill="#363636">10</text>
<text x="499.8" y="203.0" font-size="12.5" class="s" text-anchor="start" fill="#363636">0</text>
<text x="166.8" y="266.0" font-size="13.8" class="s" text-anchor="middle" fill="#363636">g</text>
<text x="363.3" y="266.0" font-size="13.8" class="s" text-anchor="middle" fill="#363636">c</text>
<text x="11.5" y="121" font-size="13.8" class="s" text-anchor="middle" fill="#363636" transform="rotate(-90 11.5 121)">RMSE</text>
<defs><linearGradient id="cb" x1="0" y1="1" x2="0" y2="0">
<stop offset="0.0000" stop-color="#3e26a8"/>
<stop offset="0.0312" stop-color="#422ebf"/>
<stop offset="0.0625" stop-color="#4536d5"/>
<stop offset="0.0938" stop-color="#4741e5"/>
<stop offset="0.1250" stop-color="#484cef"/>
<stop offset="0.1562" stop-color="#4757f7"/>
<stop offset="0.1875" stop-color="#4562fc"/>
<stop offset="0.2188" stop-color="#3f6efe"/>
<stop offset="0.2500" stop-color="#347afd"/>
<stop offset="0.2812" stop-color="#2e85f8"/>
<stop offset="0.3125" stop-color="#2c90f0"/>
<stop offset="0.3438" stop-color="#269ae9"/>
<stop offset="0.3750" stop-color="#21a3e3"/>
<stop offset="0.4062" stop-color="#1aacdd"/>
<stop offset="0.4375" stop-color="#0cb3d3"/>
<stop offset="0.4688" stop-color="#01b9c6"/>
<stop offset="0.5000" stop-color="#12beb9"/>
<stop offset="0.5312" stop-color="#28c2ab"/>
<stop offset="0.5625" stop-color="#34c79c"/>
<stop offset="0.5938" stop-color="#44ca8a"/>
<stop offset="0.6250" stop-color="#5ccc76"/>
<stop offset="0.6562" stop-color="#77cc60"/>
<stop offset="0.6875" stop-color="#94ca4a"/>
<stop offset="0.7188" stop-color="#afc637"/>
<stop offset="0.7500" stop-color="#c8c129"/>
<stop offset="0.7812" stop-color="#debc2a"/>
<stop offset="0.8125" stop-color="#f1ba37"/>
<stop offset="0.8438" stop-color="#febe3c"/>
<stop offset="0.8750" stop-color="#feca33"/>
<stop offset="0.9062" stop-color="#f9d62d"/>
<stop offset="0.9375" stop-color="#f5e327"/>
<stop offset="0.9688" stop-color="#f6ef20"/>
<stop offset="1.0000" stop-color="#f9fb15"/>
</linearGradient></defs>
<rect x="505.5" y="0.8" width="8" height="242" fill="url(#cb)" stroke="#777" stroke-width="0.6"/>
<line x1="510.5" y1="25.3" x2="513.5" y2="25.3" stroke="#555" stroke-width="0.7"/>
<text x="517.6" y="29.8" font-size="12.5" class="s" text-anchor="start" fill="#363636">0.3</text>
<line x1="510.5" y1="65.3" x2="513.5" y2="65.3" stroke="#555" stroke-width="0.7"/>
<text x="517.6" y="69.8" font-size="12.5" class="s" text-anchor="start" fill="#363636">0.25</text>
<line x1="510.5" y1="105.4" x2="513.5" y2="105.4" stroke="#555" stroke-width="0.7"/>
<text x="517.6" y="109.9" font-size="12.5" class="s" text-anchor="start" fill="#363636">0.2</text>
<line x1="510.5" y1="145.4" x2="513.5" y2="145.4" stroke="#555" stroke-width="0.7"/>
<text x="517.6" y="149.9" font-size="12.5" class="s" text-anchor="start" fill="#363636">0.15</text>
<line x1="510.5" y1="185.5" x2="513.5" y2="185.5" stroke="#555" stroke-width="0.7"/>
<text x="517.6" y="190.0" font-size="12.5" class="s" text-anchor="start" fill="#363636">0.1</text>
<line x1="510.5" y1="225.5" x2="513.5" y2="225.5" stroke="#555" stroke-width="0.7"/>
<text x="517.6" y="230.0" font-size="12.5" class="s" text-anchor="start" fill="#363636">0.05</text>
<text x="0" y="297.6" font-size="17.3" class="t" fill="#000" textLength="237" lengthAdjust="spacing">(a) Grid Search Optimization Plot</text>
<line x1="72.5" y1="318.7" x2="72.5" y2="542.0" stroke="#d6d6d6" stroke-width="0.6" stroke-dasharray="1 2"/>
<line x1="100.3" y1="318.7" x2="100.3" y2="542.0" stroke="#d6d6d6" stroke-width="0.6" stroke-dasharray="1 2"/>
<line x1="128.1" y1="318.7" x2="128.1" y2="542.0" stroke="#d6d6d6" stroke-width="0.6" stroke-dasharray="1 2"/>
<line x1="155.9" y1="318.7" x2="155.9" y2="542.0" stroke="#d6d6d6" stroke-width="0.6" stroke-dasharray="1 2"/>
<line x1="183.7" y1="318.7" x2="183.7" y2="542.0" stroke="#d6d6d6" stroke-width="0.6" stroke-dasharray="1 2"/>
<line x1="211.5" y1="318.7" x2="211.5" y2="542.0" stroke="#d6d6d6" stroke-width="0.6" stroke-dasharray="1 2"/>
<line x1="239.3" y1="318.7" x2="239.3" y2="542.0" stroke="#d6d6d6" stroke-width="0.6" stroke-dasharray="1 2"/>
<line x1="267.1" y1="318.7" x2="267.1" y2="542.0" stroke="#d6d6d6" stroke-width="0.6" stroke-dasharray="1 2"/>
<line x1="294.9" y1="318.7" x2="294.9" y2="542.0" stroke="#d6d6d6" stroke-width="0.6" stroke-dasharray="1 2"/>
<line x1="322.7" y1="318.7" x2="322.7" y2="542.0" stroke="#d6d6d6" stroke-width="0.6" stroke-dasharray="1 2"/>
<line x1="58.6" y1="331.8" x2="336.6" y2="331.8" stroke="#d6d6d6" stroke-width="0.6" stroke-dasharray="1 2"/>
<line x1="58.6" y1="358.0" x2="336.6" y2="358.0" stroke="#d6d6d6" stroke-width="0.6" stroke-dasharray="1 2"/>
<line x1="58.6" y1="384.2" x2="336.6" y2="384.2" stroke="#d6d6d6" stroke-width="0.6" stroke-dasharray="1 2"/>
<line x1="58.6" y1="410.5" x2="336.6" y2="410.5" stroke="#d6d6d6" stroke-width="0.6" stroke-dasharray="1 2"/>
<line x1="58.6" y1="436.7" x2="336.6" y2="436.7" stroke="#d6d6d6" stroke-width="0.6" stroke-dasharray="1 2"/>
<line x1="58.6" y1="462.9" x2="336.6" y2="462.9" stroke="#d6d6d6" stroke-width="0.6" stroke-dasharray="1 2"/>
<line x1="58.6" y1="489.1" x2="336.6" y2="489.1" stroke="#d6d6d6" stroke-width="0.6" stroke-dasharray="1 2"/>
<line x1="58.6" y1="515.3" x2="336.6" y2="515.3" stroke="#d6d6d6" stroke-width="0.6" stroke-dasharray="1 2"/>
<line x1="58.6" y1="541.6" x2="336.6" y2="541.6" stroke="#d6d6d6" stroke-width="0.6" stroke-dasharray="1 2"/>
<clipPath id="cpb"><rect x="58.6" y="318.7" width="278.0" height="223.3"/></clipPath>
<g clip-path="url(#cpb)">
<polyline points="58.6,430.8 72.5,404.3 86.4,382.0 100.3,361.4 114.2,349.0 128.1,341.8 142.0,341.0 155.9,341.0 169.8,340.3 183.7,341.0 197.6,344.7 211.5,352.9 225.4,367.6 239.3,384.9 253.2,407.3 267.1,436.6 281.0,468.0 294.9,500.8 308.8,533.0" fill="none" stroke="#454545" stroke-width="1.5"/>
<polyline points="58.6,436.5 72.5,408.5 86.4,379.0 100.3,356.4 114.2,344.7 128.1,344.0 142.0,346.5 155.9,347.2 169.8,345.5 183.7,340.5 197.6,342.3 211.5,350.9 225.4,364.1 239.3,383.9 253.2,406.0 267.1,430.8 281.0,464.1 294.9,498.8 308.8,529.3" fill="none" stroke="#ff2a2a" stroke-width="1.1"/>
<path d="M54.9 430.8L62.3 430.8M56.8 427.6L60.5 434.0M60.5 427.6L56.8 434.0" stroke="#ff0000" stroke-width="1.6" fill="none"/>
<path d="M68.8 404.3L76.2 404.3M70.7 401.1L74.3 407.5M74.3 401.1L70.7 407.5" stroke="#ff0000" stroke-width="1.6" fill="none"/>
<path d="M82.7 382.0L90.1 382.0M84.6 378.8L88.2 385.2M88.2 378.8L84.6 385.2" stroke="#ff0000" stroke-width="1.6" fill="none"/>
<path d="M96.6 361.4L104.0 361.4M98.5 358.2L102.2 364.6M102.2 358.2L98.5 364.6" stroke="#ff0000" stroke-width="1.6" fill="none"/>
<path d="M110.5 349.0L117.9 349.0M112.4 345.8L116.0 352.2M116.0 345.8L112.4 352.2" stroke="#ff0000" stroke-width="1.6" fill="none"/>
<path d="M124.4 341.8L131.8 341.8M126.2 338.6L129.9 345.0M129.9 338.6L126.2 345.0" stroke="#ff0000" stroke-width="1.6" fill="none"/>
<path d="M138.3 341.0L145.7 341.0M140.2 337.8L143.8 344.2M143.8 337.8L140.2 344.2" stroke="#ff0000" stroke-width="1.6" fill="none"/>
<path d="M152.2 341.0L159.6 341.0M154.1 337.8L157.8 344.2M157.8 337.8L154.1 344.2" stroke="#ff0000" stroke-width="1.6" fill="none"/>
<path d="M166.1 340.3L173.5 340.3M168.0 337.1L171.7 343.5M171.7 337.1L168.0 343.5" stroke="#ff0000" stroke-width="1.6" fill="none"/>
<path d="M180.0 341.0L187.4 341.0M181.9 337.8L185.6 344.2M185.6 337.8L181.9 344.2" stroke="#ff0000" stroke-width="1.6" fill="none"/>
<path d="M193.9 344.7L201.3 344.7M195.8 341.5L199.4 347.9M199.4 341.5L195.8 347.9" stroke="#ff0000" stroke-width="1.6" fill="none"/>
<path d="M207.8 352.9L215.2 352.9M209.7 349.7L213.3 356.1M213.3 349.7L209.7 356.1" stroke="#ff0000" stroke-width="1.6" fill="none"/>
<path d="M221.7 367.6L229.1 367.6M223.6 364.4L227.2 370.8M227.2 364.4L223.6 370.8" stroke="#ff0000" stroke-width="1.6" fill="none"/>
<path d="M235.6 384.9L243.0 384.9M237.5 381.7L241.2 388.1M241.2 381.7L237.5 388.1" stroke="#ff0000" stroke-width="1.6" fill="none"/>
<path d="M249.5 407.3L256.9 407.3M251.3 404.1L255.0 410.5M255.0 404.1L251.3 410.5" stroke="#ff0000" stroke-width="1.6" fill="none"/>
<path d="M263.4 436.6L270.8 436.6M265.2 433.4L269.0 439.8M269.0 433.4L265.2 439.8" stroke="#ff0000" stroke-width="1.6" fill="none"/>
<path d="M277.3 468.0L284.7 468.0M279.1 464.8L282.9 471.2M282.9 464.8L279.1 471.2" stroke="#ff0000" stroke-width="1.6" fill="none"/>
<path d="M291.2 500.8L298.6 500.8M293.1 497.6L296.8 504.0M296.8 497.6L293.1 504.0" stroke="#ff0000" stroke-width="1.6" fill="none"/>
<path d="M305.1 533.0L312.5 533.0M306.9 529.8L310.7 536.2M310.7 529.8L306.9 536.2" stroke="#ff0000" stroke-width="1.6" fill="none"/>
<circle cx="58.6" cy="436.5" r="2.35" fill="#fff" stroke="#0000ff" stroke-width="1.5"/>
<circle cx="72.5" cy="408.5" r="2.35" fill="#fff" stroke="#0000ff" stroke-width="1.5"/>
<circle cx="86.4" cy="379.0" r="2.35" fill="#fff" stroke="#0000ff" stroke-width="1.5"/>
<circle cx="100.3" cy="356.4" r="2.35" fill="#fff" stroke="#0000ff" stroke-width="1.5"/>
<circle cx="114.2" cy="344.7" r="2.35" fill="#fff" stroke="#0000ff" stroke-width="1.5"/>
<circle cx="128.1" cy="344.0" r="2.35" fill="#fff" stroke="#0000ff" stroke-width="1.5"/>
<circle cx="142.0" cy="346.5" r="2.35" fill="#fff" stroke="#0000ff" stroke-width="1.5"/>
<circle cx="155.9" cy="347.2" r="2.35" fill="#fff" stroke="#0000ff" stroke-width="1.5"/>
<circle cx="169.8" cy="345.5" r="2.35" fill="#fff" stroke="#0000ff" stroke-width="1.5"/>
<circle cx="183.7" cy="340.5" r="2.35" fill="#fff" stroke="#0000ff" stroke-width="1.5"/>
<circle cx="197.6" cy="342.3" r="2.35" fill="#fff" stroke="#0000ff" stroke-width="1.5"/>
<circle cx="211.5" cy="350.9" r="2.35" fill="#fff" stroke="#0000ff" stroke-width="1.5"/>
<circle cx="225.4" cy="364.1" r="2.35" fill="#fff" stroke="#0000ff" stroke-width="1.5"/>
<circle cx="239.3" cy="383.9" r="2.35" fill="#fff" stroke="#0000ff" stroke-width="1.5"/>
<circle cx="253.2" cy="406.0" r="2.35" fill="#fff" stroke="#0000ff" stroke-width="1.5"/>
<circle cx="267.1" cy="430.8" r="2.35" fill="#fff" stroke="#0000ff" stroke-width="1.5"/>
<circle cx="281.0" cy="464.1" r="2.35" fill="#fff" stroke="#0000ff" stroke-width="1.5"/>
<circle cx="294.9" cy="498.8" r="2.35" fill="#fff" stroke="#0000ff" stroke-width="1.5"/>
<circle cx="308.8" cy="529.3" r="2.35" fill="#fff" stroke="#0000ff" stroke-width="1.5"/>
</g>
<rect x="59.4" y="439.6" width="217.6" height="102" fill="#fff"/>
<line x1="58.6" y1="542.0" x2="277.0" y2="542.0" stroke="#c8c8c8" stroke-width="1.3"/>
<rect x="58.6" y="318.7" width="278.0" height="223.3" fill="none" stroke="#222" stroke-width="1.3"/>
<line x1="58.6" y1="542.0" x2="277.0" y2="542.0" stroke="#c8c8c8" stroke-width="1.4"/>
<line x1="72.5" y1="318.7" x2="72.5" y2="322.7" stroke="#222" stroke-width="1.1"/>
<line x1="100.3" y1="318.7" x2="100.3" y2="322.7" stroke="#222" stroke-width="1.1"/>
<line x1="128.1" y1="318.7" x2="128.1" y2="322.7" stroke="#222" stroke-width="1.1"/>
<line x1="155.9" y1="318.7" x2="155.9" y2="322.7" stroke="#222" stroke-width="1.1"/>
<line x1="183.7" y1="318.7" x2="183.7" y2="322.7" stroke="#222" stroke-width="1.1"/>
<line x1="211.5" y1="318.7" x2="211.5" y2="322.7" stroke="#222" stroke-width="1.1"/>
<line x1="239.3" y1="318.7" x2="239.3" y2="322.7" stroke="#222" stroke-width="1.1"/>
<line x1="267.1" y1="318.7" x2="267.1" y2="322.7" stroke="#222" stroke-width="1.1"/>
<line x1="294.9" y1="318.7" x2="294.9" y2="322.7" stroke="#222" stroke-width="1.1"/>
<line x1="294.9" y1="542.0" x2="294.9" y2="538.0" stroke="#222" stroke-width="1.1"/>
<line x1="322.7" y1="318.7" x2="322.7" y2="322.7" stroke="#222" stroke-width="1.1"/>
<line x1="322.7" y1="542.0" x2="322.7" y2="538.0" stroke="#222" stroke-width="1.1"/>
<line x1="58.6" y1="331.8" x2="62.6" y2="331.8" stroke="#222" stroke-width="1.1"/>
<line x1="336.6" y1="331.8" x2="332.6" y2="331.8" stroke="#222" stroke-width="1.1"/>
<line x1="58.6" y1="358.0" x2="62.6" y2="358.0" stroke="#222" stroke-width="1.1"/>
<line x1="336.6" y1="358.0" x2="332.6" y2="358.0" stroke="#222" stroke-width="1.1"/>
<line x1="58.6" y1="384.2" x2="62.6" y2="384.2" stroke="#222" stroke-width="1.1"/>
<line x1="336.6" y1="384.2" x2="332.6" y2="384.2" stroke="#222" stroke-width="1.1"/>
<line x1="58.6" y1="410.5" x2="62.6" y2="410.5" stroke="#222" stroke-width="1.1"/>
<line x1="336.6" y1="410.5" x2="332.6" y2="410.5" stroke="#222" stroke-width="1.1"/>
<line x1="58.6" y1="436.7" x2="62.6" y2="436.7" stroke="#222" stroke-width="1.1"/>
<line x1="336.6" y1="436.7" x2="332.6" y2="436.7" stroke="#222" stroke-width="1.1"/>
<line x1="58.6" y1="462.9" x2="62.6" y2="462.9" stroke="#222" stroke-width="1.1"/>
<line x1="336.6" y1="462.9" x2="332.6" y2="462.9" stroke="#222" stroke-width="1.1"/>
<line x1="58.6" y1="489.1" x2="62.6" y2="489.1" stroke="#222" stroke-width="1.1"/>
<line x1="336.6" y1="489.1" x2="332.6" y2="489.1" stroke="#222" stroke-width="1.1"/>
<line x1="58.6" y1="515.3" x2="62.6" y2="515.3" stroke="#222" stroke-width="1.1"/>
<line x1="336.6" y1="515.3" x2="332.6" y2="515.3" stroke="#222" stroke-width="1.1"/>
<line x1="58.6" y1="541.6" x2="62.6" y2="541.6" stroke="#222" stroke-width="1.1"/>
<line x1="336.6" y1="541.6" x2="332.6" y2="541.6" stroke="#222" stroke-width="1.1"/>
<text x="53.6" y="337.2" font-size="16" class="t" text-anchor="end" fill="#000">-0.6</text>
<text x="53.6" y="363.4" font-size="16" class="t" text-anchor="end" fill="#000">-0.8</text>
<text x="53.6" y="389.6" font-size="16" class="t" text-anchor="end" fill="#000">-1.0</text>
<text x="53.6" y="415.9" font-size="16" class="t" text-anchor="end" fill="#000">-1.2</text>
<text x="53.6" y="442.1" font-size="16" class="t" text-anchor="end" fill="#000">-1.4</text>
<text x="53.6" y="468.3" font-size="16" class="t" text-anchor="end" fill="#000">-1.6</text>
<text x="53.6" y="494.5" font-size="16" class="t" text-anchor="end" fill="#000">-1.8</text>
<text x="53.6" y="520.7" font-size="16" class="t" text-anchor="end" fill="#000">-2.0</text>
<text x="53.6" y="547.0" font-size="16" class="t" text-anchor="end" fill="#000">-2.2</text>
<text x="72.5" y="560.2" font-size="16" class="t" text-anchor="middle" fill="#000">2</text>
<text x="100.3" y="560.2" font-size="16" class="t" text-anchor="middle" fill="#000">4</text>
<text x="128.1" y="560.2" font-size="16" class="t" text-anchor="middle" fill="#000">6</text>
<text x="155.9" y="560.2" font-size="16" class="t" text-anchor="middle" fill="#000">8</text>
<text x="183.7" y="560.2" font-size="16" class="t" text-anchor="middle" fill="#000">10</text>
<text x="211.5" y="560.2" font-size="16" class="t" text-anchor="middle" fill="#000">12</text>
<text x="239.3" y="560.2" font-size="16" class="t" text-anchor="middle" fill="#000">14</text>
<text x="267.1" y="560.2" font-size="16" class="t" text-anchor="middle" fill="#000">16</text>
<text x="294.9" y="560.2" font-size="16" class="t" text-anchor="middle" fill="#000">18</text>
<text x="322.7" y="560.2" font-size="16" class="t" text-anchor="middle" fill="#000">20</text>
<text x="24" y="429.5" font-size="16" class="t" text-anchor="middle" fill="#000" transform="rotate(-90 24 429.5)">Forecast result</text>
<text x="197.6" y="574.3" font-size="16" class="t" text-anchor="middle" fill="#000">Prediction sample</text>
<line x1="213.4" y1="329.4" x2="244.4" y2="329.4" stroke="#454545" stroke-width="1.5"/>
<path d="M225.1 329.4L232.5 329.4M227.0 326.2L230.7 332.6M230.7 326.2L227.0 332.6" stroke="#ff0000" stroke-width="1.6" fill="none"/>
<line x1="213.4" y1="346.7" x2="244.4" y2="346.7" stroke="#ff2a2a" stroke-width="1.1"/>
<circle cx="228.8" cy="346.7" r="2.35" fill="#fff" stroke="#0000ff" stroke-width="1.5"/>
<text x="248.9" y="334.1" font-size="13.5" class="t" text-anchor="start" fill="#000">True value</text>
<text x="248.9" y="351.4" font-size="13.5" class="t" text-anchor="start" fill="#000">Predicted value</text>
<text x="80.0" y="446.6" font-size="10.5" class="s" text-anchor="start" fill="#111">Comparison of test set prediction results</text>
<text x="67" y="482.8" font-size="10.4" class="s" text-anchor="middle" fill="#333" transform="rotate(-90 67 482.8)">Predicted value</text>
<text x="67.1" y="539.6" font-size="10.4" class="s" text-anchor="start" fill="#333">True value</text>
<text x="276.5" y="540.6" font-size="10.5" class="s" text-anchor="end" fill="#333">Sample index</text>
<text x="85.8" y="473.7" font-size="10.4" class="s" text-anchor="end" fill="#333">-1</text>
<text x="85.8" y="490.4" font-size="10.4" class="s" text-anchor="end" fill="#333">-1.5</text>
<text x="85.8" y="506.7" font-size="10.4" class="s" text-anchor="end" fill="#333">-2</text>
<text x="98.8" y="520.7" font-size="10.4" class="s" text-anchor="middle" fill="#333">-1</text>
<text x="119.8" y="524.5" font-size="10.4" class="s" text-anchor="middle" fill="#333">-1.5</text>
<text x="150.5" y="528.4" font-size="10.4" class="s" text-anchor="middle" fill="#333">-2</text>
<text x="172.3" y="528.9" font-size="10.4" class="s" text-anchor="middle" fill="#333">0</text>
<text x="221.3" y="524.5" font-size="10.4" class="s" text-anchor="middle" fill="#333">10</text>
<text x="266.0" y="520.2" font-size="10.4" class="s" text-anchor="middle" fill="#333">20</text>
<line x1="91.0" y1="461.0" x2="91.0" y2="507.0" stroke="#ececec" stroke-width="0.6"/>
<line x1="137.0" y1="447.0" x2="137.0" y2="500.0" stroke="#ececec" stroke-width="0.6"/>
<line x1="91.0" y1="470.0" x2="137.0" y2="463.0" stroke="#ececec" stroke-width="0.6"/>
<line x1="91.0" y1="487.0" x2="137.0" y2="480.0" stroke="#ececec" stroke-width="0.6"/>
<line x1="91.0" y1="503.0" x2="137.0" y2="496.0" stroke="#ececec" stroke-width="0.6"/>
<line x1="137.0" y1="463.0" x2="262.0" y2="470.0" stroke="#ececec" stroke-width="0.6"/>
<line x1="137.0" y1="480.0" x2="262.0" y2="487.0" stroke="#ececec" stroke-width="0.6"/>
<line x1="137.0" y1="496.0" x2="262.0" y2="503.0" stroke="#ececec" stroke-width="0.6"/>
<line x1="90.5" y1="507.5" x2="168.0" y2="518.6" stroke="#d9d9d9" stroke-width="0.7"/>
<line x1="168.0" y1="518.6" x2="262.0" y2="507.3" stroke="#d9d9d9" stroke-width="0.7"/>
<polyline points="130.3,488.4 125.0,479.1 120.2,469.7 116.7,462.7 116.7,458.6 119.0,457.4 123.3,457.4 127.7,457.4 132.1,456.4 137.0,454.6 143.1,455.1 150.5,457.2 160.5,460.8 172.0,466.3 185.4,472.7 200.6,480.2 217.5,489.7 235.0,499.8 252.0,508.9" fill="none" stroke="#111" stroke-width="1.4" stroke-dasharray="3.6 2.2"/>
<circle cx="130.3" cy="488.4" r="1.75" fill="#f5aab1" stroke="#ea98a0" stroke-width="0.4"/>
<circle cx="125.0" cy="479.1" r="1.75" fill="#f5aab1" stroke="#ea98a0" stroke-width="0.4"/>
<circle cx="120.2" cy="469.7" r="1.75" fill="#f5aab1" stroke="#ea98a0" stroke-width="0.4"/>
<circle cx="116.7" cy="462.7" r="1.75" fill="#f5aab1" stroke="#ea98a0" stroke-width="0.4"/>
<circle cx="116.7" cy="458.6" r="1.75" fill="#f5aab1" stroke="#ea98a0" stroke-width="0.4"/>
<circle cx="119.0" cy="457.4" r="1.75" fill="#f5aab1" stroke="#ea98a0" stroke-width="0.4"/>
<circle cx="123.3" cy="457.4" r="1.75" fill="#f5aab1" stroke="#ea98a0" stroke-width="0.4"/>
<circle cx="127.7" cy="457.4" r="1.75" fill="#f5aab1" stroke="#ea98a0" stroke-width="0.4"/>
<circle cx="132.1" cy="456.4" r="1.75" fill="#f5aab1" stroke="#ea98a0" stroke-width="0.4"/>
<circle cx="137.0" cy="454.6" r="1.75" fill="#f5aab1" stroke="#ea98a0" stroke-width="0.4"/>
<circle cx="143.1" cy="455.1" r="1.75" fill="#f5aab1" stroke="#ea98a0" stroke-width="0.4"/>
<circle cx="150.5" cy="457.2" r="1.75" fill="#f5aab1" stroke="#ea98a0" stroke-width="0.4"/>
<circle cx="160.5" cy="460.8" r="1.75" fill="#f5aab1" stroke="#ea98a0" stroke-width="0.4"/>
<circle cx="172.0" cy="466.3" r="1.75" fill="#f5aab1" stroke="#ea98a0" stroke-width="0.4"/>
<circle cx="185.4" cy="472.7" r="1.75" fill="#f5aab1" stroke="#ea98a0" stroke-width="0.4"/>
<circle cx="200.6" cy="480.2" r="1.75" fill="#f5aab1" stroke="#ea98a0" stroke-width="0.4"/>
<circle cx="217.5" cy="489.7" r="1.75" fill="#f5aab1" stroke="#ea98a0" stroke-width="0.4"/>
<circle cx="235.0" cy="499.8" r="1.75" fill="#f5aab1" stroke="#ea98a0" stroke-width="0.4"/>
<circle cx="252.0" cy="508.9" r="1.75" fill="#f5aab1" stroke="#ea98a0" stroke-width="0.4"/>
<rect x="133.2" y="485.5" width="73.3" height="23.9" fill="#fff" stroke="#c0c0c0" stroke-width="0.7"/>
<circle cx="136.6" cy="491.6" r="0.8" fill="#f4a6ad"/>
<line x1="134.1" y1="503.5" x2="137.2" y2="503.5" stroke="#111" stroke-width="1.2"/>
<text x="140.3" y="495.3" font-size="9.5" class="s" text-anchor="start" fill="#111">Predicted value</text>
<text x="140.3" y="506.7" font-size="9.5" class="s" text-anchor="start" fill="#111">True value line</text>
<line x1="428.6" y1="316.5" x2="428.6" y2="366.7" stroke="#d6d6d6" stroke-width="0.6" stroke-dasharray="1 2"/>
<line x1="454.6" y1="316.5" x2="454.6" y2="366.7" stroke="#d6d6d6" stroke-width="0.6" stroke-dasharray="1 2"/>
<line x1="480.5" y1="316.5" x2="480.5" y2="366.7" stroke="#d6d6d6" stroke-width="0.6" stroke-dasharray="1 2"/>
<line x1="506.5" y1="316.5" x2="506.5" y2="366.7" stroke="#d6d6d6" stroke-width="0.6" stroke-dasharray="1 2"/>
<line x1="532.5" y1="316.5" x2="532.5" y2="366.7" stroke="#d6d6d6" stroke-width="0.6" stroke-dasharray="1 2"/>
<line x1="558.5" y1="316.5" x2="558.5" y2="366.7" stroke="#d6d6d6" stroke-width="0.6" stroke-dasharray="1 2"/>
<line x1="584.5" y1="316.5" x2="584.5" y2="366.7" stroke="#d6d6d6" stroke-width="0.6" stroke-dasharray="1 2"/>
<line x1="402.6" y1="346.7" x2="605.5" y2="346.7" stroke="#d6d6d6" stroke-width="0.6" stroke-dasharray="1 2"/>
<line x1="402.6" y1="326.7" x2="605.5" y2="326.7" stroke="#d6d6d6" stroke-width="0.6" stroke-dasharray="1 2"/>
<rect x="402.6" y="361.4" width="26.0" height="5.3" fill="#00ffff" stroke="#2a2a2a" stroke-width="0.9"/>
<rect x="428.6" y="361.4" width="26.0" height="5.3" fill="#00ffff" stroke="#2a2a2a" stroke-width="0.9"/>
<rect x="454.6" y="361.4" width="26.0" height="5.3" fill="#00ffff" stroke="#2a2a2a" stroke-width="0.9"/>
<rect x="506.5" y="356.1" width="26.0" height="10.6" fill="#00ffff" stroke="#2a2a2a" stroke-width="0.9"/>
<rect x="532.5" y="351.0" width="26.0" height="15.7" fill="#00ffff" stroke="#2a2a2a" stroke-width="0.9"/>
<rect x="558.5" y="351.0" width="26.0" height="15.7" fill="#00ffff" stroke="#2a2a2a" stroke-width="0.9"/>
<rect x="584.5" y="324.4" width="21.0" height="42.3" fill="#00ffff" stroke="#2a2a2a" stroke-width="0.9"/>
<rect x="402.6" y="316.5" width="202.9" height="50.2" fill="none" stroke="#2a2a2a" stroke-width="1.2"/>
<line x1="402.6" y1="366.7" x2="399.6" y2="366.7" stroke="#2a2a2a" stroke-width="1"/>
<text x="400.6" y="370.7" font-size="15" class="t" text-anchor="end" fill="#000">0</text>
<line x1="402.6" y1="346.7" x2="399.6" y2="346.7" stroke="#2a2a2a" stroke-width="1"/>
<text x="400.6" y="350.7" font-size="15" class="t" text-anchor="end" fill="#000">1</text>
<line x1="402.6" y1="326.7" x2="399.6" y2="326.7" stroke="#2a2a2a" stroke-width="1"/>
<text x="400.6" y="330.7" font-size="15" class="t" text-anchor="end" fill="#000">2</text>
<line x1="402.6" y1="366.7" x2="402.6" y2="369.7" stroke="#2a2a2a" stroke-width="1"/>
<line x1="415.6" y1="366.7" x2="415.6" y2="368.7" stroke="#2a2a2a" stroke-width="0.9"/>
<text x="402.6" y="380.7" font-size="15" class="t" text-anchor="middle" fill="#000">-2.2</text>
<line x1="428.6" y1="366.7" x2="428.6" y2="369.7" stroke="#2a2a2a" stroke-width="1"/>
<line x1="441.6" y1="366.7" x2="441.6" y2="368.7" stroke="#2a2a2a" stroke-width="0.9"/>
<text x="428.6" y="380.7" font-size="15" class="t" text-anchor="middle" fill="#000">-2.0</text>
<line x1="454.6" y1="366.7" x2="454.6" y2="369.7" stroke="#2a2a2a" stroke-width="1"/>
<line x1="467.6" y1="366.7" x2="467.6" y2="368.7" stroke="#2a2a2a" stroke-width="0.9"/>
<text x="454.6" y="380.7" font-size="15" class="t" text-anchor="middle" fill="#000">-1.8</text>
<line x1="480.5" y1="366.7" x2="480.5" y2="369.7" stroke="#2a2a2a" stroke-width="1"/>
<line x1="493.5" y1="366.7" x2="493.5" y2="368.7" stroke="#2a2a2a" stroke-width="0.9"/>
<text x="480.5" y="380.7" font-size="15" class="t" text-anchor="middle" fill="#000">-1.6</text>
<line x1="506.5" y1="366.7" x2="506.5" y2="369.7" stroke="#2a2a2a" stroke-width="1"/>
<line x1="519.5" y1="366.7" x2="519.5" y2="368.7" stroke="#2a2a2a" stroke-width="0.9"/>
<text x="506.5" y="380.7" font-size="15" class="t" text-anchor="middle" fill="#000">-1.4</text>
<line x1="532.5" y1="366.7" x2="532.5" y2="369.7" stroke="#2a2a2a" stroke-width="1"/>
<line x1="545.5" y1="366.7" x2="545.5" y2="368.7" stroke="#2a2a2a" stroke-width="0.9"/>
<text x="532.5" y="380.7" font-size="15" class="t" text-anchor="middle" fill="#000">-1.2</text>
<line x1="558.5" y1="366.7" x2="558.5" y2="369.7" stroke="#2a2a2a" stroke-width="1"/>
<line x1="571.5" y1="366.7" x2="571.5" y2="368.7" stroke="#2a2a2a" stroke-width="0.9"/>
<text x="558.5" y="380.7" font-size="15" class="t" text-anchor="middle" fill="#000">-1.0</text>
<line x1="584.5" y1="366.7" x2="584.5" y2="369.7" stroke="#2a2a2a" stroke-width="1"/>
<text x="584.5" y="380.7" font-size="15" class="t" text-anchor="middle" fill="#000">-0.8</text>
<text x="389.6" y="341.3" font-size="15" class="t" text-anchor="middle" fill="#000" transform="rotate(-90 389.6 341.3)">Density</text>
<line x1="420.6" y1="381.7" x2="420.6" y2="545.3" stroke="#d6d6d6" stroke-width="0.6" stroke-dasharray="1 2"/>
<line x1="448.4" y1="381.7" x2="448.4" y2="545.3" stroke="#d6d6d6" stroke-width="0.6" stroke-dasharray="1 2"/>
<line x1="476.1" y1="381.7" x2="476.1" y2="545.3" stroke="#d6d6d6" stroke-width="0.6" stroke-dasharray="1 2"/>
<line x1="503.9" y1="381.7" x2="503.9" y2="545.3" stroke="#d6d6d6" stroke-width="0.6" stroke-dasharray="1 2"/>
<line x1="531.6" y1="381.7" x2="531.6" y2="545.3" stroke="#d6d6d6" stroke-width="0.6" stroke-dasharray="1 2"/>
<line x1="559.4" y1="381.7" x2="559.4" y2="545.3" stroke="#d6d6d6" stroke-width="0.6" stroke-dasharray="1 2"/>
<line x1="587.1" y1="381.7" x2="587.1" y2="545.3" stroke="#d6d6d6" stroke-width="0.6" stroke-dasharray="1 2"/>
<line x1="402.6" y1="396.0" x2="605.5" y2="396.0" stroke="#d6d6d6" stroke-width="0.6" stroke-dasharray="1 2"/>
<line x1="402.6" y1="418.6" x2="605.5" y2="418.6" stroke="#d6d6d6" stroke-width="0.6" stroke-dasharray="1 2"/>
<line x1="402.6" y1="441.2" x2="605.5" y2="441.2" stroke="#d6d6d6" stroke-width="0.6" stroke-dasharray="1 2"/>
<line x1="402.6" y1="463.8" x2="605.5" y2="463.8" stroke="#d6d6d6" stroke-width="0.6" stroke-dasharray="1 2"/>
<line x1="402.6" y1="486.4" x2="605.5" y2="486.4" stroke="#d6d6d6" stroke-width="0.6" stroke-dasharray="1 2"/>
<line x1="402.6" y1="509.0" x2="605.5" y2="509.0" stroke="#d6d6d6" stroke-width="0.6" stroke-dasharray="1 2"/>
<line x1="402.6" y1="531.6" x2="605.5" y2="531.6" stroke="#d6d6d6" stroke-width="0.6" stroke-dasharray="1 2"/>
<clipPath id="cps"><rect x="402.6" y="381.7" width="202.9" height="163.6"/></clipPath>
<g clip-path="url(#cps)">
<line x1="402.6" y1="546.3" x2="605.5" y2="381.0" stroke="#9a9a9a" stroke-width="0.8"/>
<circle cx="403.5" cy="542.5" r="2.2" fill="#7cc6f8" stroke="#3f6f9f" stroke-width="0.7"/>
<circle cx="436.4" cy="516.1" r="2.2" fill="#7cc6f8" stroke="#3f6f9f" stroke-width="0.7"/>
<circle cx="472.0" cy="487.0" r="2.2" fill="#7cc6f8" stroke="#3f6f9f" stroke-width="0.7"/>
<circle cx="505.7" cy="458.9" r="2.2" fill="#7cc6f8" stroke="#3f6f9f" stroke-width="0.7"/>
<circle cx="510.7" cy="465.2" r="2.2" fill="#7cc6f8" stroke="#3f6f9f" stroke-width="0.7"/>
<circle cx="534.8" cy="438.1" r="2.2" fill="#7cc6f8" stroke="#3f6f9f" stroke-width="0.7"/>
<circle cx="537.9" cy="439.8" r="2.2" fill="#7cc6f8" stroke="#3f6f9f" stroke-width="0.7"/>
<circle cx="558.2" cy="418.8" r="2.2" fill="#7cc6f8" stroke="#3f6f9f" stroke-width="0.7"/>
<circle cx="563.7" cy="414.4" r="2.2" fill="#7cc6f8" stroke="#3f6f9f" stroke-width="0.7"/>
<circle cx="578.0" cy="401.8" r="2.2" fill="#7cc6f8" stroke="#3f6f9f" stroke-width="0.7"/>
<circle cx="584.5" cy="395.4" r="2.2" fill="#7cc6f8" stroke="#3f6f9f" stroke-width="0.7"/>
<circle cx="592.8" cy="390.8" r="2.2" fill="#7cc6f8" stroke="#3f6f9f" stroke-width="0.7"/>
<circle cx="597.3" cy="385.2" r="2.2" fill="#7cc6f8" stroke="#3f6f9f" stroke-width="0.7"/>
<circle cx="601.2" cy="383.2" r="2.2" fill="#7cc6f8" stroke="#3f6f9f" stroke-width="0.7"/>
<circle cx="604.5" cy="383.2" r="2.2" fill="#7cc6f8" stroke="#3f6f9f" stroke-width="0.7"/>
<circle cx="604.2" cy="385.5" r="2.2" fill="#7cc6f8" stroke="#3f6f9f" stroke-width="0.7"/>
<circle cx="604.8" cy="387.8" r="2.2" fill="#7cc6f8" stroke="#3f6f9f" stroke-width="0.7"/>
</g>
<line x1="402.6" y1="381.7" x2="605.5" y2="381.7" stroke="#777" stroke-width="1.2"/>
<line x1="605.5" y1="381.7" x2="605.5" y2="545.3" stroke="#777" stroke-width="1.2"/>
<line x1="402.6" y1="381.1" x2="402.6" y2="545.9" stroke="#1a1a1a" stroke-width="1.4"/>
<line x1="402.0" y1="545.3" x2="606.1" y2="545.3" stroke="#1a1a1a" stroke-width="1.4"/>
<line x1="420.6" y1="545.3" x2="420.6" y2="542.3" stroke="#1a1a1a" stroke-width="1.1"/>
<text x="420.6" y="562.1" font-size="14.7" class="t" text-anchor="middle" fill="#000">-2.0</text>
<line x1="448.4" y1="545.3" x2="448.4" y2="542.3" stroke="#1a1a1a" stroke-width="1.1"/>
<text x="448.4" y="562.1" font-size="14.7" class="t" text-anchor="middle" fill="#000">-1.8</text>
<line x1="476.1" y1="545.3" x2="476.1" y2="542.3" stroke="#1a1a1a" stroke-width="1.1"/>
<text x="476.1" y="562.1" font-size="14.7" class="t" text-anchor="middle" fill="#000">-1.6</text>
<line x1="503.9" y1="545.3" x2="503.9" y2="542.3" stroke="#1a1a1a" stroke-width="1.1"/>
<text x="503.9" y="562.1" font-size="14.7" class="t" text-anchor="middle" fill="#000">-1.4</text>
<line x1="531.6" y1="545.3" x2="531.6" y2="542.3" stroke="#1a1a1a" stroke-width="1.1"/>
<text x="531.6" y="562.1" font-size="14.7" class="t" text-anchor="middle" fill="#000">-1.2</text>
<line x1="559.4" y1="545.3" x2="559.4" y2="542.3" stroke="#1a1a1a" stroke-width="1.1"/>
<text x="559.4" y="562.1" font-size="14.7" class="t" text-anchor="middle" fill="#000">-1.0</text>
<line x1="587.1" y1="545.3" x2="587.1" y2="542.3" stroke="#1a1a1a" stroke-width="1.1"/>
<text x="587.1" y="562.1" font-size="14.7" class="t" text-anchor="middle" fill="#000">-0.8</text>
<line x1="402.6" y1="396.0" x2="405.6" y2="396.0" stroke="#1a1a1a" stroke-width="1.1"/>
<text x="398.6" y="401.0" font-size="14.7" class="t" text-anchor="end" fill="#000">-0.8</text>
<line x1="402.6" y1="418.6" x2="405.6" y2="418.6" stroke="#1a1a1a" stroke-width="1.1"/>
<text x="398.6" y="423.6" font-size="14.7" class="t" text-anchor="end" fill="#000">-1.0</text>
<line x1="402.6" y1="441.2" x2="405.6" y2="441.2" stroke="#1a1a1a" stroke-width="1.1"/>
<text x="398.6" y="446.2" font-size="14.7" class="t" text-anchor="end" fill="#000">-1.2</text>
<line x1="402.6" y1="463.8" x2="405.6" y2="463.8" stroke="#1a1a1a" stroke-width="1.1"/>
<text x="398.6" y="468.8" font-size="14.7" class="t" text-anchor="end" fill="#000">-1.4</text>
<line x1="402.6" y1="486.4" x2="405.6" y2="486.4" stroke="#1a1a1a" stroke-width="1.1"/>
<text x="398.6" y="491.4" font-size="14.7" class="t" text-anchor="end" fill="#000">-1.6</text>
<line x1="402.6" y1="509.0" x2="405.6" y2="509.0" stroke="#1a1a1a" stroke-width="1.1"/>
<text x="398.6" y="514.0" font-size="14.7" class="t" text-anchor="end" fill="#000">-1.8</text>
<line x1="402.6" y1="531.6" x2="405.6" y2="531.6" stroke="#1a1a1a" stroke-width="1.1"/>
<text x="398.6" y="536.6" font-size="14.7" class="t" text-anchor="end" fill="#000">-2.0</text>
<text x="370.5" y="463.4" font-size="15.3" class="t" text-anchor="middle" fill="#000" transform="rotate(-90 370.5 463.4)">Test set predicted values</text>
<text x="504.6" y="575.5" font-size="15.3" class="t" text-anchor="middle" fill="#000">Test set true value</text>
<line x1="653.8" y1="381.7" x2="653.8" y2="545.5" stroke="#d6d6d6" stroke-width="0.6" stroke-dasharray="1 2"/>
<line x1="674.3" y1="381.7" x2="674.3" y2="545.5" stroke="#d6d6d6" stroke-width="0.6" stroke-dasharray="1 2"/>
<line x1="633.3" y1="399.7" x2="684.3" y2="399.7" stroke="#d6d6d6" stroke-width="0.6" stroke-dasharray="1 2"/>
<line x1="633.3" y1="421.5" x2="684.3" y2="421.5" stroke="#d6d6d6" stroke-width="0.6" stroke-dasharray="1 2"/>
<line x1="633.3" y1="443.3" x2="684.3" y2="443.3" stroke="#d6d6d6" stroke-width="0.6" stroke-dasharray="1 2"/>
<line x1="633.3" y1="465.1" x2="684.3" y2="465.1" stroke="#d6d6d6" stroke-width="0.6" stroke-dasharray="1 2"/>
<line x1="633.3" y1="486.9" x2="684.3" y2="486.9" stroke="#d6d6d6" stroke-width="0.6" stroke-dasharray="1 2"/>
<line x1="633.3" y1="508.7" x2="684.3" y2="508.7" stroke="#d6d6d6" stroke-width="0.6" stroke-dasharray="1 2"/>
<line x1="633.3" y1="530.5" x2="684.3" y2="530.5" stroke="#d6d6d6" stroke-width="0.6" stroke-dasharray="1 2"/>
<rect x="633.3" y="381.7" width="47.8" height="18.0" fill="#00ffff" stroke="#2a2a2a" stroke-width="0.9"/>
<rect x="633.3" y="399.7" width="10.9" height="21.8" fill="#00ffff" stroke="#2a2a2a" stroke-width="0.9"/>
<rect x="633.3" y="421.5" width="16.4" height="21.8" fill="#00ffff" stroke="#2a2a2a" stroke-width="0.9"/>
<rect x="633.3" y="443.3" width="5.1" height="102.2" fill="#00ffff" stroke="#2a2a2a" stroke-width="0.9"/>
<rect x="633.3" y="381.7" width="51.0" height="163.8" fill="none" stroke="#2a2a2a" stroke-width="1.2"/>
<line x1="633.3" y1="399.7" x2="638.3" y2="399.7" stroke="#2a2a2a" stroke-width="1.1"/>
<text x="631.2" y="404.7" font-size="15" class="t" text-anchor="end" fill="#000">-0.8</text>
<line x1="633.3" y1="421.5" x2="638.3" y2="421.5" stroke="#2a2a2a" stroke-width="1.1"/>
<text x="631.2" y="426.5" font-size="15" class="t" text-anchor="end" fill="#000">-1.0</text>
<line x1="633.3" y1="443.3" x2="638.3" y2="443.3" stroke="#2a2a2a" stroke-width="1.1"/>
<text x="631.2" y="448.3" font-size="15" class="t" text-anchor="end" fill="#000">-1.2</text>
<line x1="633.3" y1="465.1" x2="638.3" y2="465.1" stroke="#2a2a2a" stroke-width="1.1"/>
<text x="631.2" y="470.1" font-size="15" class="t" text-anchor="end" fill="#000">-1.4</text>
<line x1="633.3" y1="486.9" x2="638.3" y2="486.9" stroke="#2a2a2a" stroke-width="1.1"/>
<text x="631.2" y="491.9" font-size="15" class="t" text-anchor="end" fill="#000">-1.6</text>
<line x1="633.3" y1="508.7" x2="638.3" y2="508.7" stroke="#2a2a2a" stroke-width="1.1"/>
<text x="631.2" y="513.7" font-size="15" class="t" text-anchor="end" fill="#000">-1.8</text>
<line x1="633.3" y1="530.5" x2="638.3" y2="530.5" stroke="#2a2a2a" stroke-width="1.1"/>
<text x="631.2" y="535.5" font-size="15" class="t" text-anchor="end" fill="#000">-2.0</text>
<line x1="633.3" y1="388.8" x2="635.8" y2="388.8" stroke="#2a2a2a" stroke-width="0.9"/>
<line x1="633.3" y1="410.6" x2="635.8" y2="410.6" stroke="#2a2a2a" stroke-width="0.9"/>
<line x1="633.3" y1="432.4" x2="635.8" y2="432.4" stroke="#2a2a2a" stroke-width="0.9"/>
<line x1="633.3" y1="454.2" x2="635.8" y2="454.2" stroke="#2a2a2a" stroke-width="0.9"/>
<line x1="633.3" y1="476.0" x2="635.8" y2="476.0" stroke="#2a2a2a" stroke-width="0.9"/>
<line x1="633.3" y1="497.8" x2="635.8" y2="497.8" stroke="#2a2a2a" stroke-width="0.9"/>
<line x1="633.3" y1="519.6" x2="635.8" y2="519.6" stroke="#2a2a2a" stroke-width="0.9"/>
<line x1="633.3" y1="541.4" x2="635.8" y2="541.4" stroke="#2a2a2a" stroke-width="0.9"/>
<line x1="643.5" y1="545.5" x2="643.5" y2="543.0" stroke="#2a2a2a" stroke-width="0.9"/>
<line x1="664.0" y1="545.5" x2="664.0" y2="543.0" stroke="#2a2a2a" stroke-width="0.9"/>
<line x1="633.3" y1="545.5" x2="633.3" y2="542.5" stroke="#2a2a2a" stroke-width="1"/>
<text x="633.3" y="562.4" font-size="15" class="t" text-anchor="middle" fill="#000">0</text>
<line x1="653.8" y1="545.5" x2="653.8" y2="542.5" stroke="#2a2a2a" stroke-width="1"/>
<text x="653.8" y="562.4" font-size="15" class="t" text-anchor="middle" fill="#000">1</text>
<line x1="674.3" y1="545.5" x2="674.3" y2="542.5" stroke="#2a2a2a" stroke-width="1"/>
<text x="674.3" y="562.4" font-size="15" class="t" text-anchor="middle" fill="#000">2</text>
<text x="658.3" y="577.2" font-size="15" class="t" text-anchor="middle" fill="#000">Density</text>
<text x="25.6" y="611.2" font-size="17" class="t" fill="#000" textLength="310.8" lengthAdjust="spacing">(b) Comparison Chart of Predicted Values and</text>
<text x="126.1" y="635.3" font-size="17" class="t" fill="#000" textLength="94.6" lengthAdjust="spacing">Actual Values</text>
<text x="383.5" y="610.8" font-size="17.4" class="t" fill="#000" textLength="290.3" lengthAdjust="spacing">(c) Fitting Curve of Predicted Values and</text>
<text x="471.1" y="635.3" font-size="17.4" class="t" fill="#000" textLength="98.2" lengthAdjust="spacing">Actual Values</text>
</svg></body></html>
